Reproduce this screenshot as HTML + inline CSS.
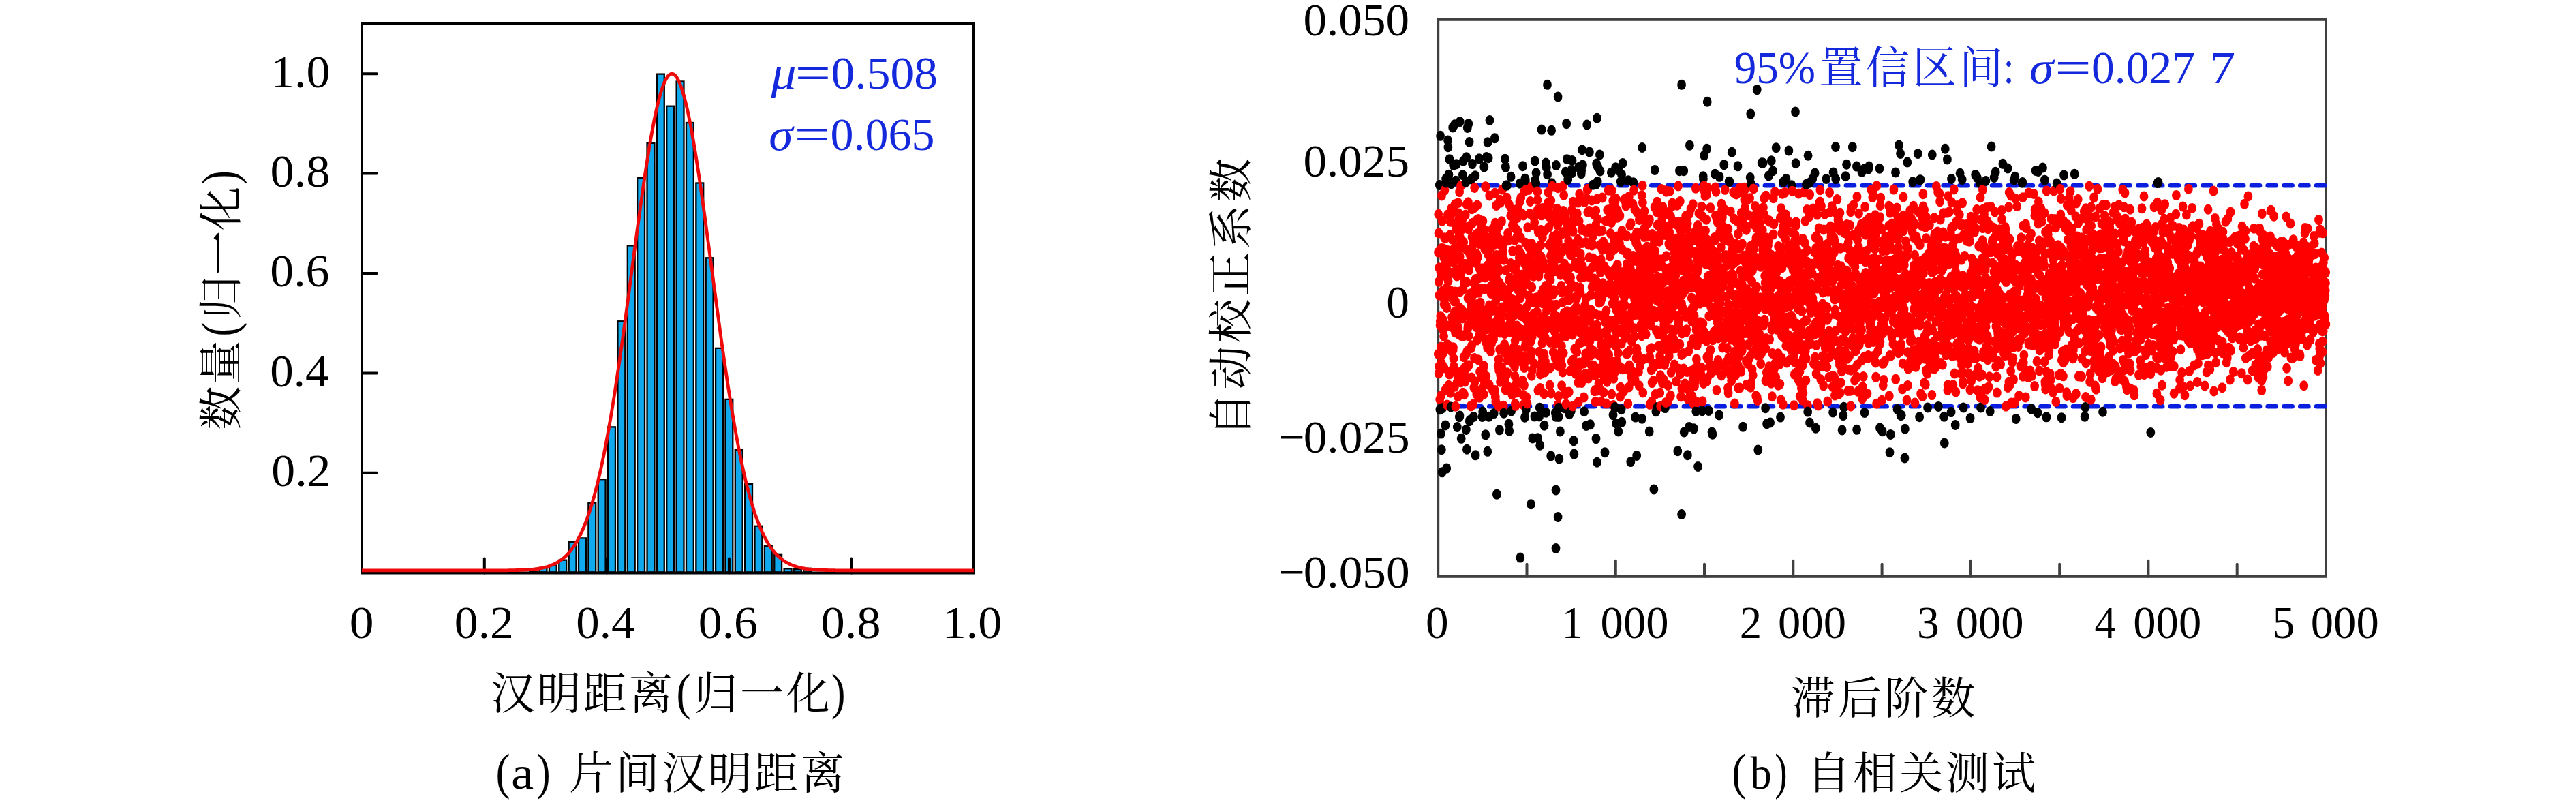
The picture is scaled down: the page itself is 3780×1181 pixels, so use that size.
<!DOCTYPE html>
<html lang="zh"><head><meta charset="utf-8"><title>figure</title>
<style>
html,body{margin:0;padding:0;background:#fff}
svg{display:block}
text{font-family:"Liberation Serif","Noto Serif CJK SC",serif;font-size:67px;fill:#000;white-space:pre}
.c{font-size:64.3px}
.b{fill:#1428dc}
.i{font-style:italic}
.p{font-size:73px}
</style></head><body>
<svg width="3780" height="1181" viewBox="0 0 3780 1181">
<rect width="3780" height="1181" fill="#fff"/>
<g fill="#10a9ee" stroke="#000" stroke-width="2.3">
<rect x="777.20" y="838.42" width="10.86" height="1.08"/>
<rect x="791.56" y="832.93" width="10.86" height="6.57"/>
<rect x="805.92" y="829.64" width="10.86" height="9.86"/>
<rect x="820.28" y="821.66" width="10.86" height="17.84"/>
<rect x="834.64" y="795.09" width="10.86" height="44.41"/>
<rect x="849.01" y="789.38" width="10.86" height="50.12"/>
<rect x="863.37" y="737.70" width="10.86" height="101.80"/>
<rect x="877.73" y="703.22" width="10.86" height="136.28"/>
<rect x="892.09" y="626.36" width="10.86" height="213.14"/>
<rect x="906.45" y="471.25" width="10.86" height="368.25"/>
<rect x="920.81" y="360.43" width="10.86" height="479.07"/>
<rect x="935.17" y="261.02" width="10.86" height="578.48"/>
<rect x="949.54" y="209.85" width="10.86" height="629.65"/>
<rect x="963.90" y="108.62" width="10.86" height="730.88"/>
<rect x="978.26" y="155.69" width="10.86" height="683.81"/>
<rect x="992.62" y="119.45" width="10.86" height="720.05"/>
<rect x="1006.98" y="179.99" width="10.86" height="659.51"/>
<rect x="1021.34" y="268.49" width="10.86" height="571.01"/>
<rect x="1035.71" y="378.29" width="10.86" height="461.21"/>
<rect x="1050.07" y="510.85" width="10.86" height="328.65"/>
<rect x="1064.43" y="585.88" width="10.86" height="253.62"/>
<rect x="1078.79" y="659.96" width="10.86" height="179.54"/>
<rect x="1093.15" y="709.88" width="10.86" height="129.62"/>
<rect x="1107.51" y="771.74" width="10.86" height="67.76"/>
<rect x="1121.88" y="800.87" width="10.86" height="38.63"/>
<rect x="1136.24" y="813.83" width="10.86" height="25.67"/>
<rect x="1150.60" y="834.32" width="10.86" height="5.18"/>
<rect x="1164.96" y="835.13" width="10.86" height="4.37"/>
<rect x="1179.32" y="833.88" width="10.86" height="5.62"/>
</g>
<g fill="none" stroke="#000" stroke-width="4" stroke-linecap="round">
<rect x="531.0" y="35.0" width="898.0" height="805.5" stroke-linejoin="miter"/>
<path d="M531.0 693.8H553.0"/>
<path d="M531.0 547.4H553.0"/>
<path d="M531.0 401.0H553.0"/>
<path d="M531.0 254.6H553.0"/>
<path d="M531.0 108.2H553.0"/>
<path d="M710.8 840.5V819.5"/>
<path d="M890.3 840.5V819.5"/>
<path d="M1069.9 840.5V819.5"/>
<path d="M1249.4 840.5V819.5"/>
</g>
<path d="M531.0 836.9 L533.5 836.9 L535.8 836.9 L538.0 836.9 L540.3 836.9 L542.5 836.9 L544.8 836.9 L547.0 836.9 L549.3 836.9 L551.5 836.9 L553.7 836.9 L556.0 836.9 L558.2 836.9 L560.5 836.9 L562.7 836.9 L565.0 836.9 L567.2 836.9 L569.4 836.9 L571.7 836.9 L573.9 836.9 L576.2 836.9 L578.4 836.9 L580.7 836.9 L582.9 836.9 L585.2 836.9 L587.4 836.9 L589.6 836.9 L591.9 836.9 L594.1 836.9 L596.4 836.9 L598.6 836.9 L600.9 836.9 L603.1 836.9 L605.4 836.9 L607.6 836.9 L609.8 836.9 L612.1 836.9 L614.3 836.9 L616.6 836.9 L618.8 836.9 L621.1 836.9 L623.3 836.9 L625.5 836.9 L627.8 836.9 L630.0 836.9 L632.3 836.9 L634.5 836.9 L636.8 836.9 L639.0 836.9 L641.3 836.9 L643.5 836.9 L645.7 836.9 L648.0 836.9 L650.2 836.9 L652.5 836.9 L654.7 836.9 L657.0 836.9 L659.2 836.9 L661.5 836.9 L663.7 836.9 L665.9 836.9 L668.2 836.9 L670.4 836.9 L672.7 836.9 L674.9 836.9 L677.2 836.9 L679.4 836.9 L681.6 836.9 L683.9 836.9 L686.1 836.9 L688.4 836.9 L690.6 836.9 L692.9 836.9 L695.1 836.9 L697.4 836.9 L699.6 836.9 L701.8 836.9 L704.1 836.9 L706.3 836.9 L708.6 836.9 L710.8 836.9 L713.1 836.9 L715.3 836.9 L717.6 836.9 L719.8 836.9 L722.0 836.9 L724.3 836.9 L726.5 836.9 L728.8 836.9 L731.0 836.9 L733.3 836.8 L735.5 836.8 L737.7 836.8 L740.0 836.8 L742.2 836.8 L744.5 836.8 L746.7 836.7 L749.0 836.7 L751.2 836.7 L753.5 836.6 L755.7 836.6 L757.9 836.5 L760.2 836.5 L762.4 836.4 L764.7 836.3 L766.9 836.2 L769.2 836.1 L771.4 836.0 L773.7 835.9 L775.9 835.7 L778.1 835.6 L780.4 835.4 L782.6 835.2 L784.9 834.9 L787.1 834.6 L789.4 834.3 L791.6 834.0 L793.8 833.6 L796.1 833.1 L798.3 832.6 L800.6 832.1 L802.8 831.5 L805.1 830.8 L807.3 830.0 L809.6 829.1 L811.8 828.2 L814.0 827.1 L816.3 826.0 L818.5 824.7 L820.8 823.3 L823.0 821.8 L825.3 820.1 L827.5 818.2 L829.8 816.2 L832.0 814.0 L834.2 811.6 L836.5 809.0 L838.7 806.1 L841.0 803.0 L843.2 799.7 L845.5 796.0 L847.7 792.1 L849.9 787.9 L852.2 783.4 L854.4 778.5 L856.7 773.3 L858.9 767.8 L861.2 761.8 L863.4 755.5 L865.7 748.7 L867.9 741.6 L870.1 734.0 L872.4 726.0 L874.6 717.5 L876.9 708.5 L879.1 699.1 L881.4 689.2 L883.6 678.9 L885.9 668.1 L888.1 656.7 L890.3 645.0 L892.6 632.7 L894.8 620.0 L897.1 606.8 L899.3 593.2 L901.6 579.2 L903.8 564.7 L906.0 549.9 L908.3 534.7 L910.5 519.1 L912.8 503.3 L915.0 487.2 L917.3 470.8 L919.5 454.2 L921.8 437.5 L924.0 420.7 L926.2 403.7 L928.5 386.8 L930.7 369.9 L933.0 353.0 L935.2 336.3 L937.5 319.8 L939.7 303.5 L942.0 287.5 L944.2 271.8 L946.4 256.6 L948.7 241.8 L950.9 227.6 L953.2 213.9 L955.4 200.8 L957.7 188.5 L959.9 176.8 L962.1 166.0 L964.4 155.9 L966.6 146.8 L968.9 138.5 L971.1 131.2 L973.4 124.8 L975.6 119.4 L977.9 115.1 L980.1 111.8 L982.3 109.6 L984.6 108.4 L986.8 108.3 L989.1 109.2 L991.3 111.3 L993.6 114.4 L995.8 118.5 L998.1 123.7 L1000.3 129.8 L1002.5 137.0 L1004.8 145.0 L1007.0 154.0 L1009.3 163.9 L1011.5 174.6 L1013.8 186.1 L1016.0 198.3 L1018.2 211.2 L1020.5 224.8 L1022.7 238.9 L1025.0 253.6 L1027.2 268.8 L1029.5 284.3 L1031.7 300.3 L1034.0 316.5 L1036.2 333.0 L1038.4 349.7 L1040.7 366.5 L1042.9 383.4 L1045.2 400.3 L1047.4 417.3 L1049.7 434.1 L1051.9 450.9 L1054.2 467.5 L1056.4 483.9 L1058.6 500.1 L1060.9 516.0 L1063.1 531.6 L1065.4 546.9 L1067.6 561.8 L1069.9 576.3 L1072.1 590.4 L1074.3 604.1 L1076.6 617.4 L1078.8 630.2 L1081.1 642.5 L1083.3 654.4 L1085.6 665.8 L1087.8 676.8 L1090.1 687.2 L1092.3 697.2 L1094.5 706.7 L1096.8 715.7 L1099.0 724.3 L1101.3 732.4 L1103.5 740.1 L1105.8 747.3 L1108.0 754.2 L1110.3 760.6 L1112.5 766.6 L1114.7 772.2 L1117.0 777.5 L1119.2 782.4 L1121.5 787.0 L1123.7 791.3 L1126.0 795.3 L1128.2 798.9 L1130.4 802.4 L1132.7 805.5 L1134.9 808.4 L1137.2 811.1 L1139.4 813.5 L1141.7 815.8 L1143.9 817.8 L1146.2 819.7 L1148.4 821.5 L1150.6 823.0 L1152.9 824.5 L1155.1 825.7 L1157.4 826.9 L1159.6 828.0 L1161.9 829.0 L1164.1 829.8 L1166.4 830.6 L1168.6 831.3 L1170.8 832.0 L1173.1 832.5 L1175.3 833.0 L1177.6 833.5 L1179.8 833.9 L1182.1 834.3 L1184.3 834.6 L1186.5 834.9 L1188.8 835.1 L1191.0 835.3 L1193.3 835.5 L1195.5 835.7 L1197.8 835.9 L1200.0 836.0 L1202.3 836.1 L1204.5 836.2 L1206.7 836.3 L1209.0 836.4 L1211.2 836.5 L1213.5 836.5 L1215.7 836.6 L1218.0 836.6 L1220.2 836.7 L1222.5 836.7 L1224.7 836.7 L1226.9 836.8 L1229.2 836.8 L1231.4 836.8 L1233.7 836.8 L1235.9 836.8 L1238.2 836.8 L1240.4 836.8 L1242.6 836.9 L1244.9 836.9 L1247.1 836.9 L1249.4 836.9 L1251.6 836.9 L1253.9 836.9 L1256.1 836.9 L1258.4 836.9 L1260.6 836.9 L1262.8 836.9 L1265.1 836.9 L1267.3 836.9 L1269.6 836.9 L1271.8 836.9 L1274.1 836.9 L1276.3 836.9 L1278.6 836.9 L1280.8 836.9 L1283.0 836.9 L1285.3 836.9 L1287.5 836.9 L1289.8 836.9 L1292.0 836.9 L1294.3 836.9 L1296.5 836.9 L1298.7 836.9 L1301.0 836.9 L1303.2 836.9 L1305.5 836.9 L1307.7 836.9 L1310.0 836.9 L1312.2 836.9 L1314.5 836.9 L1316.7 836.9 L1318.9 836.9 L1321.2 836.9 L1323.4 836.9 L1325.7 836.9 L1327.9 836.9 L1330.2 836.9 L1332.4 836.9 L1334.7 836.9 L1336.9 836.9 L1339.1 836.9 L1341.4 836.9 L1343.6 836.9 L1345.9 836.9 L1348.1 836.9 L1350.4 836.9 L1352.6 836.9 L1354.8 836.9 L1357.1 836.9 L1359.3 836.9 L1361.6 836.9 L1363.8 836.9 L1366.1 836.9 L1368.3 836.9 L1370.6 836.9 L1372.8 836.9 L1375.0 836.9 L1377.3 836.9 L1379.5 836.9 L1381.8 836.9 L1384.0 836.9 L1386.3 836.9 L1388.5 836.9 L1390.8 836.9 L1393.0 836.9 L1395.2 836.9 L1397.5 836.9 L1399.7 836.9 L1402.0 836.9 L1404.2 836.9 L1406.5 836.9 L1408.7 836.9 L1410.9 836.9 L1413.2 836.9 L1415.4 836.9 L1417.7 836.9 L1419.9 836.9 L1422.2 836.9 L1424.4 836.9 L1426.7 836.9 L1428.9 836.9" fill="none" stroke="#ee0a0a" stroke-width="4.8" stroke-linejoin="round" stroke-linecap="butt"/>
<g fill="none" stroke="#404040" stroke-width="4" stroke-linecap="round">
<rect x="2110.2" y="28.8" width="1302.8" height="817.0"/>
<path d="M2240.5 845.8V827.8"/>
<path d="M2370.8 845.8V822.8"/>
<path d="M2501.0 845.8V827.8"/>
<path d="M2631.3 845.8V822.8"/>
<path d="M2761.6 845.8V827.8"/>
<path d="M2891.9 845.8V822.8"/>
<path d="M3022.2 845.8V827.8"/>
<path d="M3152.4 845.8V822.8"/>
<path d="M3282.7 845.8V827.8"/>
</g>
<path d="M2113.8 272.3H3413.0" fill="none" stroke="#0a1ee0" stroke-width="6.5" stroke-dasharray="12.3 11.5" stroke-linecap="round"/>
<path d="M2113.8 596.3H3413.0" fill="none" stroke="#0a1ee0" stroke-width="6.5" stroke-dasharray="12.3 11.5" stroke-linecap="round"/>
<g fill="none" stroke-width="12.8" stroke-linecap="round" transform="scale(1 1.1719)">
<path stroke="#f00" d="M2110.3 443.2h0M2110.5 315.8h0M2110.7 268.1h0M2111.0 291.8h0M2111.2 467.5h0M2111.4 352.7h0M2111.6 458.7h0M2111.8 335.1h0M2112.0 369.6h0"/>
<path stroke="#000" d="M2112.3 231.7h0"/>
<path stroke="#f00" d="M2112.5 442.8h0M2112.7 500.1h0"/>
<path stroke="#000" d="M2112.9 512.7h0"/>
<path stroke="#f00" d="M2113.1 407.5h0M2113.3 402.1h0"/>
<path stroke="#000" d="M2113.6 170.1h0"/>
<path stroke="#f00" d="M2113.8 395.7h0M2114.0 341.0h0M2114.2 495.6h0"/>
<path stroke="#000" d="M2114.4 542.8h0"/>
<path stroke="#f00" d="M2114.7 434.4h0M2114.9 454.5h0M2115.1 311.0h0"/>
<path stroke="#000" d="M2115.3 563.0h0"/>
<path stroke="#f00" d="M2115.5 244.8h0M2115.7 339.7h0M2116.0 398.1h0"/>
<path stroke="#000" d="M2116.1 591.2h0"/>
<path stroke="#f00" d="M2116.2 276.6h0M2116.4 457.2h0"/>
<path stroke="#000" d="M2116.6 510.9h0"/>
<path stroke="#f00" d="M2116.8 441.2h0M2117.0 443.0h0M2117.3 364.1h0M2117.5 400.6h0M2117.7 413.2h0M2117.9 311.3h0M2118.1 334.3h0M2118.3 345.0h0M2118.6 420.9h0M2118.8 322.8h0M2119.0 460.7h0M2119.2 381.0h0M2119.4 375.3h0M2119.6 297.7h0M2119.9 238.1h0M2120.1 374.2h0M2120.3 489.0h0M2120.5 363.5h0M2120.7 298.5h0"/>
<path stroke="#000" d="M2120.9 532.4h0"/>
<path stroke="#f00" d="M2121.2 382.4h0M2121.4 361.8h0"/>
<path stroke="#000" d="M2121.6 224.0h0"/>
<path stroke="#f00" d="M2121.8 371.4h0"/>
<path stroke="#000" d="M2122.0 228.7h0"/>
<path stroke="#f00" d="M2122.3 361.7h0M2122.5 332.4h0"/>
<path stroke="#000" d="M2122.7 586.3h0"/>
<path stroke="#f00" d="M2122.9 385.2h0M2123.1 485.5h0M2123.3 506.8h0M2123.6 340.0h0M2123.8 431.6h0M2124.0 366.0h0M2124.2 313.5h0M2124.4 268.8h0"/>
<path stroke="#000" d="M2124.6 175.8h0M2124.9 184.1h0"/>
<path stroke="#f00" d="M2125.1 351.9h0M2125.3 407.9h0M2125.5 340.3h0M2125.7 482.3h0"/>
<path stroke="#000" d="M2125.9 218.6h0"/>
<path stroke="#f00" d="M2126.2 269.7h0M2126.4 327.3h0M2126.6 434.5h0M2126.8 468.5h0"/>
<path stroke="#000" d="M2127.0 199.4h0"/>
<path stroke="#f00" d="M2127.2 434.1h0M2127.5 294.4h0M2127.7 315.2h0M2127.9 437.1h0M2128.1 277.6h0M2128.3 491.7h0M2128.5 364.0h0M2128.8 269.7h0"/>
<path stroke="#000" d="M2129.0 509.4h0"/>
<path stroke="#f00" d="M2129.2 371.9h0"/>
<path stroke="#000" d="M2129.4 230.2h0"/>
<path stroke="#f00" d="M2129.6 261.2h0M2129.9 406.1h0M2130.1 439.9h0M2130.3 463.9h0M2130.5 397.0h0M2130.7 321.9h0M2130.9 299.7h0M2131.2 409.6h0M2131.4 341.5h0M2131.6 437.4h0"/>
<path stroke="#000" d="M2131.7 159.5h0"/>
<path stroke="#f00" d="M2131.8 313.1h0M2132.0 262.9h0M2132.2 438.2h0M2132.5 435.0h0"/>
<path stroke="#000" d="M2132.7 206.8h0"/>
<path stroke="#f00" d="M2132.9 448.7h0M2133.1 328.2h0M2133.3 458.7h0M2133.5 312.6h0M2133.8 377.1h0M2134.0 391.1h0M2134.2 369.2h0M2134.4 484.1h0"/>
<path stroke="#000" d="M2134.6 156.0h0"/>
<path stroke="#f00" d="M2134.8 365.2h0M2135.1 255.8h0M2135.3 280.7h0M2135.5 416.3h0M2135.7 377.3h0M2135.9 508.8h0"/>
<path stroke="#000" d="M2136.1 226.4h0"/>
<path stroke="#f00" d="M2136.4 308.4h0M2136.6 286.2h0M2136.8 365.4h0"/>
<path stroke="#000" d="M2137.0 205.5h0"/>
<path stroke="#f00" d="M2137.2 337.6h0M2137.5 395.0h0M2137.7 279.7h0M2137.9 345.5h0M2138.1 478.5h0"/>
<path stroke="#000" d="M2138.3 534.6h0"/>
<path stroke="#f00" d="M2138.5 286.1h0M2138.8 401.4h0M2139.0 471.5h0M2139.2 398.5h0M2139.4 496.5h0M2139.6 253.9h0M2139.8 410.3h0M2140.1 267.0h0M2140.3 475.1h0M2140.5 274.8h0M2140.7 418.5h0M2140.9 296.9h0M2141.1 293.1h0"/>
<path stroke="#000" d="M2141.4 522.0h0"/>
<path stroke="#f00" d="M2141.6 240.3h0M2141.8 385.3h0"/>
<path stroke="#000" d="M2142.0 520.5h0M2142.2 152.4h0"/>
<path stroke="#f00" d="M2142.2 321.2h0M2142.4 466.2h0M2142.7 365.0h0M2142.9 298.1h0M2143.1 344.1h0M2143.3 474.3h0M2143.5 232.7h0M2143.7 478.5h0M2144.0 306.7h0"/>
<path stroke="#000" d="M2144.2 549.0h0"/>
<path stroke="#f00" d="M2144.4 310.2h0M2144.6 336.6h0M2144.8 420.6h0M2145.0 330.7h0M2145.3 388.4h0M2145.5 338.9h0M2145.7 275.0h0M2145.9 306.8h0M2146.1 398.5h0"/>
<path stroke="#000" d="M2146.4 219.1h0"/>
<path stroke="#f00" d="M2146.6 491.7h0M2146.8 286.3h0M2147.0 362.3h0"/>
<path stroke="#000" d="M2147.2 201.6h0"/>
<path stroke="#f00" d="M2147.4 419.7h0M2147.7 303.1h0M2147.9 420.5h0M2148.1 447.0h0M2148.3 354.8h0M2148.5 493.8h0M2148.7 284.2h0M2149.0 352.7h0M2149.2 460.5h0M2149.4 330.4h0M2149.6 353.5h0M2149.8 477.8h0M2150.0 475.1h0M2150.3 269.0h0M2150.5 472.0h0M2150.7 419.6h0"/>
<path stroke="#000" d="M2150.9 228.1h0"/>
<path stroke="#f00" d="M2151.1 461.8h0"/>
<path stroke="#000" d="M2151.3 538.0h0"/>
<path stroke="#f00" d="M2151.6 443.3h0"/>
<path stroke="#000" d="M2151.8 196.9h0"/>
<path stroke="#f00" d="M2152.0 353.3h0M2152.2 255.9h0"/>
<path stroke="#000" d="M2152.4 562.6h0"/>
<path stroke="#f00" d="M2152.6 313.4h0M2152.9 439.7h0M2153.1 457.5h0"/>
<path stroke="#000" d="M2153.3 160.0h0"/>
<path stroke="#f00" d="M2153.5 459.1h0M2153.7 411.2h0M2154.0 373.1h0M2154.2 407.6h0M2154.4 253.2h0M2154.6 286.6h0"/>
<path stroke="#000" d="M2154.7 155.0h0"/>
<path stroke="#f00" d="M2154.8 420.0h0M2155.0 420.6h0M2155.3 457.2h0M2155.5 390.8h0M2155.7 338.2h0M2155.9 395.1h0"/>
<path stroke="#000" d="M2156.1 177.9h0M2156.3 527.1h0M2156.6 526.1h0"/>
<path stroke="#f00" d="M2156.8 282.8h0M2157.0 315.1h0M2157.2 319.3h0M2157.4 328.4h0M2157.6 367.5h0M2157.9 398.3h0M2158.1 508.1h0M2158.3 382.4h0M2158.5 508.6h0M2158.7 435.7h0"/>
<path stroke="#000" d="M2158.9 224.4h0"/>
<path stroke="#f00" d="M2159.2 400.4h0M2159.4 472.8h0M2159.6 432.5h0M2159.8 261.8h0M2160.0 296.7h0M2160.2 309.5h0"/>
<path stroke="#000" d="M2160.5 205.3h0"/>
<path stroke="#f00" d="M2160.7 367.1h0M2160.9 279.3h0M2161.1 324.2h0M2161.3 299.9h0M2161.6 379.9h0M2161.8 368.4h0M2162.0 506.0h0M2162.2 383.5h0"/>
<path stroke="#000" d="M2162.4 521.7h0"/>
<path stroke="#f00" d="M2162.6 367.7h0M2162.9 485.2h0M2163.1 355.1h0M2163.3 260.0h0M2163.5 448.5h0M2163.7 235.1h0M2163.9 383.9h0M2164.2 355.6h0M2164.4 477.8h0M2164.6 357.3h0"/>
<path stroke="#000" d="M2164.8 219.9h0"/>
<path stroke="#f00" d="M2165.0 294.5h0"/>
<path stroke="#000" d="M2165.1 569.9h0"/>
<path stroke="#f00" d="M2165.2 349.4h0M2165.5 298.7h0M2165.7 409.2h0M2165.9 383.4h0M2166.1 329.1h0M2166.3 390.6h0M2166.5 327.6h0M2166.8 493.7h0M2167.0 318.1h0M2167.2 275.4h0M2167.4 425.9h0M2167.6 298.9h0M2167.8 256.8h0M2168.1 292.3h0M2168.3 399.4h0M2168.5 322.0h0M2168.7 380.7h0M2168.9 497.1h0M2169.2 450.3h0M2169.4 274.4h0M2169.6 366.2h0M2169.8 348.1h0M2170.0 389.3h0M2170.2 305.0h0"/>
<path stroke="#000" d="M2170.5 198.7h0"/>
<path stroke="#f00" d="M2170.7 299.9h0M2170.9 497.6h0M2171.1 418.3h0M2171.3 336.7h0M2171.5 465.3h0M2171.8 384.1h0M2172.0 379.7h0M2172.2 393.4h0M2172.4 378.9h0M2172.6 391.4h0M2172.8 410.6h0M2173.1 471.9h0M2173.3 414.1h0M2173.5 391.8h0M2173.7 487.6h0M2173.9 361.1h0M2174.1 283.7h0M2174.4 305.5h0M2174.6 417.6h0M2174.8 336.0h0"/>
<path stroke="#000" d="M2175.0 521.7h0"/>
<path stroke="#f00" d="M2175.2 392.6h0M2175.4 285.2h0"/>
<path stroke="#000" d="M2175.7 515.5h0"/>
<path stroke="#f00" d="M2175.9 276.6h0M2176.1 343.2h0M2176.3 462.7h0M2176.5 305.2h0M2176.8 388.6h0M2177.0 402.2h0M2177.2 493.5h0M2177.4 458.0h0M2177.6 290.9h0"/>
<path stroke="#000" d="M2177.8 209.0h0"/>
<path stroke="#f00" d="M2178.1 481.3h0M2178.3 361.5h0M2178.5 288.3h0M2178.7 311.6h0M2178.9 347.3h0M2179.1 424.9h0M2179.4 311.9h0M2179.6 233.6h0"/>
<path stroke="#000" d="M2179.8 544.3h0"/>
<path stroke="#f00" d="M2180.0 303.9h0M2180.2 234.0h0M2180.4 301.0h0M2180.7 412.4h0M2180.9 471.1h0M2181.1 429.4h0"/>
<path stroke="#000" d="M2181.3 196.7h0"/>
<path stroke="#f00" d="M2181.5 399.3h0M2181.7 406.5h0M2182.0 303.5h0M2182.2 302.8h0M2182.4 332.6h0M2182.6 435.2h0"/>
<path stroke="#000" d="M2182.8 565.2h0M2183.0 178.1h0"/>
<path stroke="#f00" d="M2183.3 399.1h0M2183.5 299.6h0M2183.7 318.8h0M2183.9 338.7h0"/>
<path stroke="#000" d="M2184.1 197.7h0"/>
<path stroke="#f00" d="M2184.4 361.8h0M2184.6 342.2h0"/>
<path stroke="#000" d="M2184.8 521.5h0"/>
<path stroke="#f00" d="M2185.0 337.6h0M2185.2 481.8h0M2185.4 382.3h0M2185.7 244.8h0M2185.9 390.8h0"/>
<path stroke="#000" d="M2186.0 150.6h0"/>
<path stroke="#f00" d="M2186.1 340.0h0M2186.3 297.6h0M2186.5 324.9h0M2186.7 311.2h0M2187.0 436.9h0M2187.2 335.4h0M2187.4 439.9h0M2187.6 345.7h0M2187.8 358.2h0M2188.0 367.3h0M2188.3 385.7h0M2188.5 430.2h0M2188.7 426.3h0M2188.9 327.2h0M2189.1 425.5h0M2189.3 413.4h0M2189.6 326.0h0M2189.8 286.9h0M2190.0 327.5h0M2190.2 420.4h0M2190.4 488.6h0M2190.6 293.5h0M2190.9 382.1h0M2191.1 299.8h0M2191.3 407.7h0M2191.5 357.4h0M2191.7 424.3h0M2192.0 388.4h0"/>
<path stroke="#000" d="M2192.2 517.6h0"/>
<path stroke="#f00" d="M2192.4 414.1h0M2192.6 306.7h0M2192.8 288.0h0M2193.0 336.6h0"/>
<path stroke="#000" d="M2193.3 173.0h0"/>
<path stroke="#f00" d="M2193.5 488.6h0M2193.7 241.7h0M2193.9 404.3h0M2194.1 279.2h0M2194.3 497.0h0M2194.6 356.7h0M2194.8 502.6h0M2195.0 375.8h0M2195.2 321.7h0M2195.4 363.3h0M2195.6 257.3h0M2195.9 319.6h0M2196.1 349.2h0M2196.3 359.3h0"/>
<path stroke="#000" d="M2196.4 618.8h0"/>
<path stroke="#f00" d="M2196.5 287.7h0M2196.7 372.4h0M2196.9 340.8h0M2197.2 296.2h0M2197.4 327.1h0M2197.6 411.8h0M2197.8 323.6h0M2198.0 399.0h0M2198.2 458.1h0M2198.5 335.9h0M2198.7 404.7h0M2198.9 284.0h0M2199.1 450.1h0M2199.3 508.8h0M2199.6 463.6h0M2199.8 299.3h0M2200.0 338.5h0M2200.2 353.9h0"/>
<path stroke="#000" d="M2200.4 538.3h0"/>
<path stroke="#f00" d="M2200.6 437.5h0M2200.9 416.4h0M2201.1 250.2h0M2201.3 319.3h0M2201.5 478.0h0M2201.7 469.8h0M2201.9 253.6h0M2202.2 468.5h0M2202.4 392.3h0M2202.6 400.9h0M2202.8 413.3h0M2203.0 307.8h0M2203.2 384.8h0M2203.5 277.2h0M2203.7 459.9h0M2203.9 392.3h0M2204.1 475.8h0M2204.3 359.2h0M2204.5 237.3h0M2204.8 317.7h0M2205.0 370.4h0M2205.2 313.9h0M2205.4 410.2h0M2205.6 365.9h0M2205.8 306.8h0M2206.1 385.8h0M2206.3 507.9h0M2206.5 471.5h0"/>
<path stroke="#000" d="M2206.7 517.3h0"/>
<path stroke="#f00" d="M2206.9 325.3h0M2207.2 416.3h0M2207.4 441.4h0M2207.6 431.3h0M2207.8 417.8h0M2208.0 476.1h0M2208.2 474.4h0"/>
<path stroke="#000" d="M2208.5 199.0h0"/>
<path stroke="#f00" d="M2208.7 437.2h0M2208.9 436.9h0M2209.1 487.9h0"/>
<path stroke="#000" d="M2209.3 208.6h0M2209.5 209.4h0"/>
<path stroke="#f00" d="M2209.8 338.3h0"/>
<path stroke="#000" d="M2210.0 232.1h0"/>
<path stroke="#f00" d="M2210.2 413.8h0M2210.4 469.8h0M2210.6 299.5h0M2210.8 374.2h0M2211.1 247.7h0"/>
<path stroke="#000" d="M2211.3 232.2h0"/>
<path stroke="#f00" d="M2211.5 437.1h0M2211.7 379.7h0M2211.9 466.6h0M2212.1 450.9h0M2212.4 439.0h0M2212.6 292.2h0M2212.8 408.4h0M2213.0 363.6h0M2213.2 301.1h0M2213.4 414.3h0M2213.7 484.6h0"/>
<path stroke="#000" d="M2213.9 530.9h0"/>
<path stroke="#f00" d="M2214.1 396.1h0M2214.3 255.8h0M2214.5 350.6h0"/>
<path stroke="#000" d="M2214.7 539.5h0"/>
<path stroke="#f00" d="M2215.0 374.7h0M2215.2 415.4h0M2215.4 405.3h0M2215.6 348.2h0M2215.8 387.3h0M2216.1 360.0h0M2216.3 489.3h0M2216.5 394.3h0M2216.7 270.0h0M2216.9 329.9h0"/>
<path stroke="#000" d="M2217.1 221.3h0"/>
<path stroke="#f00" d="M2217.4 490.0h0"/>
<path stroke="#000" d="M2217.6 514.6h0"/>
<path stroke="#f00" d="M2217.8 439.4h0M2218.0 445.6h0M2218.2 261.3h0M2218.4 446.9h0M2218.7 375.3h0M2218.9 494.1h0M2219.1 406.2h0M2219.3 281.9h0M2219.5 375.1h0M2219.7 314.3h0M2220.0 441.7h0M2220.2 335.5h0M2220.4 270.5h0M2220.6 280.8h0M2220.8 350.3h0M2221.0 455.7h0M2221.3 417.5h0M2221.5 394.8h0M2221.7 434.2h0M2221.9 336.0h0M2222.1 332.0h0M2222.3 445.2h0M2222.6 459.2h0M2222.8 300.5h0M2223.0 471.1h0M2223.2 426.7h0M2223.4 505.7h0M2223.7 376.3h0M2223.9 508.0h0M2224.1 338.5h0M2224.3 377.8h0M2224.5 286.7h0M2224.7 480.6h0M2225.0 384.0h0M2225.2 331.0h0M2225.4 263.0h0M2225.6 354.7h0M2225.8 296.7h0M2226.0 407.8h0M2226.3 491.4h0M2226.5 272.6h0M2226.7 490.6h0M2226.9 360.8h0M2227.1 362.5h0M2227.3 289.5h0M2227.6 447.2h0M2227.8 260.9h0M2228.0 343.3h0M2228.2 392.8h0M2228.4 312.3h0M2228.6 438.1h0M2228.9 358.5h0M2229.1 417.9h0M2229.3 322.6h0M2229.5 420.2h0M2229.7 386.4h0M2229.9 253.0h0"/>
<path stroke="#000" d="M2230.2 229.7h0"/>
<path stroke="#f00" d="M2230.4 323.9h0M2230.6 412.6h0M2230.8 373.2h0"/>
<path stroke="#000" d="M2230.8 698.1h0"/>
<path stroke="#f00" d="M2231.0 369.7h0M2231.3 297.4h0M2231.5 478.7h0M2231.7 247.5h0M2231.9 318.0h0M2232.1 354.8h0M2232.3 452.6h0M2232.6 412.9h0M2232.8 344.0h0M2233.0 395.8h0M2233.2 321.3h0M2233.4 322.6h0M2233.6 267.8h0M2233.9 365.1h0M2234.1 476.4h0M2234.3 354.0h0"/>
<path stroke="#000" d="M2234.5 207.9h0"/>
<path stroke="#f00" d="M2234.7 344.2h0M2234.9 349.7h0M2235.2 494.7h0M2235.4 506.8h0M2235.6 269.6h0M2235.8 389.5h0M2236.0 422.1h0M2236.2 447.1h0M2236.5 482.2h0M2236.7 460.4h0M2236.9 239.7h0M2237.1 356.2h0M2237.3 330.0h0"/>
<path stroke="#000" d="M2237.5 522.5h0M2237.8 223.7h0"/>
<path stroke="#f00" d="M2238.0 434.0h0"/>
<path stroke="#000" d="M2238.2 224.8h0M2238.4 226.7h0"/>
<path stroke="#f00" d="M2238.6 303.9h0M2238.9 429.4h0M2239.1 237.6h0"/>
<path stroke="#000" d="M2239.3 512.9h0"/>
<path stroke="#f00" d="M2239.5 348.0h0M2239.7 497.2h0M2239.9 400.1h0M2240.2 430.3h0M2240.4 384.4h0M2240.6 336.1h0M2240.8 355.3h0M2241.0 505.2h0M2241.2 450.6h0M2241.5 306.8h0M2241.7 284.8h0M2241.9 396.6h0M2242.1 419.3h0M2242.3 409.8h0M2242.5 325.8h0M2242.8 449.8h0M2243.0 237.7h0M2243.2 370.4h0M2243.4 309.4h0M2243.6 337.5h0M2243.8 321.7h0M2244.1 445.5h0M2244.3 335.2h0M2244.5 378.5h0M2244.7 267.5h0M2244.9 424.9h0M2245.1 416.1h0M2245.4 252.2h0M2245.6 417.3h0M2245.8 344.2h0M2246.0 427.6h0M2246.2 407.1h0M2246.5 318.0h0"/>
<path stroke="#000" d="M2246.5 631.3h0"/>
<path stroke="#f00" d="M2246.7 446.0h0M2246.9 439.9h0M2247.1 234.0h0M2247.3 470.4h0M2247.5 305.2h0M2247.8 359.5h0M2248.0 316.8h0M2248.2 421.9h0M2248.4 463.7h0M2248.6 334.8h0"/>
<path stroke="#000" d="M2248.8 548.7h0"/>
<path stroke="#f00" d="M2249.1 409.9h0M2249.3 333.9h0M2249.5 410.4h0M2249.7 328.8h0M2249.9 378.6h0M2250.1 393.5h0M2250.4 345.7h0M2250.6 373.7h0M2250.8 272.3h0M2251.0 282.5h0M2251.2 409.1h0M2251.4 455.6h0M2251.7 278.6h0"/>
<path stroke="#000" d="M2251.9 521.3h0"/>
<path stroke="#f00" d="M2252.1 401.5h0"/>
<path stroke="#000" d="M2252.3 201.6h0"/>
<path stroke="#f00" d="M2252.5 332.5h0"/>
<path stroke="#000" d="M2252.7 225.6h0"/>
<path stroke="#f00" d="M2253.0 329.9h0M2253.2 410.6h0M2253.4 378.1h0M2253.6 332.2h0"/>
<path stroke="#000" d="M2253.8 229.5h0M2254.1 216.6h0"/>
<path stroke="#f00" d="M2254.3 340.5h0M2254.5 372.6h0M2254.7 315.2h0M2254.9 412.8h0M2255.1 340.0h0M2255.4 390.4h0M2255.6 331.4h0M2255.8 239.8h0M2256.0 250.5h0M2256.2 262.9h0M2256.4 311.5h0"/>
<path stroke="#000" d="M2256.7 548.5h0"/>
<path stroke="#f00" d="M2256.9 488.7h0M2257.1 290.4h0M2257.3 320.4h0M2257.5 309.9h0M2257.7 332.7h0M2258.0 345.5h0M2258.2 341.8h0M2258.4 440.5h0"/>
<path stroke="#000" d="M2258.6 521.4h0"/>
<path stroke="#f00" d="M2258.8 378.8h0M2259.0 377.7h0"/>
<path stroke="#000" d="M2259.3 510.4h0"/>
<path stroke="#f00" d="M2259.5 417.0h0"/>
<path stroke="#000" d="M2259.7 557.4h0"/>
<path stroke="#f00" d="M2259.9 409.3h0M2260.1 485.9h0M2260.3 468.4h0M2260.6 374.3h0M2260.8 306.9h0M2261.0 459.0h0M2261.2 288.1h0M2261.4 321.5h0M2261.7 263.9h0M2261.9 269.5h0M2262.1 399.4h0"/>
<path stroke="#000" d="M2262.1 162.2h0"/>
<path stroke="#f00" d="M2262.3 367.0h0M2262.5 408.6h0M2262.7 453.4h0M2263.0 429.5h0M2263.2 446.7h0M2263.4 297.1h0M2263.6 260.7h0M2263.8 420.9h0M2264.0 407.9h0M2264.3 379.8h0M2264.5 328.2h0M2264.7 362.0h0M2264.9 369.6h0M2265.1 396.4h0M2265.3 445.4h0M2265.6 443.1h0M2265.8 493.0h0"/>
<path stroke="#000" d="M2266.0 532.6h0"/>
<path stroke="#f00" d="M2266.2 446.9h0M2266.4 335.8h0M2266.6 423.0h0M2266.9 465.9h0M2267.1 288.6h0M2267.3 422.5h0M2267.5 452.7h0M2267.7 401.1h0M2267.9 360.8h0M2268.2 358.0h0"/>
<path stroke="#000" d="M2268.4 203.9h0M2268.6 516.4h0"/>
<path stroke="#f00" d="M2268.8 363.0h0M2269.0 410.9h0"/>
<path stroke="#000" d="M2269.3 209.6h0"/>
<path stroke="#f00" d="M2269.5 388.9h0M2269.7 369.1h0M2269.9 388.3h0M2270.1 410.4h0M2270.3 460.5h0"/>
<path stroke="#000" d="M2270.5 106.1h0M2270.6 218.2h0"/>
<path stroke="#f00" d="M2270.8 357.3h0M2271.0 336.5h0M2271.2 402.7h0M2271.4 254.0h0M2271.6 381.1h0M2271.9 240.9h0M2272.1 346.0h0M2272.3 263.8h0M2272.5 270.7h0M2272.7 284.7h0M2272.9 307.0h0M2273.2 379.3h0M2273.4 406.2h0M2273.6 257.0h0M2273.8 402.4h0M2274.0 482.2h0M2274.2 347.6h0M2274.5 460.7h0M2274.7 347.2h0M2274.9 428.8h0M2275.1 350.2h0M2275.3 320.2h0M2275.5 303.9h0"/>
<path stroke="#000" d="M2275.7 570.8h0"/>
<path stroke="#f00" d="M2275.8 251.3h0M2276.0 401.5h0M2276.2 492.4h0M2276.4 326.7h0"/>
<path stroke="#000" d="M2276.6 163.3h0"/>
<path stroke="#f00" d="M2276.8 275.7h0"/>
<path stroke="#000" d="M2277.1 229.3h0"/>
<path stroke="#f00" d="M2277.3 310.5h0M2277.5 384.0h0M2277.7 233.2h0M2277.9 317.1h0M2278.2 428.4h0M2278.4 368.7h0M2278.6 336.7h0M2278.8 296.3h0M2279.0 276.2h0M2279.2 441.3h0M2279.5 382.0h0M2279.7 385.2h0M2279.9 363.3h0M2280.1 329.8h0M2280.3 366.4h0M2280.5 304.0h0M2280.8 425.9h0M2281.0 394.2h0M2281.2 415.2h0M2281.4 339.4h0M2281.6 430.1h0M2281.8 308.7h0M2282.1 447.9h0"/>
<path stroke="#000" d="M2282.3 516.9h0"/>
<path stroke="#f00" d="M2282.5 397.8h0M2282.7 267.3h0M2282.9 316.2h0"/>
<path stroke="#000" d="M2283.0 686.5h0M2283.0 613.5h0M2283.1 521.5h0M2283.4 207.0h0"/>
<path stroke="#f00" d="M2283.6 294.4h0M2283.8 381.6h0M2284.0 456.7h0M2284.2 450.1h0M2284.4 407.5h0M2284.7 261.3h0M2284.9 447.1h0M2285.1 275.7h0M2285.3 397.1h0M2285.5 281.9h0M2285.8 507.1h0M2286.0 235.3h0"/>
<path stroke="#000" d="M2286.1 647.3h0M2286.1 121.2h0"/>
<path stroke="#f00" d="M2286.2 457.7h0M2286.4 302.8h0M2286.6 279.3h0M2286.8 496.2h0"/>
<path stroke="#000" d="M2287.1 521.8h0M2287.3 510.8h0"/>
<path stroke="#f00" d="M2287.5 337.9h0M2287.7 273.3h0"/>
<path stroke="#000" d="M2287.9 574.5h0"/>
<path stroke="#f00" d="M2288.1 323.2h0M2288.4 323.0h0M2288.6 423.7h0M2288.8 442.9h0M2289.0 457.5h0M2289.2 448.3h0"/>
<path stroke="#000" d="M2289.4 540.2h0"/>
<path stroke="#f00" d="M2289.7 344.0h0M2289.9 400.0h0M2290.1 314.7h0M2290.3 397.8h0M2290.5 450.8h0M2290.7 293.7h0M2291.0 357.9h0M2291.2 343.1h0M2291.4 433.4h0M2291.6 482.7h0M2291.8 365.9h0M2292.0 457.4h0M2292.3 315.1h0M2292.5 411.0h0M2292.7 378.7h0M2292.9 335.9h0M2293.1 465.9h0M2293.4 362.9h0M2293.6 290.6h0M2293.8 232.9h0M2294.0 264.0h0M2294.2 442.1h0M2294.4 272.8h0M2294.7 244.3h0M2294.9 417.0h0M2295.1 392.1h0M2295.3 410.1h0"/>
<path stroke="#000" d="M2295.5 510.9h0"/>
<path stroke="#f00" d="M2295.7 330.4h0M2296.0 310.2h0M2296.2 276.1h0M2296.4 290.8h0M2296.6 490.9h0M2296.8 273.9h0M2297.0 268.9h0"/>
<path stroke="#000" d="M2297.3 215.3h0"/>
<path stroke="#f00" d="M2297.5 493.4h0M2297.7 395.0h0M2297.9 421.0h0M2298.1 506.1h0M2298.3 345.6h0M2298.6 393.7h0"/>
<path stroke="#000" d="M2298.6 155.0h0"/>
<path stroke="#f00" d="M2298.8 292.6h0M2299.0 309.3h0M2299.2 413.9h0"/>
<path stroke="#000" d="M2299.4 199.4h0"/>
<path stroke="#f00" d="M2299.6 389.8h0M2299.9 312.6h0M2300.1 281.6h0M2300.3 375.1h0M2300.5 399.6h0"/>
<path stroke="#000" d="M2300.7 224.8h0"/>
<path stroke="#f00" d="M2301.0 409.9h0M2301.2 393.9h0M2301.4 367.4h0M2301.6 301.5h0M2301.8 349.9h0M2302.0 284.0h0M2302.3 490.7h0M2302.5 363.1h0M2302.7 336.0h0"/>
<path stroke="#000" d="M2302.9 518.5h0"/>
<path stroke="#f00" d="M2303.1 375.2h0M2303.3 407.1h0M2303.6 400.5h0M2303.8 406.1h0M2304.0 464.3h0M2304.2 359.9h0M2304.4 318.9h0M2304.6 347.5h0M2304.9 410.9h0M2305.1 354.5h0"/>
<path stroke="#000" d="M2305.3 514.6h0"/>
<path stroke="#f00" d="M2305.5 410.4h0M2305.7 319.0h0"/>
<path stroke="#000" d="M2305.9 213.0h0"/>
<path stroke="#f00" d="M2306.2 452.6h0M2306.4 263.0h0"/>
<path stroke="#000" d="M2306.6 216.4h0"/>
<path stroke="#f00" d="M2306.8 278.0h0"/>
<path stroke="#000" d="M2307.0 200.9h0"/>
<path stroke="#f00" d="M2307.2 315.3h0M2307.5 418.9h0M2307.7 508.6h0M2307.9 280.1h0M2308.1 252.8h0M2308.3 289.4h0M2308.6 388.8h0M2308.8 450.5h0M2309.0 393.3h0"/>
<path stroke="#000" d="M2309.2 551.9h0"/>
<path stroke="#f00" d="M2309.4 399.2h0M2309.6 271.8h0"/>
<path stroke="#000" d="M2309.9 568.4h0"/>
<path stroke="#f00" d="M2310.1 395.9h0M2310.3 333.4h0M2310.5 305.7h0M2310.7 437.0h0M2310.9 277.0h0M2311.2 412.3h0M2311.4 315.7h0M2311.6 329.4h0M2311.8 437.2h0M2312.0 358.8h0M2312.2 467.9h0M2312.5 332.3h0M2312.7 371.4h0M2312.9 384.7h0M2313.1 373.6h0M2313.3 460.6h0M2313.5 389.0h0M2313.8 440.6h0M2314.0 371.9h0M2314.2 411.6h0M2314.4 267.4h0M2314.6 335.3h0M2314.8 314.9h0M2315.1 275.4h0M2315.3 299.7h0M2315.5 253.5h0M2315.7 413.9h0M2315.9 479.0h0M2316.2 503.2h0M2316.4 459.3h0"/>
<path stroke="#000" d="M2316.6 209.4h0"/>
<path stroke="#f00" d="M2316.8 250.4h0M2317.0 277.0h0M2317.2 276.8h0M2317.5 430.0h0M2317.7 243.1h0M2317.9 405.5h0M2318.1 453.9h0M2318.3 403.5h0M2318.5 415.9h0M2318.8 360.4h0M2319.0 366.2h0M2319.2 318.0h0M2319.4 347.6h0M2319.6 470.6h0M2319.8 324.7h0M2320.1 416.1h0"/>
<path stroke="#000" d="M2320.3 217.4h0"/>
<path stroke="#f00" d="M2320.5 428.5h0"/>
<path stroke="#000" d="M2320.7 213.3h0"/>
<path stroke="#f00" d="M2320.9 479.1h0M2321.1 304.3h0M2321.4 287.9h0"/>
<path stroke="#000" d="M2321.6 187.5h0"/>
<path stroke="#f00" d="M2321.8 398.8h0M2322.0 286.5h0M2322.2 333.5h0"/>
<path stroke="#000" d="M2322.4 206.5h0"/>
<path stroke="#f00" d="M2322.7 455.1h0M2322.9 343.4h0M2323.1 387.3h0M2323.3 346.5h0M2323.5 424.6h0M2323.8 396.2h0M2324.0 423.0h0M2324.2 497.4h0M2324.4 409.9h0"/>
<path stroke="#000" d="M2324.6 515.2h0"/>
<path stroke="#f00" d="M2324.8 454.5h0M2325.1 253.1h0M2325.3 419.1h0M2325.5 395.3h0M2325.7 450.7h0M2325.9 382.0h0M2326.1 427.3h0M2326.4 345.9h0M2326.6 442.8h0M2326.8 467.8h0M2327.0 303.3h0M2327.2 289.8h0M2327.4 373.5h0"/>
<path stroke="#000" d="M2327.7 532.9h0"/>
<path stroke="#f00" d="M2327.9 397.9h0M2328.1 389.0h0M2328.3 446.9h0M2328.5 248.7h0"/>
<path stroke="#000" d="M2328.7 156.2h0"/>
<path stroke="#f00" d="M2329.0 416.7h0M2329.2 237.2h0M2329.4 426.4h0M2329.6 390.3h0M2329.8 265.6h0M2330.0 236.5h0M2330.3 401.3h0M2330.5 305.3h0M2330.7 473.6h0M2330.9 306.4h0M2331.1 339.1h0M2331.4 415.6h0M2331.6 400.6h0M2331.8 264.0h0M2332.0 322.3h0M2332.2 417.2h0"/>
<path stroke="#000" d="M2332.4 190.3h0"/>
<path stroke="#f00" d="M2332.7 400.5h0M2332.9 285.9h0M2333.1 426.6h0M2333.3 442.4h0"/>
<path stroke="#000" d="M2333.5 531.5h0"/>
<path stroke="#f00" d="M2333.7 347.5h0M2334.0 436.5h0M2334.2 418.3h0M2334.4 444.8h0M2334.6 369.0h0M2334.8 292.6h0M2335.0 388.2h0M2335.3 457.3h0M2335.5 417.0h0M2335.7 250.8h0M2335.9 307.2h0M2336.1 359.2h0M2336.3 334.9h0M2336.6 463.3h0M2336.8 291.4h0M2337.0 296.2h0M2337.2 306.5h0M2337.4 323.3h0"/>
<path stroke="#000" d="M2337.6 231.4h0"/>
<path stroke="#f00" d="M2337.9 412.4h0M2338.1 457.5h0M2338.3 439.4h0M2338.5 408.6h0M2338.7 268.3h0M2338.9 267.6h0M2339.2 349.1h0M2339.4 440.3h0M2339.6 325.4h0M2339.8 489.6h0M2340.0 265.7h0M2340.3 420.2h0M2340.5 392.9h0M2340.7 488.6h0M2340.9 469.8h0M2341.1 502.9h0M2341.3 354.9h0M2341.6 281.8h0M2341.8 263.8h0"/>
<path stroke="#000" d="M2342.0 549.2h0M2342.2 230.8h0"/>
<path stroke="#f00" d="M2342.4 333.9h0"/>
<path stroke="#000" d="M2342.6 204.9h0"/>
<path stroke="#f00" d="M2342.9 352.4h0M2343.1 406.7h0M2343.3 461.4h0"/>
<path stroke="#000" d="M2343.5 578.8h0M2343.5 147.9h0"/>
<path stroke="#f00" d="M2343.5 249.3h0M2343.7 420.9h0M2343.9 488.9h0"/>
<path stroke="#000" d="M2344.2 227.5h0"/>
<path stroke="#f00" d="M2344.4 274.3h0"/>
<path stroke="#000" d="M2344.6 209.0h0"/>
<path stroke="#f00" d="M2344.8 371.0h0M2345.0 414.3h0M2345.2 333.6h0M2345.5 415.7h0M2345.7 362.0h0M2345.9 480.5h0M2346.1 394.8h0M2346.3 378.8h0M2346.5 444.6h0M2346.8 289.3h0M2347.0 420.4h0M2347.2 307.0h0"/>
<path stroke="#000" d="M2347.4 193.7h0"/>
<path stroke="#f00" d="M2347.6 467.2h0M2347.9 326.6h0"/>
<path stroke="#000" d="M2348.1 214.2h0"/>
<path stroke="#f00" d="M2348.3 441.8h0M2348.5 341.0h0M2348.7 377.8h0M2348.9 489.0h0M2349.2 324.9h0M2349.4 431.6h0M2349.6 502.6h0M2349.8 288.6h0M2350.0 372.1h0M2350.2 364.3h0M2350.5 369.5h0M2350.7 373.3h0M2350.9 464.0h0M2351.1 288.7h0M2351.3 247.4h0M2351.5 312.6h0M2351.8 430.9h0M2352.0 354.7h0M2352.2 443.3h0M2352.4 368.3h0M2352.6 454.0h0M2352.8 303.0h0M2353.1 491.2h0M2353.3 310.3h0M2353.5 453.5h0M2353.7 311.7h0M2353.9 333.2h0M2354.1 473.0h0M2354.4 399.3h0M2354.6 366.0h0M2354.8 393.9h0"/>
<path stroke="#000" d="M2355.0 566.3h0"/>
<path stroke="#f00" d="M2355.2 397.6h0M2355.5 416.7h0M2355.7 415.6h0M2355.9 403.7h0M2356.1 276.6h0M2356.3 308.1h0M2356.5 358.4h0M2356.8 505.2h0M2357.0 389.1h0M2357.2 437.5h0M2357.4 462.3h0M2357.6 338.0h0M2357.8 400.0h0M2358.1 478.1h0M2358.3 448.8h0M2358.5 364.1h0M2358.7 262.8h0M2358.9 422.1h0M2359.1 456.2h0M2359.4 359.7h0M2359.6 411.6h0M2359.8 474.9h0M2360.0 310.7h0M2360.2 238.2h0M2360.4 313.4h0M2360.7 444.4h0M2360.9 401.2h0M2361.1 356.9h0M2361.3 343.3h0M2361.5 425.2h0M2361.7 273.6h0M2362.0 405.8h0M2362.2 320.6h0M2362.4 367.1h0M2362.6 268.7h0M2362.8 341.4h0M2363.1 466.4h0M2363.3 292.3h0M2363.5 346.2h0M2363.7 469.6h0M2363.9 428.8h0M2364.1 462.7h0"/>
<path stroke="#000" d="M2364.4 216.0h0"/>
<path stroke="#f00" d="M2364.6 278.6h0M2364.8 493.5h0M2365.0 260.5h0M2365.2 238.6h0M2365.4 314.4h0M2365.7 357.8h0M2365.9 360.7h0M2366.1 379.9h0M2366.3 401.9h0M2366.5 340.5h0M2366.7 251.5h0"/>
<path stroke="#000" d="M2367.0 519.4h0"/>
<path stroke="#f00" d="M2367.2 425.6h0M2367.4 507.3h0M2367.6 454.9h0M2367.8 473.8h0M2368.0 453.3h0M2368.3 301.8h0M2368.5 403.6h0M2368.7 337.8h0M2368.9 339.1h0M2369.1 373.1h0M2369.3 311.7h0M2369.6 407.0h0"/>
<path stroke="#000" d="M2369.8 509.8h0"/>
<path stroke="#f00" d="M2370.0 252.8h0M2370.2 426.0h0M2370.4 464.8h0"/>
<path stroke="#000" d="M2370.7 209.6h0"/>
<path stroke="#f00" d="M2370.9 414.3h0M2371.1 248.8h0M2371.3 433.4h0"/>
<path stroke="#000" d="M2371.5 530.1h0"/>
<path stroke="#f00" d="M2371.7 460.6h0M2372.0 388.3h0M2372.2 296.1h0M2372.4 272.5h0M2372.6 262.7h0M2372.8 452.4h0M2373.0 399.3h0M2373.3 331.8h0M2373.5 362.8h0M2373.7 263.9h0M2373.9 342.6h0M2374.1 456.8h0M2374.3 442.0h0M2374.6 350.4h0"/>
<path stroke="#000" d="M2374.8 540.1h0"/>
<path stroke="#f00" d="M2375.0 296.3h0M2375.2 355.0h0M2375.4 363.4h0"/>
<path stroke="#000" d="M2375.6 213.4h0"/>
<path stroke="#f00" d="M2375.9 415.8h0M2376.1 344.3h0M2376.3 382.3h0M2376.5 305.1h0M2376.7 352.1h0M2376.9 270.2h0M2377.2 296.5h0M2377.4 399.5h0M2377.6 496.6h0M2377.8 388.2h0M2378.0 484.9h0"/>
<path stroke="#000" d="M2378.3 227.5h0"/>
<path stroke="#f00" d="M2378.5 412.5h0M2378.7 460.4h0M2378.9 353.6h0"/>
<path stroke="#000" d="M2379.1 512.6h0"/>
<path stroke="#f00" d="M2379.3 430.1h0"/>
<path stroke="#000" d="M2379.6 218.7h0M2379.8 528.4h0"/>
<path stroke="#f00" d="M2380.0 289.0h0M2380.2 462.2h0M2380.4 398.7h0M2380.6 312.5h0M2380.9 340.8h0"/>
<path stroke="#000" d="M2381.1 204.3h0"/>
<path stroke="#f00" d="M2381.3 417.5h0M2381.5 368.6h0M2381.7 348.7h0M2381.9 350.9h0M2382.2 360.0h0M2382.4 379.3h0M2382.6 490.0h0M2382.8 349.7h0M2383.0 403.2h0M2383.2 249.8h0M2383.5 372.1h0M2383.7 347.8h0M2383.9 409.8h0M2384.1 422.9h0M2384.3 397.6h0M2384.5 382.6h0M2384.8 410.3h0M2385.0 346.8h0M2385.2 395.0h0M2385.4 462.0h0M2385.6 248.8h0M2385.9 257.6h0M2386.1 413.7h0M2386.3 442.7h0M2386.5 295.8h0M2386.7 344.6h0M2386.9 295.0h0M2387.2 330.8h0M2387.4 318.2h0M2387.6 421.7h0M2387.8 442.0h0M2388.0 359.3h0M2388.2 442.7h0M2388.5 354.7h0M2388.7 316.8h0M2388.9 505.4h0M2389.1 459.5h0"/>
<path stroke="#000" d="M2389.3 226.0h0"/>
<path stroke="#f00" d="M2389.5 400.2h0M2389.8 344.2h0M2390.0 336.3h0M2390.2 484.6h0M2390.4 246.1h0M2390.6 366.6h0M2390.8 457.4h0M2391.1 439.3h0M2391.3 460.7h0M2391.5 405.9h0M2391.7 282.4h0M2391.9 408.5h0M2392.1 364.1h0M2392.4 341.6h0M2392.6 337.1h0"/>
<path stroke="#000" d="M2392.8 578.2h0"/>
<path stroke="#f00" d="M2393.0 465.8h0M2393.2 279.7h0M2393.5 326.7h0M2393.7 395.8h0M2393.9 411.2h0M2394.1 472.2h0M2394.3 390.8h0M2394.5 427.9h0M2394.8 357.8h0M2395.0 477.5h0M2395.2 327.3h0M2395.4 385.0h0M2395.6 323.7h0M2395.8 394.4h0M2396.1 255.3h0M2396.3 465.9h0M2396.5 320.5h0"/>
<path stroke="#000" d="M2396.7 228.4h0"/>
<path stroke="#f00" d="M2396.9 352.9h0M2397.1 370.6h0M2397.4 297.6h0M2397.6 238.3h0M2397.8 411.1h0M2398.0 364.7h0M2398.2 421.2h0M2398.4 321.2h0M2398.7 375.3h0M2398.9 262.1h0M2399.1 475.2h0M2399.3 393.9h0M2399.5 352.7h0"/>
<path stroke="#000" d="M2399.7 522.3h0"/>
<path stroke="#f00" d="M2400.0 345.8h0M2400.2 343.0h0M2400.4 385.9h0M2400.6 304.3h0M2400.8 354.0h0M2401.1 448.3h0M2401.3 302.4h0M2401.5 291.3h0"/>
<path stroke="#000" d="M2401.7 570.5h0"/>
<path stroke="#f00" d="M2401.9 436.9h0M2402.1 265.8h0M2402.4 306.6h0M2402.6 442.6h0M2402.8 327.1h0M2403.0 291.2h0M2403.2 382.8h0M2403.4 373.2h0M2403.7 292.4h0M2403.9 362.6h0M2404.1 363.2h0M2404.3 322.1h0M2404.5 465.3h0M2404.7 358.2h0M2405.0 310.8h0M2405.2 482.7h0M2405.4 275.2h0M2405.6 270.8h0M2405.8 340.4h0M2406.0 410.2h0M2406.3 341.8h0M2406.5 336.8h0M2406.7 458.2h0M2406.9 395.2h0M2407.1 317.6h0M2407.3 381.9h0M2407.6 342.6h0M2407.8 406.8h0M2408.0 337.2h0M2408.2 353.0h0M2408.4 394.2h0M2408.6 317.6h0M2408.9 420.5h0M2409.1 244.6h0M2409.3 386.6h0"/>
<path stroke="#000" d="M2409.5 524.1h0M2409.7 184.7h0"/>
<path stroke="#f00" d="M2410.0 313.1h0M2410.2 232.4h0M2410.4 253.9h0M2410.6 412.4h0M2410.8 491.5h0M2411.0 408.1h0M2411.3 449.7h0M2411.5 287.9h0M2411.7 365.9h0M2411.9 271.9h0M2412.1 361.9h0M2412.3 348.5h0M2412.6 323.5h0M2412.8 296.5h0M2413.0 264.3h0M2413.2 285.4h0M2413.4 368.9h0M2413.6 327.2h0M2413.9 385.1h0M2414.1 332.2h0M2414.3 277.9h0M2414.5 402.1h0M2414.7 338.6h0M2414.9 368.0h0M2415.2 418.4h0M2415.4 310.7h0M2415.6 358.4h0M2415.8 406.8h0M2416.0 364.2h0M2416.2 374.4h0M2416.5 391.2h0M2416.7 337.5h0M2416.9 316.1h0M2417.1 308.8h0M2417.3 380.5h0M2417.6 337.9h0M2417.8 278.6h0M2418.0 355.9h0M2418.2 373.6h0M2418.4 279.0h0M2418.6 391.7h0M2418.9 397.5h0M2419.1 295.1h0M2419.3 381.5h0M2419.5 374.5h0M2419.7 448.1h0M2419.9 399.0h0"/>
<path stroke="#000" d="M2420.2 540.2h0"/>
<path stroke="#f00" d="M2420.4 274.8h0M2420.6 338.1h0M2420.8 447.0h0M2421.0 506.3h0M2421.2 437.1h0M2421.5 319.9h0M2421.7 352.3h0M2421.9 336.2h0M2422.1 354.0h0M2422.3 357.7h0M2422.5 407.0h0M2422.8 334.3h0M2423.0 347.6h0M2423.2 463.1h0M2423.4 435.8h0M2423.6 309.7h0M2423.8 502.6h0M2424.1 479.2h0M2424.3 398.0h0M2424.5 293.2h0M2424.7 371.8h0M2424.9 313.0h0M2425.2 455.2h0M2425.4 328.6h0M2425.6 455.8h0M2425.8 317.3h0M2426.0 334.5h0M2426.2 476.6h0M2426.5 370.3h0M2426.7 389.4h0M2426.9 397.1h0"/>
<path stroke="#000" d="M2426.9 612.6h0"/>
<path stroke="#f00" d="M2427.1 459.5h0M2427.3 372.7h0M2427.5 303.0h0M2427.8 367.1h0M2428.0 259.3h0"/>
<path stroke="#000" d="M2428.2 212.8h0"/>
<path stroke="#f00" d="M2428.4 335.4h0M2428.6 397.2h0M2428.8 314.8h0M2429.1 493.6h0M2429.3 323.5h0M2429.5 397.0h0M2429.7 295.8h0"/>
<path stroke="#000" d="M2429.9 515.2h0"/>
<path stroke="#f00" d="M2430.1 455.0h0M2430.4 413.6h0M2430.6 296.8h0M2430.8 356.7h0M2431.0 265.3h0M2431.2 376.1h0M2431.4 374.3h0M2431.7 252.7h0"/>
<path stroke="#000" d="M2431.9 509.8h0"/>
<path stroke="#f00" d="M2432.1 281.6h0M2432.3 346.7h0M2432.5 346.8h0M2432.8 361.6h0M2433.0 373.3h0M2433.2 418.6h0M2433.4 433.7h0M2433.6 377.1h0M2433.8 333.7h0M2434.1 366.0h0M2434.3 266.4h0M2434.5 281.2h0M2434.7 390.2h0M2434.9 302.3h0M2435.1 455.4h0M2435.4 293.5h0M2435.6 445.7h0M2435.8 491.7h0M2436.0 473.7h0M2436.2 280.2h0M2436.4 469.9h0M2436.7 508.5h0M2436.9 362.3h0M2437.1 433.1h0M2437.3 325.0h0M2437.5 417.9h0M2437.7 325.7h0M2438.0 236.8h0M2438.2 348.6h0M2438.4 283.9h0M2438.6 383.0h0M2438.8 349.1h0M2439.0 273.4h0M2439.3 333.5h0M2439.5 479.6h0M2439.7 259.0h0M2439.9 399.4h0M2440.1 416.4h0M2440.4 353.5h0M2440.6 294.0h0M2440.8 370.6h0M2441.0 269.9h0M2441.2 475.1h0M2441.4 411.0h0M2441.7 406.5h0M2441.9 413.8h0M2442.1 477.6h0M2442.3 287.6h0M2442.5 402.1h0M2442.7 456.7h0M2443.0 425.7h0M2443.2 436.5h0"/>
<path stroke="#000" d="M2443.4 510.8h0"/>
<path stroke="#f00" d="M2443.6 283.4h0M2443.8 403.3h0M2444.0 238.7h0M2444.3 451.5h0M2444.5 503.9h0M2444.7 284.9h0M2444.9 240.0h0M2445.1 320.6h0M2445.3 340.2h0M2445.6 403.6h0M2445.8 389.5h0M2446.0 435.7h0M2446.2 294.5h0M2446.4 365.1h0M2446.6 383.3h0M2446.9 287.5h0M2447.1 383.5h0M2447.3 338.9h0M2447.5 502.8h0M2447.7 482.6h0M2448.0 376.1h0M2448.2 344.2h0M2448.4 336.3h0M2448.6 265.7h0M2448.8 305.2h0M2449.0 350.7h0M2449.3 445.7h0M2449.5 399.1h0M2449.7 290.9h0M2449.9 307.3h0M2450.1 239.6h0M2450.3 397.5h0M2450.6 496.6h0M2450.8 424.0h0M2451.0 396.4h0M2451.2 349.9h0M2451.4 495.1h0M2451.6 270.8h0M2451.9 335.0h0M2452.1 466.2h0M2452.3 433.7h0M2452.5 348.3h0M2452.7 412.9h0M2452.9 280.1h0M2453.2 305.0h0M2453.4 388.6h0M2453.6 299.4h0M2453.8 258.1h0M2454.0 424.3h0M2454.2 254.2h0M2454.5 360.7h0M2454.7 303.3h0M2454.9 358.3h0M2455.1 348.9h0M2455.3 325.3h0M2455.6 363.1h0M2455.8 424.6h0M2456.0 373.0h0M2456.2 436.1h0M2456.4 345.7h0M2456.6 373.8h0M2456.9 316.1h0M2457.1 456.5h0M2457.3 413.6h0M2457.5 316.3h0M2457.7 301.0h0M2457.9 373.1h0M2458.2 366.5h0M2458.4 381.9h0M2458.6 332.6h0M2458.8 344.7h0M2459.0 435.7h0M2459.2 378.4h0M2459.5 477.7h0M2459.7 298.7h0M2459.9 429.6h0M2460.1 372.3h0M2460.3 354.1h0M2460.5 278.2h0M2460.8 281.3h0M2461.0 257.1h0M2461.2 395.5h0M2461.4 323.2h0M2461.6 365.4h0"/>
<path stroke="#000" d="M2461.8 564.7h0"/>
<path stroke="#f00" d="M2462.1 410.1h0M2462.3 405.0h0M2462.5 233.0h0M2462.7 461.6h0M2462.9 312.2h0M2463.2 409.0h0M2463.4 334.5h0M2463.6 319.4h0M2463.8 305.2h0M2464.0 401.0h0M2464.2 328.0h0"/>
<path stroke="#000" d="M2464.5 213.9h0"/>
<path stroke="#f00" d="M2464.7 313.7h0M2464.9 431.1h0M2465.1 462.8h0M2465.3 252.1h0M2465.5 468.2h0M2465.8 278.0h0M2466.0 363.0h0M2466.2 288.8h0M2466.4 287.9h0M2466.6 496.6h0M2466.8 324.5h0M2467.1 289.6h0M2467.3 297.3h0M2467.5 380.3h0"/>
<path stroke="#000" d="M2467.6 643.8h0M2467.6 106.1h0"/>
<path stroke="#f00" d="M2467.7 444.2h0M2467.9 486.2h0M2468.1 417.2h0M2468.4 388.2h0M2468.6 338.2h0M2468.8 368.2h0M2469.0 385.5h0M2469.2 386.5h0M2469.4 357.0h0M2469.7 354.3h0M2469.9 351.8h0M2470.1 442.4h0M2470.3 281.2h0M2470.5 461.7h0"/>
<path stroke="#000" d="M2470.7 213.9h0"/>
<path stroke="#f00" d="M2471.0 363.6h0"/>
<path stroke="#000" d="M2471.2 541.0h0"/>
<path stroke="#f00" d="M2471.4 324.3h0M2471.6 364.7h0M2471.8 282.5h0M2472.1 329.9h0M2472.3 480.5h0M2472.5 363.9h0M2472.7 320.3h0M2472.9 308.6h0M2473.1 390.5h0M2473.4 317.6h0M2473.6 270.5h0M2473.8 396.4h0M2474.0 307.3h0M2474.2 415.8h0M2474.4 302.2h0M2474.7 412.7h0M2474.9 346.5h0M2475.1 273.8h0M2475.3 357.4h0M2475.5 286.1h0M2475.7 465.5h0M2476.0 298.0h0M2476.2 279.7h0"/>
<path stroke="#000" d="M2476.4 569.8h0"/>
<path stroke="#f00" d="M2476.6 300.8h0M2476.8 499.6h0M2477.0 302.8h0M2477.3 393.9h0M2477.5 335.9h0M2477.7 439.8h0M2477.9 328.6h0M2478.1 309.2h0M2478.3 319.0h0"/>
<path stroke="#000" d="M2478.6 534.5h0"/>
<path stroke="#f00" d="M2478.8 300.4h0M2479.0 267.7h0M2479.2 490.3h0"/>
<path stroke="#000" d="M2479.4 181.9h0"/>
<path stroke="#f00" d="M2479.7 356.3h0M2479.9 359.9h0M2480.1 313.3h0M2480.3 482.8h0M2480.5 352.0h0M2480.7 347.4h0M2481.0 261.5h0M2481.2 358.3h0M2481.4 485.0h0M2481.6 295.8h0M2481.8 431.2h0M2482.0 464.5h0M2482.3 373.0h0M2482.5 352.7h0M2482.7 402.6h0M2482.9 386.4h0M2483.1 496.0h0M2483.3 391.1h0M2483.6 394.1h0M2483.8 393.5h0M2484.0 475.6h0M2484.2 504.5h0M2484.4 255.8h0M2484.6 424.5h0M2484.9 301.1h0M2485.1 357.9h0M2485.3 385.1h0"/>
<path stroke="#000" d="M2485.5 536.6h0"/>
<path stroke="#f00" d="M2485.7 358.9h0M2485.9 335.7h0M2486.2 395.4h0M2486.4 379.1h0M2486.6 483.1h0M2486.8 506.8h0M2487.0 315.8h0M2487.3 477.7h0M2487.5 290.0h0M2487.7 468.8h0M2487.9 460.9h0M2488.1 343.6h0M2488.3 235.7h0M2488.6 335.0h0"/>
<path stroke="#000" d="M2488.8 514.9h0"/>
<path stroke="#f00" d="M2489.0 412.8h0M2489.2 408.7h0M2489.4 449.8h0M2489.6 503.1h0M2489.9 429.3h0M2490.1 324.8h0M2490.3 432.3h0M2490.5 341.0h0M2490.7 361.1h0M2490.9 351.5h0M2491.2 285.2h0M2491.4 282.1h0M2491.6 327.3h0"/>
<path stroke="#000" d="M2491.6 584.1h0"/>
<path stroke="#f00" d="M2491.8 335.1h0M2492.0 298.3h0M2492.2 316.0h0M2492.5 378.0h0M2492.7 417.3h0M2492.9 267.0h0M2493.1 471.1h0M2493.3 304.0h0M2493.5 353.6h0M2493.8 286.7h0M2494.0 363.2h0M2494.2 369.5h0M2494.4 459.9h0M2494.6 379.9h0M2494.9 403.3h0M2495.1 461.9h0M2495.3 368.4h0M2495.5 460.6h0M2495.7 467.6h0M2495.9 359.1h0M2496.2 372.5h0M2496.4 424.9h0M2496.6 368.8h0M2496.8 369.1h0M2497.0 258.7h0M2497.2 460.6h0M2497.5 312.7h0M2497.7 318.6h0"/>
<path stroke="#000" d="M2497.9 514.3h0"/>
<path stroke="#f00" d="M2498.1 502.4h0M2498.3 270.9h0M2498.5 356.0h0M2498.8 325.8h0M2499.0 405.2h0"/>
<path stroke="#000" d="M2499.2 220.7h0M2499.4 223.8h0"/>
<path stroke="#f00" d="M2499.6 479.8h0M2499.8 480.0h0M2500.1 414.8h0M2500.3 238.1h0M2500.5 232.8h0"/>
<path stroke="#000" d="M2500.7 194.5h0"/>
<path stroke="#f00" d="M2500.9 292.9h0M2501.1 354.9h0M2501.4 378.1h0M2501.6 298.4h0M2501.8 245.2h0M2502.0 360.7h0M2502.2 357.1h0M2502.5 288.9h0M2502.7 362.2h0M2502.9 302.0h0M2503.1 325.8h0M2503.3 330.7h0M2503.5 304.9h0M2503.8 275.0h0M2504.0 477.6h0M2504.2 426.8h0M2504.4 243.7h0"/>
<path stroke="#000" d="M2504.6 186.3h0"/>
<path stroke="#f00" d="M2504.8 447.1h0M2505.1 300.1h0"/>
<path stroke="#000" d="M2505.2 127.4h0"/>
<path stroke="#f00" d="M2505.3 422.5h0M2505.5 473.0h0M2505.7 376.4h0M2505.9 301.7h0M2506.1 346.3h0M2506.4 235.4h0M2506.6 449.8h0M2506.8 305.0h0M2507.0 308.9h0M2507.2 445.7h0"/>
<path stroke="#000" d="M2507.4 514.1h0"/>
<path stroke="#f00" d="M2507.7 395.7h0M2507.9 373.7h0M2508.1 345.5h0M2508.3 373.3h0M2508.5 458.8h0M2508.7 351.4h0M2509.0 357.5h0M2509.2 420.5h0M2509.4 318.8h0M2509.6 371.5h0M2509.8 260.1h0M2510.1 438.2h0M2510.3 328.5h0M2510.5 384.5h0M2510.7 329.1h0M2510.9 467.1h0M2511.1 311.9h0M2511.4 332.8h0M2511.6 344.2h0M2511.8 358.4h0"/>
<path stroke="#000" d="M2512.0 541.0h0"/>
<path stroke="#f00" d="M2512.2 347.3h0M2512.4 367.8h0M2512.7 390.0h0"/>
<path stroke="#000" d="M2512.9 543.7h0"/>
<path stroke="#f00" d="M2513.1 425.5h0M2513.3 350.7h0M2513.5 347.7h0M2513.7 361.7h0M2514.0 348.0h0M2514.2 416.8h0M2514.4 458.3h0M2514.6 417.5h0M2514.8 315.3h0M2515.0 393.8h0M2515.3 391.2h0M2515.5 415.1h0M2515.7 297.4h0M2515.9 395.5h0M2516.1 333.1h0M2516.3 300.8h0"/>
<path stroke="#000" d="M2516.6 217.9h0"/>
<path stroke="#f00" d="M2516.8 392.3h0M2517.0 234.6h0M2517.2 372.5h0M2517.4 270.0h0M2517.7 413.5h0M2517.9 319.6h0M2518.1 240.0h0M2518.3 351.2h0M2518.5 339.4h0M2518.7 272.8h0M2519.0 488.5h0M2519.2 347.0h0M2519.4 369.7h0M2519.6 397.5h0M2519.8 463.6h0M2520.0 403.6h0M2520.3 278.1h0M2520.5 329.7h0M2520.7 323.8h0M2520.9 381.3h0M2521.1 451.0h0M2521.3 423.2h0M2521.6 368.2h0M2521.8 321.9h0M2522.0 337.6h0M2522.2 272.7h0M2522.4 398.2h0"/>
<path stroke="#000" d="M2522.6 519.6h0"/>
<path stroke="#f00" d="M2522.9 362.4h0"/>
<path stroke="#000" d="M2523.1 221.3h0"/>
<path stroke="#f00" d="M2523.3 322.3h0M2523.5 290.9h0M2523.7 374.9h0M2523.9 391.0h0M2524.2 416.7h0M2524.4 380.1h0M2524.6 285.8h0M2524.8 336.7h0M2525.0 286.7h0M2525.3 309.8h0M2525.5 418.8h0M2525.7 457.3h0M2525.9 470.2h0M2526.1 255.4h0M2526.3 360.1h0M2526.6 263.0h0M2526.8 408.4h0M2527.0 289.7h0M2527.2 297.4h0M2527.4 272.1h0M2527.6 435.1h0M2527.9 356.9h0M2528.1 337.1h0M2528.3 415.0h0M2528.5 296.1h0M2528.7 295.2h0M2528.9 284.2h0M2529.2 297.8h0M2529.4 390.9h0M2529.6 352.9h0"/>
<path stroke="#000" d="M2529.8 206.2h0"/>
<path stroke="#f00" d="M2530.0 423.6h0M2530.2 344.3h0M2530.5 457.3h0M2530.7 262.4h0M2530.9 458.0h0M2531.1 415.6h0M2531.3 237.5h0M2531.5 320.3h0M2531.8 300.1h0M2532.0 263.7h0M2532.2 325.2h0M2532.4 319.5h0M2532.6 419.4h0M2532.9 371.3h0M2533.1 464.3h0M2533.3 453.0h0M2533.5 414.0h0M2533.7 332.1h0M2533.9 330.3h0M2534.2 401.5h0M2534.4 435.9h0M2534.6 328.0h0M2534.8 296.1h0M2535.0 349.6h0M2535.2 349.1h0M2535.5 485.7h0M2535.7 407.2h0M2535.9 286.8h0M2536.1 492.0h0M2536.3 381.3h0M2536.5 448.1h0M2536.8 401.8h0M2537.0 297.2h0"/>
<path stroke="#000" d="M2537.2 227.1h0"/>
<path stroke="#f00" d="M2537.4 415.4h0M2537.6 402.8h0"/>
<path stroke="#000" d="M2537.8 227.4h0"/>
<path stroke="#f00" d="M2538.1 302.5h0M2538.3 301.0h0M2538.5 390.1h0M2538.7 361.7h0M2538.9 318.9h0M2539.1 420.2h0M2539.4 264.7h0M2539.6 470.2h0M2539.8 366.6h0M2540.0 425.0h0M2540.2 330.7h0M2540.4 392.2h0M2540.7 476.7h0M2540.9 331.8h0M2541.1 463.0h0"/>
<path stroke="#000" d="M2541.3 190.5h0"/>
<path stroke="#f00" d="M2541.5 342.8h0M2541.8 452.8h0M2542.0 351.8h0M2542.2 312.2h0M2542.4 318.4h0M2542.6 469.5h0M2542.8 445.1h0M2543.1 353.1h0M2543.3 345.8h0M2543.5 370.1h0M2543.7 241.0h0M2543.9 415.4h0M2544.1 440.8h0M2544.4 273.9h0M2544.6 328.9h0M2544.8 425.7h0M2545.0 396.9h0M2545.2 412.2h0M2545.4 505.2h0M2545.7 448.5h0M2545.9 371.4h0M2546.1 326.1h0M2546.3 380.3h0M2546.5 353.6h0M2546.7 469.8h0M2547.0 391.2h0M2547.2 404.2h0M2547.4 305.5h0M2547.6 369.7h0M2547.8 323.0h0M2548.0 243.1h0M2548.3 276.3h0M2548.5 439.2h0M2548.7 375.6h0M2548.9 430.0h0M2549.1 430.6h0M2549.4 326.2h0M2549.6 306.5h0M2549.8 380.7h0"/>
<path stroke="#000" d="M2550.0 208.1h0"/>
<path stroke="#f00" d="M2550.2 456.9h0M2550.4 292.9h0M2550.7 485.8h0M2550.9 310.7h0M2551.1 416.6h0M2551.3 418.1h0M2551.5 240.5h0M2551.7 401.8h0M2552.0 445.8h0M2552.2 407.4h0M2552.4 357.6h0M2552.6 235.6h0M2552.8 485.5h0M2553.0 424.3h0M2553.3 310.2h0M2553.5 405.1h0M2553.7 462.2h0M2553.9 339.0h0M2554.1 415.6h0M2554.3 323.1h0M2554.6 401.1h0M2554.8 465.2h0M2555.0 284.6h0M2555.2 266.6h0M2555.4 392.4h0M2555.6 340.1h0M2555.9 366.3h0M2556.1 355.5h0M2556.3 439.1h0M2556.5 305.4h0M2556.7 431.0h0M2557.0 361.8h0M2557.2 347.0h0M2557.4 277.6h0"/>
<path stroke="#000" d="M2557.6 534.3h0"/>
<path stroke="#f00" d="M2557.8 398.0h0M2558.0 376.9h0M2558.3 400.1h0M2558.5 379.6h0M2558.7 239.9h0M2558.9 383.1h0M2559.1 377.0h0M2559.3 234.9h0M2559.6 416.9h0M2559.8 250.0h0M2560.0 344.4h0M2560.2 320.1h0M2560.4 414.4h0M2560.6 259.9h0M2560.9 236.8h0M2561.1 328.6h0M2561.3 283.0h0M2561.5 365.3h0M2561.7 338.5h0M2561.9 388.7h0M2562.2 416.7h0M2562.4 452.0h0M2562.6 287.7h0M2562.8 481.6h0M2563.0 362.2h0M2563.2 345.5h0M2563.5 393.0h0M2563.7 390.6h0M2563.9 346.0h0M2564.1 250.0h0M2564.3 392.2h0M2564.6 455.2h0M2564.8 340.7h0M2565.0 413.8h0M2565.2 431.3h0M2565.4 330.2h0M2565.6 397.1h0M2565.9 269.5h0M2566.1 372.4h0M2566.3 317.2h0M2566.5 449.3h0M2566.7 366.7h0M2566.9 406.3h0M2567.2 347.8h0M2567.4 311.8h0M2567.6 248.2h0M2567.8 446.8h0M2568.0 334.5h0"/>
<path stroke="#000" d="M2568.2 222.3h0"/>
<path stroke="#f00" d="M2568.5 381.4h0M2568.7 484.8h0"/>
<path stroke="#000" d="M2568.8 142.6h0"/>
<path stroke="#f00" d="M2568.9 308.0h0M2569.1 419.4h0"/>
<path stroke="#000" d="M2569.3 230.0h0"/>
<path stroke="#f00" d="M2569.5 479.6h0M2569.8 325.5h0M2570.0 369.9h0M2570.2 314.9h0M2570.4 382.5h0M2570.6 310.3h0M2570.8 352.9h0M2571.1 462.4h0M2571.3 339.2h0M2571.5 408.6h0M2571.7 441.1h0M2571.9 280.3h0M2572.2 469.7h0M2572.4 425.7h0M2572.6 376.8h0M2572.8 367.0h0M2573.0 312.2h0M2573.2 236.3h0M2573.5 406.6h0M2573.7 391.3h0M2573.9 413.4h0M2574.1 398.0h0M2574.3 369.9h0M2574.5 270.5h0M2574.8 332.9h0M2575.0 364.1h0M2575.2 322.1h0M2575.4 384.8h0M2575.6 258.1h0M2575.8 303.3h0M2576.1 413.6h0M2576.3 418.4h0M2576.5 380.9h0M2576.7 495.6h0M2576.9 297.8h0M2577.1 434.7h0M2577.4 410.2h0M2577.6 285.6h0M2577.8 359.5h0M2578.0 298.8h0"/>
<path stroke="#000" d="M2578.2 112.3h0"/>
<path stroke="#f00" d="M2578.2 497.2h0M2578.4 406.8h0M2578.7 386.8h0M2578.9 415.9h0M2579.1 501.2h0M2579.3 278.2h0M2579.5 444.7h0"/>
<path stroke="#000" d="M2579.8 563.2h0"/>
<path stroke="#f00" d="M2580.0 411.9h0M2580.2 403.4h0M2580.4 440.1h0M2580.6 402.2h0M2580.8 326.4h0M2581.1 409.9h0M2581.3 266.6h0M2581.5 433.5h0M2581.7 417.9h0M2581.9 296.9h0M2582.1 427.5h0M2582.4 378.5h0M2582.6 279.0h0M2582.8 331.4h0M2583.0 372.6h0M2583.2 287.0h0M2583.4 333.9h0M2583.7 455.5h0M2583.9 438.7h0M2584.1 303.6h0M2584.3 431.1h0M2584.5 442.6h0M2584.7 442.1h0M2585.0 267.9h0"/>
<path stroke="#000" d="M2585.2 203.8h0"/>
<path stroke="#f00" d="M2585.4 262.0h0M2585.6 434.2h0M2585.8 328.5h0M2586.0 320.2h0M2586.3 288.2h0M2586.5 312.5h0M2586.7 297.5h0M2586.9 314.2h0"/>
<path stroke="#000" d="M2587.1 204.0h0"/>
<path stroke="#f00" d="M2587.4 259.9h0M2587.6 330.5h0M2587.8 407.0h0M2588.0 331.0h0M2588.2 427.5h0M2588.4 403.3h0M2588.7 248.2h0M2588.9 268.8h0M2589.1 378.7h0M2589.3 400.5h0M2589.5 380.9h0M2589.7 345.4h0M2590.0 361.1h0M2590.2 354.0h0M2590.4 387.0h0"/>
<path stroke="#000" d="M2590.6 510.9h0"/>
<path stroke="#f00" d="M2590.8 436.0h0M2591.0 476.7h0M2591.3 245.1h0M2591.5 369.9h0M2591.7 423.7h0M2591.9 352.5h0M2592.1 385.0h0M2592.3 466.1h0"/>
<path stroke="#000" d="M2592.6 530.5h0"/>
<path stroke="#f00" d="M2592.8 297.8h0M2593.0 320.1h0M2593.2 471.8h0M2593.4 318.5h0M2593.6 314.4h0M2593.9 380.0h0M2594.1 359.3h0M2594.3 276.0h0M2594.5 307.1h0M2594.7 372.2h0M2595.0 302.2h0M2595.2 338.8h0"/>
<path stroke="#000" d="M2595.4 220.1h0"/>
<path stroke="#f00" d="M2595.6 347.3h0M2595.8 355.4h0M2596.0 458.8h0M2596.3 276.3h0M2596.5 331.5h0M2596.7 424.9h0M2596.9 339.6h0M2597.1 349.3h0M2597.3 277.5h0"/>
<path stroke="#000" d="M2597.6 529.1h0"/>
<path stroke="#f00" d="M2597.8 347.1h0M2598.0 327.1h0M2598.2 340.2h0M2598.4 361.2h0M2598.6 371.2h0M2598.9 339.9h0M2599.1 479.7h0"/>
<path stroke="#000" d="M2599.3 201.2h0"/>
<path stroke="#f00" d="M2599.5 319.3h0M2599.7 342.2h0M2599.9 412.5h0M2600.2 407.4h0M2600.4 496.4h0M2600.6 390.9h0M2600.8 442.4h0M2601.0 474.8h0M2601.2 355.6h0"/>
<path stroke="#000" d="M2601.5 214.0h0"/>
<path stroke="#f00" d="M2601.7 346.0h0M2601.9 382.8h0M2602.1 293.6h0M2602.3 248.1h0M2602.5 465.5h0M2602.8 387.1h0M2603.0 280.4h0M2603.2 394.8h0M2603.4 398.9h0M2603.6 407.6h0M2603.9 322.5h0M2604.1 344.9h0M2604.3 459.8h0M2604.5 240.2h0M2604.7 329.4h0M2604.9 327.1h0M2605.2 454.5h0M2605.4 402.2h0M2605.6 339.3h0M2605.8 472.1h0M2606.0 381.0h0"/>
<path stroke="#000" d="M2606.2 184.9h0"/>
<path stroke="#f00" d="M2606.5 355.6h0M2606.7 341.7h0M2606.9 403.6h0M2607.1 320.4h0M2607.3 375.8h0M2607.5 378.1h0M2607.8 412.6h0M2608.0 394.0h0M2608.2 388.3h0M2608.4 447.9h0M2608.6 381.1h0M2608.8 331.4h0M2609.1 442.6h0M2609.3 482.3h0M2609.5 308.4h0M2609.7 380.0h0M2609.9 403.5h0M2610.1 397.1h0M2610.4 369.7h0M2610.6 383.2h0M2610.8 393.5h0M2611.0 319.3h0M2611.2 456.2h0M2611.5 378.7h0M2611.7 352.2h0M2611.9 480.9h0M2612.1 373.3h0M2612.3 272.8h0"/>
<path stroke="#000" d="M2612.5 522.3h0"/>
<path stroke="#f00" d="M2612.8 314.0h0M2613.0 377.5h0M2613.2 500.7h0M2613.4 367.5h0M2613.6 261.0h0M2613.8 361.2h0M2614.1 310.0h0M2614.3 448.1h0M2614.5 420.3h0M2614.7 292.2h0M2614.9 335.1h0M2615.1 333.9h0M2615.4 242.6h0M2615.6 386.6h0M2615.8 321.7h0M2616.0 273.0h0M2616.2 284.0h0M2616.4 506.2h0"/>
<path stroke="#000" d="M2616.7 227.8h0"/>
<path stroke="#f00" d="M2616.9 359.8h0M2617.1 404.2h0M2617.3 288.5h0M2617.5 367.3h0M2617.7 422.6h0M2618.0 274.7h0M2618.2 364.9h0M2618.4 401.3h0M2618.6 376.8h0M2618.8 364.5h0M2619.1 241.0h0M2619.3 410.1h0M2619.5 359.8h0M2619.7 299.1h0M2619.9 355.6h0M2620.1 384.5h0M2620.4 268.7h0M2620.6 382.7h0M2620.8 432.9h0"/>
<path stroke="#000" d="M2621.0 223.9h0"/>
<path stroke="#f00" d="M2621.2 397.6h0M2621.4 365.4h0M2621.7 398.7h0M2621.9 453.9h0M2622.1 370.5h0M2622.3 288.5h0M2622.5 360.6h0M2622.7 327.5h0M2623.0 361.3h0M2623.2 359.2h0M2623.4 374.4h0M2623.6 370.3h0M2623.8 311.2h0M2624.0 419.5h0M2624.3 376.1h0M2624.5 377.1h0M2624.7 307.4h0"/>
<path stroke="#000" d="M2624.9 188.5h0"/>
<path stroke="#f00" d="M2625.1 397.4h0M2625.3 432.2h0M2625.6 319.0h0M2625.8 359.1h0M2626.0 352.0h0M2626.2 278.5h0M2626.4 383.2h0M2626.7 330.4h0M2626.9 450.1h0M2627.1 317.5h0M2627.3 311.9h0M2627.5 399.7h0M2627.7 404.4h0M2628.0 437.4h0M2628.2 324.8h0M2628.4 430.1h0M2628.6 395.3h0M2628.8 432.5h0"/>
<path stroke="#000" d="M2629.0 231.9h0"/>
<path stroke="#f00" d="M2629.3 318.8h0M2629.5 291.0h0M2629.7 435.2h0M2629.9 239.2h0M2630.1 426.9h0M2630.3 398.0h0M2630.6 374.2h0M2630.8 422.5h0M2631.0 337.6h0M2631.2 422.3h0M2631.4 353.3h0M2631.6 315.3h0M2631.9 429.6h0M2632.1 439.7h0M2632.3 307.7h0M2632.5 507.6h0M2632.7 445.0h0M2632.9 452.8h0M2633.2 468.7h0M2633.4 301.2h0M2633.6 346.1h0M2633.8 376.3h0M2634.0 370.8h0M2634.3 294.5h0M2634.5 408.9h0"/>
<path stroke="#000" d="M2634.5 139.9h0"/>
<path stroke="#f00" d="M2634.7 341.8h0M2634.9 370.8h0"/>
<path stroke="#000" d="M2635.1 204.5h0"/>
<path stroke="#f00" d="M2635.3 282.4h0M2635.6 278.0h0M2635.8 334.9h0M2636.0 319.7h0M2636.2 365.0h0M2636.4 405.4h0M2636.6 466.1h0M2636.9 313.4h0M2637.1 418.6h0M2637.3 372.4h0M2637.5 329.5h0M2637.7 374.9h0M2637.9 301.8h0M2638.2 324.5h0M2638.4 382.7h0M2638.6 386.4h0M2638.8 340.5h0M2639.0 475.4h0M2639.2 242.3h0M2639.5 423.7h0M2639.7 358.8h0M2639.9 432.7h0M2640.1 413.9h0M2640.3 336.6h0M2640.5 382.0h0M2640.8 454.9h0M2641.0 465.0h0M2641.2 496.3h0M2641.4 327.2h0M2641.6 366.5h0M2641.9 372.6h0M2642.1 479.9h0M2642.3 329.5h0M2642.5 353.4h0M2642.7 373.7h0M2642.9 437.6h0M2643.2 408.1h0M2643.4 485.8h0M2643.6 328.9h0M2643.8 435.2h0M2644.0 365.8h0M2644.2 389.6h0M2644.5 369.8h0M2644.7 483.9h0M2644.9 346.4h0M2645.1 457.5h0M2645.3 501.1h0M2645.5 299.0h0M2645.8 418.4h0M2646.0 491.7h0M2646.2 375.0h0M2646.4 448.0h0M2646.6 374.9h0M2646.8 329.2h0M2647.1 317.8h0M2647.3 417.9h0M2647.5 240.5h0M2647.7 402.6h0M2647.9 356.2h0M2648.1 375.6h0M2648.4 432.2h0M2648.6 304.4h0M2648.8 371.5h0M2649.0 276.8h0M2649.2 439.8h0M2649.5 401.3h0M2649.7 347.7h0M2649.9 476.3h0M2650.1 448.3h0M2650.3 448.9h0"/>
<path stroke="#000" d="M2650.5 230.7h0"/>
<path stroke="#f00" d="M2650.8 401.0h0M2651.0 327.5h0M2651.2 361.9h0M2651.4 432.8h0M2651.6 262.5h0M2651.8 376.7h0M2652.1 313.3h0M2652.3 339.2h0M2652.5 507.5h0"/>
<path stroke="#000" d="M2652.7 515.5h0"/>
<path stroke="#f00" d="M2652.9 371.1h0"/>
<path stroke="#000" d="M2653.1 194.8h0"/>
<path stroke="#f00" d="M2653.4 429.9h0M2653.6 422.0h0M2653.8 344.2h0M2654.0 371.8h0M2654.2 333.8h0M2654.4 360.3h0M2654.7 414.4h0M2654.9 336.9h0M2655.1 271.1h0"/>
<path stroke="#000" d="M2655.3 228.8h0M2655.5 529.1h0"/>
<path stroke="#f00" d="M2655.7 243.7h0M2656.0 332.5h0M2656.2 388.7h0M2656.4 359.7h0M2656.6 383.9h0M2656.8 358.6h0M2657.1 430.5h0M2657.3 330.2h0M2657.5 391.3h0M2657.7 266.7h0M2657.9 386.4h0M2658.1 262.8h0M2658.4 356.2h0M2658.6 389.1h0M2658.8 341.3h0M2659.0 341.9h0M2659.2 363.4h0M2659.4 379.7h0"/>
<path stroke="#000" d="M2659.7 223.9h0"/>
<path stroke="#f00" d="M2659.9 373.4h0M2660.1 410.6h0M2660.3 331.2h0M2660.5 378.1h0M2660.7 261.1h0M2661.0 360.1h0M2661.2 409.1h0M2661.4 455.3h0M2661.6 261.6h0M2661.8 419.0h0M2662.0 381.4h0M2662.3 385.8h0M2662.5 386.3h0M2662.7 388.4h0M2662.9 316.0h0"/>
<path stroke="#000" d="M2663.1 216.8h0"/>
<path stroke="#f00" d="M2663.3 383.5h0M2663.6 447.4h0M2663.8 265.8h0M2664.0 297.1h0M2664.2 404.2h0"/>
<path stroke="#000" d="M2664.4 536.1h0"/>
<path stroke="#f00" d="M2664.6 311.1h0M2664.9 457.1h0M2665.1 468.0h0M2665.3 432.2h0M2665.5 295.6h0M2665.7 417.2h0M2666.0 391.6h0M2666.2 361.0h0M2666.4 357.9h0M2666.6 268.9h0M2666.8 504.9h0M2667.0 313.3h0M2667.3 325.0h0M2667.5 347.5h0M2667.7 459.1h0M2667.9 409.0h0M2668.1 507.7h0M2668.3 386.3h0M2668.6 315.2h0M2668.8 300.2h0M2669.0 285.9h0M2669.2 330.6h0M2669.4 329.8h0M2669.6 254.0h0M2669.9 404.1h0M2670.1 384.1h0M2670.3 318.9h0M2670.5 319.0h0M2670.7 252.6h0M2670.9 237.9h0M2671.2 305.8h0M2671.4 417.1h0M2671.6 409.9h0M2671.8 475.1h0M2672.0 457.3h0M2672.2 406.0h0M2672.5 257.8h0M2672.7 349.1h0M2672.9 334.3h0M2673.1 388.3h0M2673.3 317.9h0M2673.6 427.7h0M2673.8 400.0h0M2674.0 446.0h0M2674.2 310.8h0M2674.4 458.7h0M2674.6 380.6h0M2674.9 366.1h0M2675.1 400.1h0M2675.3 340.8h0M2675.5 427.4h0M2675.7 482.9h0M2675.9 354.1h0M2676.2 287.5h0M2676.4 324.4h0M2676.6 454.0h0M2676.8 429.4h0M2677.0 397.7h0M2677.2 337.4h0M2677.5 418.0h0M2677.7 268.2h0M2677.9 307.5h0M2678.1 309.2h0M2678.3 435.9h0M2678.5 428.6h0M2678.8 313.3h0M2679.0 433.1h0M2679.2 359.1h0M2679.4 398.0h0M2679.6 341.9h0"/>
<path stroke="#000" d="M2679.8 224.0h0"/>
<path stroke="#f00" d="M2680.1 448.9h0M2680.3 321.7h0M2680.5 352.5h0M2680.7 384.4h0M2680.9 459.5h0M2681.2 385.5h0M2681.4 400.4h0M2681.6 305.4h0M2681.8 502.7h0M2682.0 323.4h0M2682.2 363.1h0M2682.5 364.5h0M2682.7 397.2h0M2682.9 333.4h0M2683.1 352.9h0M2683.3 324.0h0M2683.5 424.9h0M2683.8 472.3h0M2684.0 414.8h0M2684.2 327.5h0M2684.4 447.1h0M2684.6 241.1h0M2684.8 315.5h0M2685.1 265.6h0M2685.3 346.7h0M2685.5 286.8h0M2685.7 433.1h0M2685.9 301.3h0M2686.1 283.3h0M2686.4 325.1h0M2686.6 327.8h0M2686.8 296.7h0M2687.0 291.4h0M2687.2 294.5h0M2687.4 439.2h0M2687.7 323.8h0M2687.9 420.9h0M2688.1 258.4h0M2688.3 347.3h0M2688.5 341.0h0M2688.8 260.9h0M2689.0 352.0h0M2689.2 484.3h0M2689.4 470.3h0"/>
<path stroke="#000" d="M2689.6 516.2h0"/>
<path stroke="#f00" d="M2689.8 285.4h0"/>
<path stroke="#000" d="M2690.1 215.8h0"/>
<path stroke="#f00" d="M2690.3 341.2h0M2690.5 285.8h0M2690.7 368.2h0M2690.9 365.6h0M2691.1 297.9h0M2691.4 315.8h0M2691.6 340.7h0M2691.8 363.1h0M2692.0 374.7h0M2692.2 473.2h0M2692.4 495.0h0M2692.7 302.4h0M2692.9 388.4h0M2693.1 414.6h0M2693.3 393.3h0"/>
<path stroke="#000" d="M2693.5 183.9h0M2693.7 224.1h0"/>
<path stroke="#f00" d="M2694.0 444.5h0M2694.2 308.0h0M2694.4 345.3h0M2694.6 267.3h0M2694.8 483.7h0M2695.0 427.1h0M2695.3 366.9h0M2695.5 284.4h0M2695.7 442.4h0M2695.9 249.7h0M2696.1 337.7h0M2696.4 479.9h0M2696.6 373.4h0M2696.8 332.2h0M2697.0 275.7h0M2697.2 273.1h0M2697.4 279.7h0M2697.7 281.0h0M2697.9 345.5h0M2698.1 493.5h0M2698.3 363.1h0M2698.5 451.2h0M2698.7 277.4h0M2699.0 396.2h0M2699.2 438.5h0M2699.4 457.0h0M2699.6 428.8h0M2699.8 288.4h0M2700.0 266.5h0M2700.3 491.9h0M2700.5 310.8h0M2700.7 287.8h0M2700.9 406.7h0M2701.1 410.2h0M2701.3 479.1h0M2701.6 333.4h0M2701.8 357.0h0M2702.0 368.9h0M2702.2 458.5h0M2702.4 464.9h0M2702.6 346.0h0M2702.9 342.9h0"/>
<path stroke="#000" d="M2703.1 538.5h0"/>
<path stroke="#f00" d="M2703.3 347.6h0M2703.5 425.2h0M2703.7 377.1h0M2704.0 458.0h0M2704.2 378.5h0M2704.4 378.2h0M2704.6 383.4h0"/>
<path stroke="#000" d="M2704.8 520.2h0"/>
<path stroke="#f00" d="M2705.0 395.7h0M2705.3 373.4h0M2705.5 447.1h0"/>
<path stroke="#000" d="M2705.7 509.6h0"/>
<path stroke="#f00" d="M2705.9 349.3h0M2706.1 406.9h0M2706.3 441.6h0M2706.6 426.2h0M2706.8 291.6h0M2707.0 338.5h0M2707.2 388.8h0M2707.4 439.8h0M2707.6 402.8h0M2707.9 415.2h0"/>
<path stroke="#000" d="M2708.1 220.8h0"/>
<path stroke="#f00" d="M2708.3 427.6h0M2708.5 309.6h0M2708.7 384.0h0M2708.9 371.2h0M2709.2 391.7h0M2709.4 400.3h0"/>
<path stroke="#000" d="M2709.6 205.9h0"/>
<path stroke="#f00" d="M2709.8 282.8h0M2710.0 281.1h0M2710.2 367.7h0M2710.5 339.0h0M2710.7 449.1h0M2710.9 429.9h0M2711.1 293.8h0M2711.3 358.3h0M2711.6 393.6h0M2711.8 489.4h0M2712.0 352.3h0M2712.2 303.6h0M2712.4 373.3h0M2712.6 323.3h0M2712.9 349.6h0M2713.1 462.8h0M2713.3 355.9h0M2713.5 372.6h0M2713.7 445.9h0M2713.9 396.5h0M2714.2 385.2h0M2714.4 410.8h0M2714.6 313.5h0M2714.8 282.1h0M2715.0 362.1h0M2715.2 409.9h0M2715.5 489.2h0M2715.7 265.2h0M2715.9 508.5h0M2716.1 463.6h0M2716.3 408.6h0M2716.5 260.0h0M2716.8 315.6h0M2717.0 315.8h0M2717.2 346.8h0M2717.4 402.1h0M2717.6 387.5h0M2717.8 328.0h0M2718.1 432.9h0"/>
<path stroke="#000" d="M2718.3 184.0h0"/>
<path stroke="#f00" d="M2718.5 358.6h0M2718.7 411.9h0M2718.9 423.4h0M2719.2 361.7h0M2719.4 294.3h0M2719.6 427.9h0M2719.8 256.6h0M2720.0 384.6h0M2720.2 462.1h0M2720.5 318.9h0M2720.7 318.4h0M2720.9 330.9h0M2721.1 377.2h0M2721.3 395.8h0M2721.5 476.1h0M2721.8 395.8h0M2722.0 333.9h0M2722.2 388.0h0M2722.4 439.7h0M2722.6 375.0h0M2722.8 342.4h0M2723.1 388.6h0M2723.3 325.8h0M2723.5 320.3h0M2723.7 438.9h0M2723.9 371.2h0M2724.1 376.2h0"/>
<path stroke="#000" d="M2724.4 208.3h0M2724.6 537.9h0"/>
<path stroke="#f00" d="M2724.8 472.2h0M2725.0 246.3h0M2725.2 456.8h0M2725.4 412.0h0M2725.7 300.3h0M2725.9 347.5h0M2726.1 380.5h0M2726.3 490.1h0M2726.5 310.4h0M2726.8 362.8h0M2727.0 396.2h0M2727.2 309.6h0M2727.4 287.8h0M2727.6 267.2h0M2727.8 422.4h0M2728.1 398.2h0M2728.3 431.5h0M2728.5 368.2h0M2728.7 383.9h0M2728.9 412.9h0M2729.1 350.9h0M2729.4 405.2h0M2729.6 391.9h0M2729.8 362.9h0M2730.0 324.8h0M2730.2 400.8h0M2730.4 358.1h0M2730.7 354.3h0M2730.9 357.4h0M2731.1 370.4h0M2731.3 281.0h0M2731.5 451.4h0M2731.7 413.2h0"/>
<path stroke="#000" d="M2732.0 215.5h0"/>
<path stroke="#f00" d="M2732.2 290.1h0M2732.4 424.3h0M2732.6 365.1h0M2732.8 499.2h0M2733.0 348.6h0M2733.3 484.4h0M2733.5 387.1h0M2733.7 356.5h0M2733.9 385.8h0M2734.1 359.9h0M2734.3 471.4h0M2734.6 316.2h0M2734.8 381.5h0M2735.0 350.8h0M2735.2 323.6h0M2735.4 345.9h0"/>
<path stroke="#000" d="M2735.7 211.4h0"/>
<path stroke="#f00" d="M2735.9 446.5h0"/>
<path stroke="#000" d="M2736.1 516.7h0"/>
<path stroke="#f00" d="M2736.3 362.4h0M2736.5 346.8h0M2736.7 259.0h0M2737.0 278.6h0M2737.2 327.4h0M2737.4 397.4h0M2737.6 293.7h0M2737.8 341.7h0M2738.0 350.1h0M2738.3 277.1h0M2738.5 492.7h0M2738.7 314.5h0M2738.9 343.1h0M2739.1 371.9h0M2739.3 281.8h0M2739.6 378.2h0M2739.8 395.8h0M2740.0 492.8h0M2740.2 424.2h0M2740.4 448.5h0M2740.6 346.4h0M2740.9 399.6h0M2741.1 385.2h0M2741.3 445.0h0M2741.5 289.6h0"/>
<path stroke="#000" d="M2741.7 211.5h0"/>
<path stroke="#f00" d="M2741.9 429.5h0M2742.2 344.4h0M2742.4 358.1h0"/>
<path stroke="#000" d="M2742.6 208.2h0"/>
<path stroke="#f00" d="M2742.8 273.1h0M2743.0 393.2h0M2743.3 292.6h0M2743.5 397.3h0M2743.7 409.0h0M2743.9 395.1h0M2744.1 281.4h0M2744.3 325.1h0M2744.6 415.7h0M2744.8 410.2h0M2745.0 308.5h0M2745.2 352.2h0M2745.4 406.7h0M2745.6 303.5h0M2745.9 237.7h0M2746.1 289.8h0M2746.3 278.5h0M2746.5 397.0h0M2746.7 332.3h0M2746.9 367.3h0M2747.2 415.6h0M2747.4 338.7h0M2747.6 397.6h0M2747.8 247.1h0M2748.0 380.4h0M2748.2 446.1h0M2748.5 245.6h0M2748.7 427.9h0M2748.9 243.1h0M2749.1 417.1h0M2749.3 279.0h0M2749.5 300.2h0M2749.8 342.0h0M2750.0 367.0h0M2750.2 323.3h0M2750.4 330.8h0M2750.6 344.2h0M2750.9 445.1h0M2751.1 311.6h0M2751.3 335.3h0M2751.5 333.1h0M2751.7 269.5h0M2751.9 361.5h0M2752.2 453.9h0M2752.4 344.7h0M2752.6 472.2h0M2752.8 390.5h0M2753.0 292.3h0M2753.2 335.9h0M2753.5 505.4h0M2753.7 232.8h0M2753.9 424.6h0M2754.1 351.5h0M2754.3 359.7h0M2754.5 303.3h0M2754.8 355.5h0M2755.0 325.5h0M2755.2 288.0h0M2755.4 349.4h0M2755.6 439.5h0M2755.8 428.1h0M2756.1 279.6h0M2756.3 344.5h0M2756.5 387.2h0M2756.7 361.2h0M2756.9 412.9h0M2757.1 356.7h0M2757.4 378.1h0M2757.6 325.1h0M2757.8 349.6h0"/>
<path stroke="#000" d="M2758.0 211.0h0"/>
<path stroke="#f00" d="M2758.2 430.9h0"/>
<path stroke="#000" d="M2758.5 535.8h0"/>
<path stroke="#f00" d="M2758.7 272.1h0M2758.9 428.2h0M2759.1 257.2h0M2759.3 396.9h0M2759.5 303.2h0M2759.8 247.6h0M2760.0 383.7h0M2760.2 339.2h0M2760.4 418.8h0M2760.6 339.9h0M2760.8 406.5h0M2761.1 286.7h0M2761.3 353.9h0M2761.5 501.1h0M2761.7 357.2h0M2761.9 399.2h0"/>
<path stroke="#000" d="M2762.1 540.0h0"/>
<path stroke="#f00" d="M2762.4 417.5h0M2762.6 455.1h0M2762.8 313.7h0M2763.0 414.4h0M2763.2 482.6h0M2763.4 357.5h0M2763.7 454.9h0M2763.9 349.9h0M2764.1 475.7h0M2764.3 407.0h0M2764.5 375.6h0M2764.7 368.7h0M2765.0 379.9h0M2765.2 375.6h0M2765.4 452.4h0M2765.6 376.7h0M2765.8 335.9h0M2766.1 298.6h0M2766.3 327.1h0M2766.5 397.8h0M2766.7 296.1h0M2766.9 385.3h0M2767.1 309.9h0M2767.4 364.7h0M2767.6 359.9h0M2767.8 413.9h0M2768.0 376.6h0M2768.2 381.4h0M2768.4 313.6h0M2768.7 304.6h0M2768.9 335.8h0M2769.1 382.2h0M2769.3 355.9h0M2769.5 340.6h0M2769.7 372.8h0M2770.0 379.5h0M2770.2 413.8h0M2770.4 327.0h0M2770.6 361.0h0M2770.8 390.1h0M2771.0 388.0h0M2771.3 340.0h0M2771.5 282.7h0M2771.7 257.9h0M2771.9 326.8h0M2772.1 387.2h0M2772.3 495.7h0M2772.6 390.3h0M2772.8 360.3h0"/>
<path stroke="#000" d="M2773.0 566.3h0"/>
<path stroke="#f00" d="M2773.0 445.0h0M2773.2 414.7h0M2773.4 266.5h0M2773.7 348.1h0M2773.9 360.2h0M2774.1 301.5h0"/>
<path stroke="#000" d="M2774.3 543.9h0"/>
<path stroke="#f00" d="M2774.5 260.1h0M2774.7 445.4h0M2775.0 336.1h0M2775.2 344.6h0M2775.4 350.3h0M2775.6 292.4h0M2775.8 311.0h0M2776.0 421.6h0M2776.3 279.9h0M2776.5 329.1h0M2776.7 331.8h0M2776.9 387.4h0M2777.1 342.6h0M2777.3 383.5h0M2777.6 345.1h0M2777.8 430.4h0M2778.0 286.1h0M2778.2 402.5h0M2778.4 283.7h0M2778.6 325.6h0M2778.9 237.3h0M2779.1 398.0h0M2779.3 282.6h0M2779.5 325.1h0M2779.7 347.1h0M2779.9 372.1h0M2780.2 265.1h0M2780.4 329.5h0M2780.6 351.6h0M2780.8 357.8h0M2781.0 402.9h0M2781.3 404.0h0"/>
<path stroke="#000" d="M2781.5 215.9h0"/>
<path stroke="#f00" d="M2781.7 474.6h0M2781.9 380.8h0M2782.1 333.3h0M2782.3 436.3h0M2782.6 313.5h0M2782.8 323.5h0M2783.0 359.4h0M2783.2 379.9h0M2783.4 260.3h0M2783.6 313.6h0M2783.9 416.3h0"/>
<path stroke="#000" d="M2784.1 512.4h0"/>
<path stroke="#f00" d="M2784.3 299.3h0M2784.5 356.9h0M2784.7 285.2h0M2784.9 272.3h0M2785.2 408.1h0M2785.4 349.9h0M2785.6 441.8h0M2785.8 309.9h0M2786.0 295.7h0M2786.2 335.6h0M2786.5 369.1h0"/>
<path stroke="#000" d="M2786.5 181.8h0"/>
<path stroke="#f00" d="M2786.7 379.9h0M2786.9 276.0h0M2787.1 404.0h0M2787.3 376.6h0M2787.5 369.8h0M2787.8 327.5h0M2788.0 324.7h0M2788.2 350.1h0M2788.4 435.1h0"/>
<path stroke="#000" d="M2788.6 192.4h0"/>
<path stroke="#f00" d="M2788.6 350.9h0M2788.9 439.7h0"/>
<path stroke="#000" d="M2789.1 520.1h0"/>
<path stroke="#f00" d="M2789.3 394.7h0M2789.5 430.9h0M2789.7 385.7h0M2789.9 367.2h0"/>
<path stroke="#000" d="M2790.2 519.8h0"/>
<path stroke="#f00" d="M2790.4 349.2h0M2790.6 405.4h0M2790.8 319.7h0M2791.0 419.3h0M2791.2 413.9h0M2791.5 487.1h0M2791.7 381.7h0M2791.9 286.1h0M2792.1 455.0h0M2792.3 391.2h0M2792.5 388.7h0M2792.8 269.8h0M2793.0 246.6h0M2793.2 418.3h0M2793.4 288.9h0M2793.6 355.9h0M2793.8 408.1h0M2794.1 387.1h0M2794.3 331.8h0M2794.5 413.7h0M2794.7 347.0h0"/>
<path stroke="#000" d="M2794.9 573.4h0"/>
<path stroke="#f00" d="M2794.9 410.3h0M2795.1 324.5h0"/>
<path stroke="#000" d="M2795.4 536.9h0"/>
<path stroke="#f00" d="M2795.6 395.6h0M2795.8 402.2h0M2796.0 412.8h0M2796.2 343.0h0M2796.4 302.1h0M2796.7 356.4h0M2796.9 278.6h0M2797.1 276.9h0M2797.3 348.6h0M2797.5 372.9h0M2797.8 349.4h0M2798.0 501.0h0M2798.2 364.4h0M2798.4 309.8h0M2798.6 320.6h0"/>
<path stroke="#000" d="M2798.8 203.1h0"/>
<path stroke="#f00" d="M2799.1 276.0h0M2799.3 440.9h0M2799.5 482.5h0M2799.7 405.7h0M2799.9 311.4h0M2800.1 461.8h0M2800.4 415.7h0M2800.6 354.1h0M2800.8 346.6h0M2801.0 366.1h0M2801.2 397.4h0M2801.4 274.9h0M2801.7 442.3h0M2801.9 369.9h0M2802.1 366.6h0M2802.3 416.9h0M2802.5 410.0h0M2802.7 263.6h0M2803.0 419.4h0M2803.2 426.6h0M2803.4 451.9h0M2803.6 421.3h0M2803.8 445.3h0M2804.0 399.1h0M2804.3 367.7h0M2804.5 284.1h0M2804.7 344.6h0M2804.9 274.1h0M2805.1 365.7h0M2805.4 458.6h0M2805.6 406.9h0M2805.8 401.8h0M2806.0 356.2h0M2806.2 290.8h0M2806.4 426.1h0"/>
<path stroke="#000" d="M2806.7 227.6h0"/>
<path stroke="#f00" d="M2806.9 346.5h0M2807.1 406.5h0M2807.3 438.4h0M2807.5 340.2h0M2807.7 258.0h0M2808.0 297.4h0M2808.2 349.6h0M2808.4 332.4h0M2808.6 386.9h0M2808.8 351.8h0M2809.0 350.9h0M2809.3 377.1h0M2809.5 366.2h0M2809.7 319.4h0M2809.9 504.3h0M2810.1 441.8h0M2810.3 280.8h0M2810.6 379.0h0M2810.8 390.7h0M2811.0 406.3h0M2811.2 371.1h0M2811.4 459.2h0M2811.6 356.8h0M2811.9 297.9h0M2812.1 296.6h0M2812.3 351.5h0M2812.5 373.5h0M2812.7 369.0h0M2813.0 300.3h0M2813.2 437.1h0M2813.4 453.3h0M2813.6 379.0h0M2813.8 330.0h0M2814.0 342.1h0"/>
<path stroke="#000" d="M2814.3 192.4h0"/>
<path stroke="#f00" d="M2814.5 356.5h0M2814.7 450.3h0M2814.9 265.2h0M2815.1 331.9h0M2815.3 331.2h0M2815.6 304.1h0M2815.8 327.9h0M2816.0 388.8h0M2816.2 428.2h0M2816.4 440.4h0"/>
<path stroke="#000" d="M2816.6 522.0h0"/>
<path stroke="#f00" d="M2816.9 402.9h0"/>
<path stroke="#000" d="M2817.1 225.3h0"/>
<path stroke="#f00" d="M2817.3 306.8h0M2817.5 395.9h0M2817.7 407.0h0"/>
<path stroke="#000" d="M2817.9 225.0h0"/>
<path stroke="#f00" d="M2818.2 328.5h0M2818.4 391.7h0M2818.6 492.9h0M2818.8 449.0h0M2819.0 354.5h0M2819.2 350.3h0M2819.5 381.9h0M2819.7 343.4h0M2819.9 326.4h0M2820.1 338.6h0M2820.3 282.9h0M2820.6 431.4h0M2820.8 395.5h0M2821.0 496.3h0M2821.2 273.6h0M2821.4 431.6h0M2821.6 372.8h0M2821.9 242.9h0M2822.1 258.6h0M2822.3 369.9h0M2822.5 342.1h0M2822.7 368.0h0M2822.9 387.6h0M2823.2 354.9h0M2823.4 479.6h0M2823.6 262.7h0M2823.8 358.4h0M2824.0 368.0h0M2824.2 420.8h0M2824.5 443.2h0M2824.7 327.0h0M2824.9 449.1h0M2825.1 322.7h0M2825.3 481.4h0M2825.5 284.4h0M2825.8 330.8h0M2826.0 426.9h0M2826.2 463.9h0M2826.4 298.4h0M2826.6 271.9h0M2826.8 376.5h0M2827.1 331.3h0M2827.3 383.9h0M2827.5 416.0h0M2827.7 407.4h0M2827.9 467.7h0M2828.2 374.4h0M2828.4 434.8h0"/>
<path stroke="#000" d="M2828.6 510.2h0"/>
<path stroke="#f00" d="M2828.8 372.0h0M2829.0 365.4h0M2829.2 411.3h0M2829.5 442.0h0M2829.7 281.4h0M2829.9 318.0h0M2830.1 332.9h0M2830.3 461.2h0M2830.5 375.5h0M2830.8 354.6h0M2831.0 368.6h0M2831.2 377.5h0M2831.4 281.7h0M2831.6 363.2h0M2831.8 453.9h0M2832.1 396.2h0M2832.3 329.2h0M2832.5 436.1h0M2832.7 363.1h0M2832.9 385.7h0M2833.1 370.5h0M2833.4 411.2h0M2833.6 381.2h0M2833.8 308.2h0M2834.0 369.3h0M2834.2 384.9h0M2834.4 358.2h0M2834.7 340.6h0M2834.9 494.6h0M2835.1 378.4h0"/>
<path stroke="#000" d="M2835.3 193.7h0"/>
<path stroke="#f00" d="M2835.5 388.1h0M2835.8 413.4h0M2836.0 327.7h0M2836.2 340.7h0M2836.4 356.8h0M2836.6 301.2h0M2836.8 364.3h0M2837.1 322.8h0M2837.3 428.2h0M2837.5 447.5h0M2837.7 354.3h0M2837.9 319.5h0M2838.1 462.1h0M2838.4 272.9h0M2838.6 295.1h0M2838.8 369.1h0M2839.0 292.8h0M2839.2 305.5h0M2839.4 353.4h0M2839.7 326.3h0M2839.9 338.0h0M2840.1 447.6h0M2840.3 440.8h0M2840.5 459.8h0M2840.7 362.5h0M2841.0 402.8h0M2841.2 387.6h0M2841.4 233.3h0M2841.6 381.7h0M2841.8 382.8h0M2842.0 292.4h0M2842.3 384.6h0M2842.5 434.3h0M2842.7 390.4h0M2842.9 420.4h0M2843.1 309.1h0M2843.4 290.1h0M2843.6 240.5h0M2843.8 353.6h0M2844.0 297.4h0M2844.2 300.5h0"/>
<path stroke="#000" d="M2844.4 508.9h0"/>
<path stroke="#f00" d="M2844.7 361.7h0M2844.9 293.1h0M2845.1 399.6h0M2845.3 361.6h0M2845.5 399.0h0M2845.7 326.3h0M2846.0 385.1h0M2846.2 242.7h0M2846.4 377.8h0M2846.6 252.3h0M2846.8 323.8h0M2847.0 349.8h0M2847.3 274.8h0M2847.5 378.6h0M2847.7 317.9h0M2847.9 420.5h0M2848.1 454.4h0M2848.3 320.1h0M2848.6 387.0h0M2848.8 436.4h0M2849.0 437.9h0M2849.2 338.9h0M2849.4 335.5h0M2849.6 434.1h0M2849.9 410.9h0M2850.1 389.0h0M2850.3 409.8h0M2850.5 456.6h0M2850.7 335.5h0M2851.0 423.2h0M2851.2 378.0h0M2851.4 290.9h0M2851.6 335.0h0M2851.8 266.8h0M2852.0 310.4h0M2852.3 353.2h0M2852.5 427.7h0"/>
<path stroke="#000" d="M2852.7 521.6h0"/>
<path stroke="#f00" d="M2852.9 423.9h0M2853.1 372.3h0"/>
<path stroke="#000" d="M2853.3 554.7h0"/>
<path stroke="#f00" d="M2853.3 332.0h0M2853.6 429.8h0M2853.8 409.9h0M2854.0 321.2h0M2854.2 310.9h0"/>
<path stroke="#000" d="M2854.3 186.2h0"/>
<path stroke="#f00" d="M2854.4 296.3h0M2854.6 428.6h0M2854.9 421.5h0M2855.1 375.4h0M2855.3 436.7h0M2855.5 368.8h0M2855.7 444.3h0M2855.9 398.2h0M2856.2 358.0h0M2856.4 315.3h0M2856.6 324.1h0M2856.8 418.7h0M2857.0 435.3h0M2857.2 317.1h0"/>
<path stroke="#000" d="M2857.4 199.6h0"/>
<path stroke="#f00" d="M2857.5 266.3h0M2857.7 352.6h0M2857.9 488.4h0M2858.1 482.1h0M2858.3 379.4h0M2858.6 374.5h0M2858.8 245.6h0M2859.0 433.4h0M2859.2 420.4h0M2859.4 330.8h0M2859.6 380.6h0M2859.9 322.7h0M2860.1 419.2h0M2860.3 265.2h0M2860.5 392.2h0M2860.7 352.9h0M2860.9 295.5h0M2861.2 358.0h0M2861.4 359.9h0M2861.6 353.2h0M2861.8 311.9h0M2862.0 408.8h0M2862.2 295.2h0M2862.5 293.3h0M2862.7 354.2h0M2862.9 346.6h0"/>
<path stroke="#000" d="M2863.1 515.9h0"/>
<path stroke="#f00" d="M2863.3 286.2h0"/>
<path stroke="#000" d="M2863.5 224.0h0"/>
<path stroke="#f00" d="M2863.8 253.3h0M2864.0 410.2h0M2864.2 401.0h0M2864.4 445.5h0M2864.6 416.6h0M2864.8 402.6h0M2865.1 283.7h0M2865.3 404.3h0M2865.5 306.5h0M2865.7 408.7h0M2865.9 481.9h0M2866.1 361.6h0M2866.4 417.6h0M2866.6 386.5h0M2866.8 372.8h0M2867.0 283.2h0M2867.2 237.2h0M2867.5 441.0h0M2867.7 360.2h0M2867.9 395.7h0M2868.1 467.7h0M2868.3 324.3h0M2868.5 444.8h0M2868.8 315.9h0M2869.0 330.8h0"/>
<path stroke="#000" d="M2869.2 532.1h0"/>
<path stroke="#f00" d="M2869.4 412.1h0M2869.6 340.4h0M2869.8 490.7h0M2870.1 319.8h0M2870.3 299.0h0M2870.5 347.0h0M2870.7 370.6h0M2870.9 277.4h0M2871.1 431.8h0M2871.4 353.8h0M2871.6 264.1h0M2871.8 412.6h0M2872.0 373.5h0M2872.2 257.2h0M2872.4 429.9h0M2872.7 353.2h0M2872.9 347.7h0M2873.1 379.3h0M2873.3 378.4h0M2873.5 357.4h0M2873.7 411.3h0M2874.0 408.8h0M2874.2 395.4h0M2874.4 399.9h0M2874.6 394.3h0M2874.8 298.5h0M2875.1 389.1h0M2875.3 268.6h0M2875.5 386.1h0M2875.7 279.5h0M2875.9 428.9h0"/>
<path stroke="#000" d="M2876.1 216.9h0"/>
<path stroke="#f00" d="M2876.4 394.4h0M2876.6 448.8h0M2876.8 415.0h0M2877.0 440.6h0M2877.2 421.6h0M2877.4 282.0h0M2877.7 396.6h0M2877.9 467.7h0M2878.1 325.2h0M2878.3 358.5h0M2878.5 456.9h0M2878.7 434.8h0M2879.0 397.2h0"/>
<path stroke="#000" d="M2879.2 224.9h0"/>
<path stroke="#f00" d="M2879.4 280.9h0M2879.6 254.1h0M2879.8 465.8h0M2880.0 345.1h0M2880.3 480.4h0M2880.5 477.8h0M2880.7 416.8h0M2880.9 421.6h0"/>
<path stroke="#000" d="M2881.1 510.3h0"/>
<path stroke="#f00" d="M2881.3 294.8h0M2881.6 293.3h0M2881.8 371.6h0M2882.0 414.8h0M2882.2 356.1h0M2882.4 411.0h0M2882.7 360.2h0M2882.9 320.5h0M2883.1 445.8h0M2883.3 414.4h0M2883.5 380.6h0M2883.7 384.5h0M2884.0 416.7h0M2884.2 410.6h0M2884.4 423.1h0M2884.6 438.0h0M2884.8 453.9h0M2885.0 281.2h0M2885.3 406.4h0M2885.5 419.1h0M2885.7 295.7h0M2885.9 301.4h0M2886.1 420.7h0M2886.3 370.3h0M2886.6 388.1h0M2886.8 403.6h0M2887.0 350.7h0M2887.2 446.8h0M2887.4 419.7h0M2887.6 455.2h0M2887.9 356.1h0M2888.1 293.5h0M2888.3 416.6h0M2888.5 436.2h0M2888.7 425.6h0M2888.9 409.4h0M2889.2 468.1h0M2889.4 301.0h0M2889.6 295.5h0M2889.8 302.3h0M2890.0 392.2h0M2890.3 290.1h0M2890.5 403.3h0M2890.7 301.9h0M2890.9 487.9h0"/>
<path stroke="#000" d="M2891.1 523.6h0"/>
<path stroke="#f00" d="M2891.3 440.6h0M2891.6 420.4h0M2891.8 342.0h0M2892.0 271.5h0M2892.2 372.2h0M2892.4 411.7h0M2892.6 477.0h0M2892.9 344.0h0M2893.1 414.6h0M2893.3 286.0h0M2893.5 383.9h0M2893.7 401.7h0M2893.9 324.1h0M2894.2 282.7h0M2894.4 407.1h0M2894.6 447.7h0M2894.8 335.5h0M2895.0 354.6h0M2895.2 371.0h0M2895.5 397.3h0M2895.7 365.3h0M2895.9 272.7h0M2896.1 331.0h0M2896.3 345.7h0M2896.5 419.4h0M2896.8 274.4h0M2897.0 346.2h0M2897.2 439.4h0M2897.4 290.6h0M2897.6 330.7h0M2897.9 274.0h0M2898.1 273.4h0M2898.3 469.4h0M2898.5 329.4h0"/>
<path stroke="#000" d="M2898.7 218.8h0"/>
<path stroke="#f00" d="M2898.9 351.5h0M2899.2 286.3h0M2899.4 396.6h0M2899.6 448.2h0M2899.8 338.2h0M2900.0 395.3h0M2900.2 341.5h0M2900.5 447.3h0M2900.7 262.5h0M2900.9 423.0h0M2901.1 333.7h0M2901.3 412.1h0"/>
<path stroke="#000" d="M2901.5 222.7h0"/>
<path stroke="#f00" d="M2901.8 410.2h0M2902.0 488.8h0M2902.2 349.9h0M2902.4 465.9h0M2902.6 332.5h0M2902.8 460.9h0M2903.1 359.2h0M2903.3 339.5h0M2903.5 385.9h0M2903.7 308.1h0M2903.9 393.6h0M2904.1 419.8h0M2904.4 359.3h0M2904.6 471.2h0M2904.8 368.1h0M2905.0 330.5h0M2905.2 425.2h0M2905.5 361.2h0"/>
<path stroke="#000" d="M2905.7 229.8h0"/>
<path stroke="#f00" d="M2905.9 497.6h0M2906.1 247.2h0M2906.3 384.2h0"/>
<path stroke="#000" d="M2906.5 510.3h0"/>
<path stroke="#f00" d="M2906.8 417.5h0M2907.0 411.3h0M2907.2 275.2h0M2907.4 401.8h0M2907.6 369.7h0M2907.8 383.3h0M2908.1 423.0h0M2908.3 323.8h0M2908.5 469.4h0M2908.7 379.2h0M2908.9 489.2h0M2909.1 301.1h0M2909.4 237.5h0M2909.6 285.5h0M2909.8 336.4h0M2910.0 446.8h0M2910.2 262.0h0M2910.4 440.5h0M2910.7 400.0h0M2910.9 411.2h0M2911.1 400.0h0M2911.3 311.4h0M2911.5 268.6h0M2911.7 373.2h0M2912.0 323.9h0M2912.2 500.5h0M2912.4 309.5h0M2912.6 486.7h0M2912.8 394.0h0M2913.1 353.7h0M2913.3 336.6h0M2913.5 347.8h0M2913.7 318.5h0"/>
<path stroke="#000" d="M2913.9 226.6h0"/>
<path stroke="#f00" d="M2914.1 408.9h0M2914.4 355.8h0M2914.6 389.6h0M2914.8 434.2h0M2915.0 380.5h0M2915.2 259.8h0M2915.4 487.5h0M2915.7 313.8h0M2915.9 276.8h0M2916.1 431.9h0M2916.3 420.7h0M2916.5 329.1h0M2916.7 450.3h0M2917.0 390.2h0M2917.2 286.5h0M2917.4 376.9h0M2917.6 399.0h0M2917.8 426.7h0M2918.0 484.4h0M2918.3 391.7h0M2918.5 366.6h0M2918.7 369.6h0M2918.9 371.4h0M2919.1 281.2h0M2919.3 471.7h0M2919.6 385.7h0M2919.8 359.6h0M2920.0 439.2h0"/>
<path stroke="#000" d="M2920.2 515.0h0"/>
<path stroke="#f00" d="M2920.4 315.5h0M2920.7 362.9h0M2920.9 356.6h0M2921.1 390.9h0M2921.3 258.7h0M2921.5 374.7h0M2921.7 351.9h0M2922.0 371.2h0"/>
<path stroke="#000" d="M2922.1 183.5h0"/>
<path stroke="#f00" d="M2922.2 382.1h0M2922.4 315.2h0M2922.6 362.5h0M2922.8 311.7h0M2923.0 310.8h0M2923.3 303.4h0M2923.5 300.7h0M2923.7 329.4h0M2923.9 384.3h0M2924.1 304.1h0M2924.3 359.8h0M2924.6 440.8h0M2924.8 395.1h0M2925.0 285.0h0M2925.2 447.2h0M2925.4 349.8h0M2925.6 387.7h0M2925.9 340.2h0"/>
<path stroke="#000" d="M2926.1 222.3h0"/>
<path stroke="#f00" d="M2926.3 332.0h0M2926.5 383.3h0M2926.7 399.0h0M2926.9 427.3h0M2927.2 265.3h0M2927.4 297.1h0M2927.6 351.4h0M2927.8 340.7h0M2928.0 349.2h0"/>
<path stroke="#000" d="M2928.2 215.3h0"/>
<path stroke="#f00" d="M2928.5 382.4h0M2928.7 458.8h0M2928.9 408.6h0M2929.1 351.8h0M2929.3 391.7h0M2929.6 291.2h0M2929.8 435.9h0M2930.0 471.8h0M2930.2 376.8h0M2930.4 491.6h0M2930.6 362.4h0M2930.9 412.7h0M2931.1 317.6h0M2931.3 381.0h0M2931.5 316.5h0M2931.7 418.1h0M2931.9 452.3h0M2932.2 367.5h0M2932.4 425.6h0M2932.6 384.4h0M2932.8 380.1h0M2933.0 311.0h0M2933.2 419.6h0M2933.5 342.3h0M2933.7 427.5h0M2933.9 318.8h0M2934.1 287.3h0M2934.3 368.3h0M2934.5 336.8h0M2934.8 393.8h0M2935.0 310.7h0M2935.2 318.1h0M2935.4 320.8h0M2935.6 456.2h0M2935.8 295.7h0M2936.1 416.0h0M2936.3 345.5h0M2936.5 322.4h0M2936.7 342.6h0M2936.9 399.9h0M2937.2 263.3h0M2937.4 331.0h0M2937.6 274.7h0M2937.8 394.3h0M2938.0 395.0h0M2938.2 379.9h0M2938.5 297.8h0M2938.7 381.2h0"/>
<path stroke="#000" d="M2938.9 205.1h0"/>
<path stroke="#f00" d="M2939.1 402.6h0M2939.3 312.7h0M2939.5 300.4h0M2939.8 288.7h0M2940.0 436.1h0M2940.2 373.0h0M2940.4 442.0h0M2940.6 287.4h0M2940.8 349.4h0M2941.1 298.8h0M2941.3 417.5h0M2941.5 425.5h0M2941.7 445.1h0M2941.9 404.9h0M2942.1 325.0h0M2942.4 284.5h0M2942.6 287.9h0M2942.8 386.4h0M2943.0 287.2h0M2943.2 326.0h0M2943.4 508.7h0M2943.7 352.9h0M2943.9 331.7h0M2944.1 295.0h0M2944.3 348.4h0M2944.5 330.5h0M2944.8 337.1h0M2945.0 434.7h0M2945.2 343.5h0M2945.4 422.5h0M2945.6 440.1h0M2945.8 444.5h0"/>
<path stroke="#000" d="M2946.1 210.8h0"/>
<path stroke="#f00" d="M2946.3 485.1h0M2946.5 399.5h0M2946.7 384.9h0M2946.9 394.2h0M2947.1 309.3h0M2947.4 330.8h0M2947.6 259.3h0M2947.8 478.1h0M2948.0 312.0h0M2948.2 241.1h0M2948.4 313.1h0M2948.7 337.4h0M2948.9 413.0h0M2949.1 299.5h0M2949.3 416.5h0M2949.5 368.7h0M2949.7 481.2h0M2950.0 373.5h0M2950.2 348.2h0M2950.4 426.8h0M2950.6 464.6h0M2950.8 336.2h0M2951.0 245.0h0M2951.3 504.4h0M2951.5 323.1h0M2951.7 380.3h0M2951.9 391.6h0M2952.1 378.3h0M2952.4 403.2h0M2952.6 335.4h0M2952.8 453.4h0M2953.0 415.5h0M2953.2 392.0h0M2953.4 427.9h0M2953.7 317.2h0M2953.9 448.6h0M2954.1 343.6h0M2954.3 434.8h0M2954.5 475.0h0M2954.7 412.2h0M2955.0 366.5h0"/>
<path stroke="#000" d="M2955.2 225.4h0"/>
<path stroke="#f00" d="M2955.4 338.4h0M2955.6 386.4h0M2955.8 369.3h0M2956.0 364.7h0M2956.3 504.0h0M2956.5 386.6h0M2956.7 352.0h0"/>
<path stroke="#000" d="M2956.9 221.2h0"/>
<path stroke="#f00" d="M2957.1 411.8h0M2957.3 331.5h0M2957.6 248.8h0M2957.8 336.8h0M2958.0 387.4h0"/>
<path stroke="#000" d="M2958.2 524.3h0"/>
<path stroke="#f00" d="M2958.4 333.0h0M2958.6 397.6h0M2958.9 427.7h0M2959.1 428.8h0M2959.3 366.4h0M2959.5 410.0h0M2959.7 258.3h0M2960.0 365.5h0M2960.2 334.1h0M2960.4 308.4h0M2960.6 387.4h0M2960.8 401.6h0M2961.0 411.0h0M2961.3 433.9h0M2961.5 335.3h0M2961.7 337.0h0M2961.9 314.4h0M2962.1 425.1h0M2962.3 376.4h0M2962.6 495.5h0M2962.8 387.9h0M2963.0 402.8h0M2963.2 392.4h0M2963.4 357.9h0M2963.6 394.0h0M2963.9 385.3h0M2964.1 426.7h0M2964.3 353.4h0M2964.5 334.5h0M2964.7 379.9h0M2964.9 458.3h0M2965.2 307.7h0M2965.4 382.9h0M2965.6 348.4h0M2965.8 297.6h0M2966.0 408.4h0M2966.2 422.7h0M2966.5 308.9h0M2966.7 336.5h0M2966.9 348.9h0"/>
<path stroke="#000" d="M2967.1 228.8h0"/>
<path stroke="#f00" d="M2967.3 408.8h0M2967.6 376.3h0"/>
<path stroke="#000" d="M2967.8 228.3h0"/>
<path stroke="#f00" d="M2968.0 350.2h0M2968.2 247.3h0M2968.4 471.3h0M2968.6 282.6h0M2968.9 453.0h0M2969.1 377.6h0M2969.3 453.9h0M2969.5 407.9h0M2969.7 403.3h0M2969.9 444.7h0M2970.2 311.7h0M2970.4 317.2h0M2970.6 329.6h0M2970.8 417.0h0M2971.0 314.5h0M2971.2 316.0h0M2971.5 378.8h0M2971.7 351.7h0M2971.9 383.3h0M2972.1 378.0h0M2972.3 497.4h0M2972.5 280.7h0M2972.8 342.3h0M2973.0 326.5h0M2973.2 398.7h0M2973.4 285.5h0M2973.6 464.3h0M2973.8 394.9h0M2974.1 322.9h0M2974.3 370.6h0M2974.5 324.3h0M2974.7 311.1h0M2974.9 413.0h0M2975.2 307.7h0M2975.4 410.7h0M2975.6 361.8h0M2975.8 322.9h0M2976.0 340.1h0M2976.2 372.3h0M2976.5 472.4h0M2976.7 429.0h0M2976.9 241.4h0M2977.1 388.1h0M2977.3 431.0h0M2977.5 318.4h0M2977.8 323.2h0M2978.0 313.2h0M2978.2 297.5h0M2978.4 365.1h0M2978.6 381.3h0M2978.8 389.3h0M2979.1 464.1h0M2979.3 365.0h0M2979.5 390.3h0M2979.7 411.4h0M2979.9 330.6h0M2980.1 381.3h0M2980.4 349.7h0M2980.6 292.9h0"/>
<path stroke="#000" d="M2980.8 512.1h0"/>
<path stroke="#f00" d="M2981.0 318.3h0M2981.2 383.3h0M2981.4 397.2h0M2981.7 470.3h0M2981.9 431.7h0M2982.1 357.9h0M2982.3 365.6h0M2982.5 354.4h0M2982.8 310.8h0M2983.0 414.9h0M2983.2 400.7h0M2983.4 422.9h0M2983.6 386.5h0M2983.8 431.8h0M2984.1 326.5h0M2984.3 416.6h0M2984.5 242.8h0M2984.7 356.7h0M2984.9 335.3h0M2985.1 390.3h0M2985.4 319.2h0M2985.6 483.5h0M2985.8 269.9h0M2986.0 262.2h0M2986.2 312.3h0M2986.4 400.0h0M2986.7 400.7h0M2986.9 427.6h0"/>
<path stroke="#000" d="M2987.1 213.7h0"/>
<path stroke="#f00" d="M2987.3 388.7h0M2987.5 382.7h0M2987.7 323.2h0M2988.0 374.8h0M2988.2 403.5h0M2988.4 398.8h0M2988.6 422.2h0M2988.8 418.7h0M2989.0 452.5h0M2989.3 313.7h0M2989.5 331.9h0M2989.7 406.5h0"/>
<path stroke="#000" d="M2989.9 516.8h0"/>
<path stroke="#f00" d="M2990.1 341.5h0M2990.3 357.0h0M2990.6 360.0h0M2990.8 279.8h0"/>
<path stroke="#000" d="M2991.0 214.6h0"/>
<path stroke="#f00" d="M2991.2 422.2h0M2991.4 252.6h0M2991.7 395.1h0M2991.9 420.2h0M2992.1 269.7h0M2992.3 301.3h0M2992.5 464.1h0M2992.7 312.3h0M2993.0 438.3h0M2993.2 267.5h0M2993.4 344.8h0M2993.6 302.2h0M2993.8 309.4h0M2994.0 359.9h0M2994.3 357.1h0M2994.5 362.0h0M2994.7 406.8h0M2994.9 260.9h0M2995.1 363.7h0M2995.3 383.2h0M2995.6 434.5h0M2995.8 425.8h0M2996.0 424.8h0M2996.2 327.2h0M2996.4 277.3h0M2996.6 420.8h0M2996.9 329.9h0M2997.1 355.7h0M2997.3 306.7h0"/>
<path stroke="#000" d="M2997.5 209.9h0"/>
<path stroke="#f00" d="M2997.7 420.0h0M2997.9 332.3h0M2998.2 386.2h0M2998.4 326.5h0M2998.6 435.4h0M2998.8 405.4h0M2999.0 361.9h0M2999.3 304.1h0M2999.5 393.9h0M2999.7 332.5h0M2999.9 452.9h0M3000.1 266.8h0"/>
<path stroke="#000" d="M3000.3 225.4h0"/>
<path stroke="#f00" d="M3000.6 350.5h0M3000.8 477.8h0M3001.0 318.0h0M3001.2 481.6h0M3001.4 290.3h0M3001.6 487.3h0M3001.9 372.0h0M3002.1 422.6h0M3002.3 417.0h0M3002.5 400.4h0M3002.7 465.3h0"/>
<path stroke="#000" d="M3002.9 522.1h0"/>
<path stroke="#f00" d="M3003.2 238.9h0M3003.4 400.1h0M3003.6 382.0h0M3003.8 385.3h0M3004.0 300.4h0M3004.2 420.6h0M3004.5 360.1h0M3004.7 303.7h0M3004.9 352.7h0M3005.1 470.5h0M3005.3 293.5h0M3005.5 430.5h0M3005.8 401.6h0M3006.0 361.3h0M3006.2 317.3h0M3006.4 286.5h0M3006.6 444.4h0M3006.9 438.7h0M3007.1 421.0h0M3007.3 342.5h0M3007.5 416.5h0M3007.7 355.5h0M3007.9 368.5h0M3008.2 468.0h0M3008.4 375.1h0M3008.6 407.0h0M3008.8 302.1h0M3009.0 352.6h0M3009.2 364.7h0M3009.5 475.3h0M3009.7 394.6h0M3009.9 486.2h0M3010.1 274.1h0M3010.3 371.0h0M3010.5 317.7h0M3010.8 347.6h0M3011.0 305.8h0M3011.2 338.8h0M3011.4 410.6h0M3011.6 384.7h0M3011.8 354.1h0M3012.1 334.3h0M3012.3 357.6h0M3012.5 491.2h0M3012.7 405.9h0M3012.9 335.2h0M3013.1 325.8h0M3013.4 346.1h0M3013.6 408.5h0M3013.8 238.9h0M3014.0 422.5h0M3014.2 276.2h0M3014.5 409.5h0M3014.7 343.6h0M3014.9 274.3h0M3015.1 405.4h0M3015.3 418.0h0M3015.5 430.7h0M3015.8 398.4h0M3016.0 392.6h0M3016.2 339.3h0M3016.4 392.6h0M3016.6 284.8h0M3016.8 502.9h0M3017.1 417.9h0M3017.3 423.8h0M3017.5 413.7h0M3017.7 382.5h0M3017.9 309.2h0"/>
<path stroke="#000" d="M3018.1 229.6h0"/>
<path stroke="#f00" d="M3018.4 376.1h0M3018.6 358.2h0M3018.8 342.5h0M3019.0 319.5h0M3019.2 389.1h0M3019.4 364.7h0M3019.7 275.4h0M3019.9 318.3h0M3020.1 306.9h0M3020.3 373.5h0M3020.5 350.5h0M3020.7 335.6h0M3021.0 341.9h0M3021.2 469.6h0M3021.4 313.2h0M3021.6 379.4h0M3021.8 367.6h0M3022.1 486.0h0M3022.3 367.4h0M3022.5 364.5h0M3022.7 367.4h0M3022.9 236.6h0M3023.1 415.6h0M3023.4 370.9h0M3023.6 279.2h0M3023.8 268.8h0M3024.0 467.9h0M3024.2 248.8h0M3024.4 310.6h0M3024.7 337.9h0M3024.9 355.5h0"/>
<path stroke="#000" d="M3025.1 522.8h0"/>
<path stroke="#f00" d="M3025.3 450.8h0M3025.5 364.1h0M3025.7 331.9h0M3026.0 383.1h0M3026.2 440.4h0M3026.4 320.1h0M3026.6 396.3h0M3026.8 389.4h0M3027.0 317.9h0M3027.3 397.0h0M3027.5 470.9h0M3027.7 453.8h0M3027.9 314.7h0M3028.1 353.1h0M3028.3 277.2h0"/>
<path stroke="#000" d="M3028.6 219.2h0"/>
<path stroke="#f00" d="M3028.8 402.9h0M3029.0 407.9h0M3029.2 320.3h0M3029.4 408.3h0M3029.7 443.6h0M3029.9 358.3h0M3030.1 388.3h0M3030.3 345.0h0M3030.5 449.8h0M3030.7 285.8h0M3031.0 406.7h0M3031.2 403.9h0M3031.4 437.8h0M3031.6 375.1h0M3031.8 346.0h0M3032.0 441.8h0M3032.3 349.5h0M3032.5 389.7h0M3032.7 491.4h0M3032.9 495.3h0M3033.1 364.3h0M3033.3 257.0h0M3033.6 403.7h0M3033.8 357.4h0M3034.0 281.4h0M3034.2 299.7h0M3034.4 398.5h0M3034.6 404.9h0M3034.9 289.7h0M3035.1 399.8h0M3035.3 401.9h0M3035.5 285.5h0M3035.7 378.0h0M3035.9 415.1h0M3036.2 248.0h0M3036.4 352.4h0M3036.6 342.7h0M3036.8 357.0h0M3037.0 364.6h0M3037.3 327.9h0M3037.5 383.8h0M3037.7 445.0h0M3037.9 332.2h0M3038.1 239.6h0M3038.3 439.8h0M3038.6 349.0h0M3038.8 308.3h0M3039.0 291.0h0M3039.2 263.5h0M3039.4 345.9h0M3039.6 377.9h0M3039.9 256.9h0M3040.1 432.3h0M3040.3 317.8h0M3040.5 383.6h0M3040.7 286.1h0M3040.9 350.7h0M3041.2 399.7h0M3041.4 350.6h0M3041.6 363.0h0M3041.8 448.7h0M3042.0 498.0h0M3042.2 302.8h0M3042.5 438.0h0M3042.7 340.0h0M3042.9 446.1h0M3043.1 344.4h0M3043.3 349.0h0M3043.5 303.5h0M3043.8 423.7h0M3044.0 354.9h0"/>
<path stroke="#000" d="M3044.2 217.9h0"/>
<path stroke="#f00" d="M3044.4 343.3h0M3044.6 375.0h0M3044.9 296.8h0M3045.1 388.3h0M3045.3 385.2h0M3045.5 320.8h0M3045.7 329.6h0M3045.9 271.1h0M3046.2 359.9h0M3046.4 493.0h0M3046.6 254.3h0M3046.8 332.0h0M3047.0 296.7h0M3047.2 391.4h0M3047.5 414.5h0M3047.7 296.0h0M3047.9 375.8h0M3048.1 383.8h0M3048.3 380.8h0M3048.5 430.1h0M3048.8 337.1h0M3049.0 309.2h0M3049.2 249.7h0M3049.4 398.2h0M3049.6 279.1h0M3049.8 312.8h0M3050.1 351.6h0M3050.3 471.1h0M3050.5 411.3h0M3050.7 429.5h0M3050.9 308.7h0M3051.1 388.0h0M3051.4 376.0h0M3051.6 370.9h0M3051.8 338.8h0M3052.0 315.5h0M3052.2 411.8h0M3052.5 397.3h0M3052.7 386.6h0M3052.9 367.3h0M3053.1 375.1h0M3053.3 310.6h0M3053.5 318.8h0M3053.8 330.8h0M3054.0 389.8h0M3054.2 402.2h0M3054.4 297.6h0M3054.6 471.5h0M3054.8 448.8h0M3055.1 378.9h0M3055.3 391.3h0M3055.5 348.6h0M3055.7 273.1h0M3055.9 376.8h0M3056.1 391.3h0M3056.4 305.9h0M3056.6 392.0h0M3056.8 350.8h0M3057.0 408.4h0M3057.2 335.8h0M3057.4 326.5h0M3057.7 340.3h0M3057.9 374.4h0M3058.1 382.9h0M3058.3 265.0h0M3058.5 310.1h0M3058.7 373.9h0M3059.0 269.2h0"/>
<path stroke="#000" d="M3059.2 521.5h0"/>
<path stroke="#f00" d="M3059.4 413.5h0M3059.6 382.8h0M3059.8 439.6h0"/>
<path stroke="#000" d="M3060.0 509.8h0"/>
<path stroke="#f00" d="M3060.3 426.7h0M3060.5 497.1h0M3060.7 261.0h0M3060.9 454.6h0M3061.1 268.0h0M3061.4 300.6h0M3061.6 287.6h0M3061.8 337.9h0M3062.0 356.5h0M3062.2 417.1h0M3062.4 353.2h0M3062.7 426.7h0M3062.9 334.1h0M3063.1 411.2h0M3063.3 331.9h0M3063.5 378.1h0M3063.7 381.1h0M3064.0 383.1h0M3064.2 266.7h0M3064.4 348.0h0M3064.6 277.3h0M3064.8 317.7h0M3065.0 400.7h0M3065.3 301.7h0M3065.5 374.9h0M3065.7 233.1h0M3065.9 428.2h0M3066.1 335.3h0M3066.3 369.3h0M3066.6 478.0h0M3066.8 325.2h0M3067.0 439.0h0M3067.2 467.8h0M3067.4 351.2h0M3067.6 363.6h0M3067.9 371.2h0M3068.1 402.0h0M3068.3 500.2h0M3068.5 259.3h0M3068.7 282.7h0M3069.0 425.6h0M3069.2 295.5h0M3069.4 413.2h0M3069.6 323.1h0M3069.8 348.7h0M3070.0 353.6h0M3070.3 405.6h0M3070.5 338.4h0M3070.7 349.6h0M3070.9 360.1h0M3071.1 325.4h0M3071.3 440.6h0M3071.6 311.8h0M3071.8 331.3h0M3072.0 401.4h0M3072.2 452.2h0M3072.4 308.4h0M3072.6 247.4h0M3072.9 330.8h0M3073.1 294.6h0M3073.3 331.8h0M3073.5 460.0h0M3073.7 303.1h0M3073.9 418.1h0M3074.2 409.5h0M3074.4 483.0h0M3074.6 432.1h0M3074.8 271.4h0M3075.0 384.3h0M3075.2 349.1h0M3075.5 406.8h0M3075.7 487.4h0M3075.9 449.8h0M3076.1 423.5h0M3076.3 439.3h0M3076.6 368.5h0M3076.8 402.5h0M3077.0 460.5h0M3077.2 302.4h0M3077.4 386.5h0M3077.6 303.4h0M3077.9 236.7h0M3078.1 372.9h0M3078.3 457.0h0M3078.5 331.7h0M3078.7 300.1h0M3078.9 388.0h0M3079.2 339.5h0M3079.4 378.4h0M3079.6 459.5h0M3079.8 463.0h0M3080.0 399.9h0M3080.2 464.8h0M3080.5 419.3h0M3080.7 261.2h0M3080.9 310.7h0M3081.1 458.3h0M3081.3 441.8h0M3081.5 324.1h0M3081.8 443.5h0M3082.0 385.0h0M3082.2 293.5h0M3082.4 375.7h0M3082.6 349.3h0M3082.8 395.1h0M3083.1 434.4h0M3083.3 328.0h0M3083.5 450.3h0M3083.7 397.9h0M3083.9 279.9h0M3084.2 368.7h0M3084.4 362.5h0M3084.6 398.4h0M3084.8 361.6h0M3085.0 473.4h0M3085.2 310.1h0"/>
<path stroke="#000" d="M3085.5 515.6h0"/>
<path stroke="#f00" d="M3085.7 401.4h0M3085.9 373.8h0M3086.1 256.4h0M3086.3 388.4h0M3086.5 325.4h0M3086.8 362.5h0M3087.0 296.2h0M3087.2 323.9h0M3087.4 356.1h0M3087.6 362.5h0M3087.8 372.7h0M3088.1 409.6h0M3088.3 270.3h0M3088.5 283.3h0M3088.7 369.8h0M3088.9 466.8h0M3089.1 300.9h0M3089.4 331.1h0M3089.6 367.6h0M3089.8 343.3h0M3090.0 457.9h0M3090.2 323.8h0M3090.4 256.7h0M3090.7 363.9h0M3090.9 453.5h0M3091.1 293.1h0M3091.3 351.7h0M3091.5 344.2h0M3091.8 418.2h0M3092.0 280.7h0M3092.2 328.2h0M3092.4 276.2h0M3092.6 412.2h0M3092.8 347.5h0M3093.1 404.4h0M3093.3 387.9h0M3093.5 465.4h0M3093.7 370.1h0M3093.9 308.9h0M3094.1 418.3h0M3094.4 447.1h0M3094.6 383.2h0M3094.8 395.7h0M3095.0 300.5h0M3095.2 345.0h0M3095.4 297.6h0M3095.7 424.7h0M3095.9 285.1h0M3096.1 279.1h0M3096.3 431.9h0M3096.5 315.7h0M3096.7 338.9h0M3097.0 383.0h0M3097.2 345.4h0M3097.4 345.1h0M3097.6 306.9h0M3097.8 463.3h0M3098.0 317.0h0M3098.3 363.1h0M3098.5 413.5h0M3098.7 392.1h0M3098.9 372.2h0M3099.1 423.0h0M3099.4 358.6h0M3099.6 352.5h0M3099.8 326.9h0M3100.0 455.1h0M3100.2 357.4h0M3100.4 438.9h0M3100.7 266.5h0M3100.9 403.9h0M3101.1 382.5h0M3101.3 400.6h0M3101.5 303.6h0M3101.7 405.5h0M3102.0 427.9h0M3102.2 367.2h0M3102.4 403.4h0M3102.6 377.0h0M3102.8 405.1h0M3103.0 259.0h0M3103.3 320.1h0M3103.5 477.7h0M3103.7 337.3h0M3103.9 292.7h0M3104.1 325.7h0M3104.3 458.4h0M3104.6 268.0h0M3104.8 474.3h0M3105.0 325.0h0M3105.2 340.3h0M3105.4 388.9h0M3105.6 305.6h0M3105.9 274.3h0M3106.1 274.8h0M3106.3 346.0h0M3106.5 305.7h0M3106.7 380.2h0M3107.0 383.8h0M3107.2 374.4h0M3107.4 384.4h0M3107.6 272.3h0M3107.8 392.0h0M3108.0 363.9h0M3108.3 390.3h0M3108.5 315.1h0M3108.7 405.1h0M3108.9 340.0h0M3109.1 256.7h0M3109.3 466.3h0M3109.6 391.4h0M3109.8 381.5h0M3110.0 382.9h0M3110.2 333.1h0M3110.4 279.6h0M3110.6 378.5h0M3110.9 436.1h0M3111.1 405.8h0M3111.3 369.7h0M3111.5 412.3h0M3111.7 398.5h0M3111.9 343.6h0M3112.2 405.8h0M3112.4 385.1h0M3112.6 357.4h0M3112.8 371.1h0M3113.0 474.2h0M3113.2 412.7h0M3113.5 402.8h0M3113.7 290.2h0M3113.9 328.4h0M3114.1 426.8h0M3114.3 352.0h0M3114.6 393.6h0M3114.8 237.7h0M3115.0 381.0h0M3115.2 296.9h0M3115.4 450.9h0M3115.6 463.9h0M3115.9 372.8h0M3116.1 283.8h0M3116.3 299.1h0M3116.5 301.9h0M3116.7 358.5h0M3116.9 259.3h0M3117.2 396.9h0M3117.4 455.1h0M3117.6 477.3h0M3117.8 359.3h0M3118.0 241.4h0M3118.2 342.8h0M3118.5 378.8h0M3118.7 274.1h0M3118.9 344.3h0M3119.1 430.5h0M3119.3 340.2h0M3119.5 399.4h0M3119.8 381.4h0M3120.0 321.1h0M3120.2 402.8h0M3120.4 484.0h0M3120.6 455.5h0M3120.8 349.0h0M3121.1 487.8h0M3121.3 429.1h0M3121.5 340.7h0M3121.7 357.2h0M3121.9 437.3h0M3122.1 370.9h0M3122.4 290.6h0M3122.6 314.5h0M3122.8 359.6h0M3123.0 423.2h0M3123.2 418.2h0M3123.5 442.3h0M3123.7 380.2h0M3123.9 307.4h0M3124.1 402.0h0M3124.3 349.6h0M3124.5 441.5h0M3124.8 409.8h0M3125.0 371.4h0M3125.2 455.5h0M3125.4 339.4h0M3125.6 327.3h0M3125.8 262.2h0M3126.1 463.8h0M3126.3 486.7h0M3126.5 440.5h0M3126.7 351.3h0M3126.9 317.9h0M3127.1 339.0h0M3127.4 282.8h0M3127.6 345.6h0M3127.8 321.0h0M3128.0 278.5h0M3128.2 327.9h0M3128.4 373.2h0M3128.7 388.6h0M3128.9 361.7h0M3129.1 327.8h0M3129.3 369.4h0M3129.5 367.4h0M3129.7 311.2h0M3130.0 347.2h0M3130.2 339.1h0M3130.4 378.7h0M3130.6 333.4h0M3130.8 371.8h0M3131.1 488.5h0M3131.3 311.2h0M3131.5 382.8h0M3131.7 434.1h0M3131.9 494.7h0M3132.1 353.5h0M3132.4 289.6h0M3132.6 338.2h0M3132.8 364.4h0M3133.0 325.5h0M3133.2 439.6h0M3133.4 301.0h0M3133.7 430.4h0M3133.9 303.1h0M3134.1 400.0h0M3134.3 322.8h0M3134.5 435.8h0M3134.7 336.1h0M3135.0 317.3h0M3135.2 425.6h0M3135.4 416.4h0M3135.6 377.1h0M3135.8 321.5h0M3136.0 307.5h0M3136.3 429.6h0M3136.5 370.4h0M3136.7 372.4h0M3136.9 405.5h0M3137.1 436.3h0M3137.3 353.6h0M3137.6 391.8h0M3137.8 401.5h0M3138.0 302.9h0M3138.2 361.3h0M3138.4 469.4h0M3138.7 354.7h0M3138.9 286.6h0M3139.1 402.4h0M3139.3 414.0h0M3139.5 391.8h0M3139.7 370.6h0M3140.0 335.8h0M3140.2 286.6h0M3140.4 417.6h0M3140.6 375.6h0M3140.8 451.5h0M3141.0 402.3h0M3141.3 295.5h0M3141.5 424.7h0M3141.7 459.0h0M3141.9 299.2h0M3142.1 341.6h0M3142.3 321.3h0M3142.6 286.8h0M3142.8 395.6h0M3143.0 261.0h0M3143.2 401.5h0M3143.4 400.7h0M3143.6 301.2h0M3143.9 373.5h0M3144.1 318.5h0M3144.3 353.0h0M3144.5 343.0h0M3144.7 285.0h0M3144.9 304.0h0M3145.2 400.0h0M3145.4 352.4h0M3145.6 360.5h0M3145.8 293.9h0M3146.0 245.8h0M3146.3 468.8h0M3146.5 301.4h0M3146.7 327.9h0M3146.9 438.6h0M3147.1 379.4h0M3147.3 400.8h0M3147.6 294.7h0M3147.8 313.9h0M3148.0 318.6h0M3148.2 359.1h0M3148.4 410.3h0M3148.6 324.8h0M3148.9 444.2h0M3149.1 388.0h0M3149.3 332.0h0M3149.5 378.8h0M3149.7 460.7h0M3149.9 280.8h0M3150.2 418.1h0M3150.4 392.8h0M3150.6 292.9h0M3150.8 377.9h0M3151.0 363.4h0M3151.2 374.3h0M3151.5 404.9h0M3151.7 328.5h0M3151.9 386.1h0M3152.1 329.4h0M3152.3 408.7h0M3152.5 286.6h0M3152.8 431.1h0M3153.0 436.0h0M3153.2 329.3h0M3153.4 386.6h0M3153.6 339.6h0M3153.9 328.5h0M3154.1 328.6h0M3154.3 333.7h0M3154.5 415.1h0M3154.7 340.2h0M3154.9 331.0h0M3155.2 401.6h0M3155.4 336.2h0M3155.6 416.5h0"/>
<path stroke="#000" d="M3155.8 541.4h0"/>
<path stroke="#f00" d="M3155.8 468.1h0M3156.0 401.3h0M3156.2 341.0h0M3156.5 457.9h0M3156.7 351.9h0M3156.9 339.2h0M3157.1 344.5h0M3157.3 379.2h0M3157.5 438.6h0M3157.8 302.8h0M3158.0 299.1h0M3158.2 417.8h0M3158.4 391.8h0M3158.6 300.5h0M3158.8 398.0h0M3159.1 399.8h0M3159.3 432.2h0M3159.5 332.6h0M3159.7 347.2h0M3159.9 362.4h0M3160.1 301.1h0M3160.4 386.8h0M3160.6 349.2h0M3160.8 289.9h0M3161.0 259.1h0M3161.2 367.8h0M3161.5 300.7h0M3161.7 309.4h0M3161.9 363.7h0M3162.1 348.6h0M3162.3 352.2h0M3162.5 377.2h0M3162.8 383.9h0M3163.0 284.5h0M3163.2 348.5h0M3163.4 342.3h0M3163.6 419.1h0M3163.8 388.7h0M3164.1 324.0h0M3164.3 374.5h0M3164.5 447.5h0M3164.7 460.5h0M3164.9 492.6h0M3165.1 373.6h0M3165.4 374.9h0M3165.6 388.2h0M3165.8 253.6h0M3166.0 412.8h0"/>
<path stroke="#000" d="M3166.2 229.2h0"/>
<path stroke="#f00" d="M3166.4 340.5h0M3166.7 373.8h0M3166.9 315.2h0"/>
<path stroke="#000" d="M3167.1 228.2h0"/>
<path stroke="#f00" d="M3167.3 448.3h0M3167.5 433.2h0M3167.7 340.2h0M3168.0 392.9h0M3168.2 361.4h0M3168.4 332.6h0M3168.6 347.1h0M3168.8 400.3h0M3169.1 446.6h0M3169.3 322.2h0M3169.5 423.9h0M3169.7 345.6h0M3169.9 307.6h0M3170.1 500.8h0M3170.4 379.5h0M3170.6 436.1h0M3170.8 463.5h0M3171.0 328.8h0M3171.2 301.5h0M3171.4 322.3h0M3171.7 263.2h0M3171.9 408.1h0M3172.1 280.7h0M3172.3 342.6h0M3172.5 482.3h0M3172.7 335.4h0M3173.0 391.7h0M3173.2 418.4h0M3173.4 441.0h0M3173.6 305.4h0M3173.8 291.1h0M3174.0 338.4h0M3174.3 354.4h0M3174.5 337.5h0M3174.7 410.6h0M3174.9 357.3h0M3175.1 401.4h0M3175.3 406.7h0M3175.6 340.8h0M3175.8 369.7h0M3176.0 274.1h0M3176.2 435.5h0M3176.4 391.9h0M3176.7 255.8h0M3176.9 394.9h0M3177.1 359.0h0M3177.3 366.6h0M3177.5 336.5h0M3177.7 371.8h0M3178.0 344.5h0M3178.2 449.6h0M3178.4 432.1h0M3178.6 324.7h0M3178.8 415.1h0M3179.0 347.5h0M3179.3 459.3h0M3179.5 428.1h0M3179.7 432.2h0M3179.9 309.0h0M3180.1 339.0h0M3180.3 441.5h0M3180.6 339.2h0M3180.8 329.1h0M3181.0 365.3h0M3181.2 385.3h0M3181.4 359.0h0M3181.6 316.0h0M3181.9 431.0h0M3182.1 342.8h0M3182.3 427.1h0M3182.5 286.5h0M3182.7 393.1h0M3182.9 341.8h0M3183.2 292.4h0M3183.4 352.3h0M3183.6 369.8h0M3183.8 335.7h0M3184.0 390.0h0M3184.3 351.4h0M3184.5 399.9h0M3184.7 403.5h0M3184.9 448.1h0M3185.1 272.5h0M3185.3 408.1h0M3185.6 458.4h0M3185.8 417.5h0M3186.0 298.2h0M3186.2 299.4h0M3186.4 397.7h0M3186.6 283.1h0M3186.9 371.1h0M3187.1 406.8h0M3187.3 410.8h0M3187.5 317.6h0M3187.7 374.2h0M3187.9 392.9h0M3188.2 440.1h0M3188.4 387.5h0M3188.6 282.9h0M3188.8 355.2h0M3189.0 360.1h0M3189.2 348.0h0M3189.5 400.3h0M3189.7 424.8h0M3189.9 298.6h0M3190.1 492.6h0M3190.3 458.7h0M3190.5 373.5h0M3190.8 377.7h0M3191.0 310.7h0M3191.2 355.4h0M3191.4 354.3h0M3191.6 370.7h0M3191.8 420.5h0M3192.1 347.3h0M3192.3 369.0h0M3192.5 399.8h0M3192.7 397.6h0M3192.9 268.2h0M3193.2 374.7h0M3193.4 244.4h0M3193.6 308.9h0M3193.8 368.3h0M3194.0 364.7h0M3194.2 310.6h0M3194.5 394.3h0M3194.7 320.4h0M3194.9 318.4h0M3195.1 355.6h0M3195.3 321.2h0M3195.5 353.3h0M3195.8 387.6h0M3196.0 306.3h0M3196.2 381.3h0M3196.4 324.4h0M3196.6 342.7h0M3196.8 393.0h0M3197.1 295.4h0M3197.3 357.3h0M3197.5 285.5h0M3197.7 344.8h0M3197.9 306.6h0M3198.1 341.9h0M3198.4 486.3h0M3198.6 475.6h0M3198.8 419.6h0M3199.0 349.8h0M3199.2 406.3h0M3199.4 393.8h0M3199.7 299.6h0M3199.9 437.5h0M3200.1 392.9h0M3200.3 415.9h0M3200.5 373.5h0M3200.8 332.5h0M3201.0 355.5h0M3201.2 375.7h0M3201.4 344.3h0M3201.6 466.4h0M3201.8 337.1h0M3202.1 391.2h0M3202.3 402.7h0M3202.5 343.8h0M3202.7 363.2h0M3202.9 420.0h0M3203.1 258.5h0M3203.4 363.0h0M3203.6 484.4h0M3203.8 345.2h0M3204.0 348.3h0M3204.2 287.6h0M3204.4 402.5h0M3204.7 315.6h0M3204.9 408.0h0M3205.1 331.3h0M3205.3 320.3h0M3205.5 404.4h0M3205.7 334.2h0M3206.0 494.7h0M3206.2 327.8h0M3206.4 378.8h0M3206.6 310.7h0M3206.8 361.3h0M3207.0 298.1h0M3207.3 336.6h0M3207.5 321.4h0M3207.7 409.4h0M3207.9 347.9h0M3208.1 320.2h0M3208.4 268.8h0M3208.6 386.8h0M3208.8 413.9h0M3209.0 376.2h0M3209.2 358.5h0M3209.4 400.2h0M3209.7 394.6h0M3209.9 339.1h0M3210.1 405.6h0M3210.3 307.0h0M3210.5 425.3h0M3210.7 357.1h0M3211.0 350.2h0M3211.2 383.9h0M3211.4 236.6h0M3211.6 291.8h0M3211.8 374.5h0M3212.0 299.7h0M3212.3 320.4h0M3212.5 300.9h0M3212.7 464.7h0M3212.9 399.3h0M3213.1 417.8h0M3213.3 399.3h0M3213.6 370.9h0M3213.8 483.0h0M3214.0 429.6h0M3214.2 400.8h0M3214.4 386.4h0M3214.6 422.8h0M3214.9 423.5h0M3215.1 295.3h0M3215.3 323.7h0M3215.5 349.8h0M3215.7 362.3h0M3216.0 376.6h0M3216.2 359.8h0M3216.4 284.7h0M3216.6 260.7h0M3216.8 362.1h0M3217.0 386.9h0M3217.3 391.3h0M3217.5 360.0h0M3217.7 355.7h0M3217.9 283.0h0M3218.1 428.9h0M3218.3 373.2h0M3218.6 396.1h0M3218.8 344.5h0M3219.0 410.2h0M3219.2 336.9h0M3219.4 380.3h0M3219.6 457.4h0M3219.9 333.7h0M3220.1 327.0h0M3220.3 375.5h0M3220.5 389.1h0M3220.7 321.3h0M3220.9 389.9h0M3221.2 422.5h0M3221.4 374.0h0M3221.6 347.1h0M3221.8 395.3h0M3222.0 367.8h0M3222.2 394.6h0M3222.5 354.4h0M3222.7 354.1h0M3222.9 378.5h0M3223.1 406.6h0M3223.3 317.5h0M3223.6 356.3h0M3223.8 285.8h0M3224.0 362.4h0M3224.2 478.2h0M3224.4 437.1h0M3224.6 395.5h0M3224.9 344.6h0M3225.1 408.9h0M3225.3 313.9h0M3225.5 454.8h0M3225.7 281.3h0M3225.9 411.6h0M3226.2 359.7h0M3226.4 341.4h0M3226.6 296.4h0M3226.8 409.4h0M3227.0 280.1h0M3227.2 402.3h0M3227.5 429.3h0M3227.7 443.9h0M3227.9 333.7h0M3228.1 411.7h0M3228.3 304.4h0M3228.5 424.8h0M3228.8 356.9h0M3229.0 434.9h0M3229.2 413.7h0M3229.4 333.7h0M3229.6 342.3h0M3229.8 359.2h0M3230.1 307.8h0M3230.3 427.8h0M3230.5 439.8h0M3230.7 375.3h0M3230.9 349.0h0M3231.2 416.3h0M3231.4 434.1h0M3231.6 312.5h0M3231.8 444.4h0M3232.0 302.8h0M3232.2 293.9h0M3232.5 377.9h0M3232.7 410.0h0M3232.9 367.4h0M3233.1 349.2h0M3233.3 306.8h0M3233.5 435.6h0M3233.8 357.8h0M3234.0 377.4h0M3234.2 349.0h0M3234.4 368.5h0M3234.6 314.2h0M3234.8 366.5h0M3235.1 483.0h0M3235.3 437.2h0M3235.5 406.2h0M3235.7 316.1h0M3235.9 390.8h0M3236.1 348.8h0M3236.4 398.2h0M3236.6 307.0h0M3236.8 356.5h0M3237.0 409.6h0M3237.2 371.1h0M3237.4 339.8h0M3237.7 377.5h0M3237.9 364.9h0M3238.1 465.8h0M3238.3 420.0h0M3238.5 443.5h0M3238.8 431.6h0M3239.0 322.6h0M3239.2 417.9h0M3239.4 367.5h0M3239.6 299.8h0M3239.8 406.6h0M3240.1 262.2h0M3240.3 457.5h0M3240.5 369.2h0M3240.7 368.9h0M3240.9 440.9h0M3241.1 353.9h0M3241.4 338.2h0M3241.6 330.8h0M3241.8 358.6h0M3242.0 404.9h0M3242.2 372.3h0M3242.4 401.7h0M3242.7 417.2h0M3242.9 462.5h0M3243.1 363.3h0M3243.3 289.5h0M3243.5 405.0h0M3243.7 434.9h0M3244.0 329.3h0M3244.2 421.1h0M3244.4 387.6h0M3244.6 337.8h0M3244.8 431.5h0M3245.0 352.8h0M3245.3 375.3h0M3245.5 343.6h0M3245.7 381.3h0M3245.9 365.8h0M3246.1 312.6h0M3246.4 306.7h0M3246.6 350.6h0M3246.8 337.9h0M3247.0 416.2h0M3247.2 349.0h0M3247.4 377.2h0M3247.7 298.0h0M3247.9 340.2h0M3248.1 239.0h0M3248.3 319.2h0M3248.5 375.4h0M3248.7 489.8h0M3249.0 337.1h0M3249.2 398.7h0M3249.4 395.5h0M3249.6 346.4h0M3249.8 422.4h0M3250.0 375.3h0M3250.3 273.4h0M3250.5 301.5h0M3250.7 315.8h0M3250.9 441.8h0M3251.1 356.6h0M3251.3 396.4h0M3251.6 453.8h0M3251.8 312.5h0M3252.0 365.4h0M3252.2 295.1h0M3252.4 280.8h0M3252.6 337.2h0M3252.9 390.5h0M3253.1 370.4h0M3253.3 379.4h0M3253.5 409.3h0M3253.7 343.5h0M3253.9 327.5h0M3254.2 287.0h0M3254.4 358.8h0M3254.6 370.5h0M3254.8 356.9h0M3255.0 332.5h0M3255.3 426.1h0M3255.5 286.6h0M3255.7 305.1h0M3255.9 378.0h0M3256.1 381.3h0M3256.3 378.5h0M3256.6 362.1h0M3256.8 396.2h0M3257.0 401.0h0M3257.2 308.4h0M3257.4 353.4h0M3257.6 347.7h0M3257.9 375.8h0M3258.1 297.9h0M3258.3 300.2h0M3258.5 357.5h0M3258.7 333.1h0M3258.9 367.7h0M3259.2 378.8h0M3259.4 363.1h0M3259.6 434.2h0M3259.8 325.4h0M3260.0 393.9h0M3260.2 339.9h0M3260.5 393.0h0M3260.7 357.7h0M3260.9 485.3h0M3261.1 428.3h0M3261.3 391.6h0M3261.5 441.9h0M3261.8 297.8h0M3262.0 290.4h0M3262.2 434.5h0M3262.4 351.1h0M3262.6 339.0h0M3262.9 331.6h0M3263.1 313.2h0M3263.3 344.0h0M3263.5 336.2h0M3263.7 376.2h0M3263.9 380.0h0M3264.2 385.1h0M3264.4 337.4h0M3264.6 369.2h0M3264.8 303.5h0M3265.0 410.3h0M3265.2 329.6h0M3265.5 398.8h0M3265.7 363.0h0M3265.9 277.5h0M3266.1 329.8h0M3266.3 398.9h0M3266.5 344.7h0M3266.8 333.4h0M3267.0 346.6h0M3267.2 453.8h0M3267.4 330.5h0M3267.6 339.2h0M3267.8 341.8h0M3268.1 365.9h0M3268.3 448.0h0M3268.5 389.1h0M3268.7 388.6h0M3268.9 273.9h0M3269.1 331.0h0M3269.4 321.3h0M3269.6 328.0h0M3269.8 415.3h0M3270.0 385.8h0M3270.2 336.1h0M3270.5 435.3h0M3270.7 351.5h0M3270.9 358.6h0M3271.1 409.5h0M3271.3 347.7h0M3271.5 358.0h0M3271.8 404.2h0M3272.0 367.5h0M3272.2 302.7h0M3272.4 475.3h0M3272.6 359.5h0M3272.8 382.1h0M3273.1 265.5h0M3273.3 344.8h0M3273.5 416.4h0M3273.7 438.7h0M3273.9 359.4h0M3274.1 356.7h0M3274.4 316.1h0M3274.6 356.1h0M3274.8 343.3h0M3275.0 340.8h0M3275.2 300.8h0M3275.4 369.2h0M3275.7 423.1h0M3275.9 366.2h0M3276.1 421.5h0M3276.3 392.5h0M3276.5 417.4h0M3276.7 381.7h0M3277.0 355.4h0M3277.2 320.3h0M3277.4 465.5h0M3277.6 335.2h0M3277.8 402.9h0M3278.1 366.8h0M3278.3 380.9h0M3278.5 402.8h0M3278.7 406.6h0M3278.9 333.7h0M3279.1 339.2h0M3279.4 374.8h0M3279.6 301.0h0M3279.8 396.7h0M3280.0 296.6h0M3280.2 385.7h0M3280.4 409.7h0M3280.7 395.2h0M3280.9 354.6h0M3281.1 340.9h0M3281.3 322.5h0M3281.5 370.5h0M3281.7 367.2h0M3282.0 378.1h0M3282.2 400.3h0M3282.4 344.7h0M3282.6 361.0h0M3282.8 374.9h0M3283.0 304.5h0M3283.3 321.9h0M3283.5 379.2h0M3283.7 329.4h0M3283.9 346.9h0M3284.1 326.2h0M3284.3 295.7h0M3284.6 357.3h0M3284.8 381.4h0M3285.0 386.9h0M3285.2 345.9h0M3285.4 354.3h0M3285.7 424.1h0M3285.9 422.3h0M3286.1 371.6h0M3286.3 362.8h0M3286.5 339.2h0M3286.7 406.6h0M3287.0 295.8h0M3287.2 365.3h0M3287.4 365.5h0M3287.6 401.3h0M3287.8 348.4h0M3288.0 310.6h0M3288.3 345.9h0M3288.5 353.8h0M3288.7 305.6h0M3288.9 366.7h0M3289.1 397.7h0M3289.3 467.5h0M3289.6 391.3h0M3289.8 423.9h0M3290.0 283.5h0M3290.2 373.0h0M3290.4 403.8h0M3290.6 426.3h0M3290.9 351.2h0M3291.1 288.3h0M3291.3 396.1h0M3291.5 333.7h0M3291.7 403.2h0M3291.9 435.2h0M3292.2 312.7h0M3292.4 397.5h0M3292.6 394.8h0M3292.8 384.0h0M3293.0 398.7h0M3293.3 327.9h0M3293.5 255.3h0M3293.7 337.9h0M3293.9 368.2h0M3294.1 424.2h0M3294.3 373.8h0M3294.6 298.9h0M3294.8 370.9h0M3295.0 289.1h0M3295.2 345.2h0M3295.4 448.4h0M3295.6 376.1h0M3295.9 394.5h0M3296.1 399.1h0M3296.3 391.4h0M3296.5 368.2h0M3296.7 333.0h0M3296.9 419.4h0M3297.2 388.8h0M3297.4 379.9h0M3297.6 413.5h0M3297.8 350.7h0M3298.0 322.0h0M3298.2 475.3h0M3298.5 353.3h0M3298.7 387.8h0M3298.9 245.7h0M3299.1 337.7h0M3299.3 372.7h0M3299.5 378.3h0M3299.8 377.1h0M3300.0 403.2h0M3300.2 395.9h0M3300.4 361.2h0M3300.6 445.2h0M3300.9 372.8h0M3301.1 361.1h0M3301.3 319.0h0M3301.5 398.5h0M3301.7 384.9h0M3301.9 399.0h0M3302.2 400.2h0M3302.4 379.6h0M3302.6 426.6h0M3302.8 336.5h0M3303.0 392.9h0M3303.2 321.8h0M3303.5 400.6h0M3303.7 345.8h0M3303.9 396.5h0M3304.1 344.6h0M3304.3 334.6h0M3304.5 370.3h0M3304.8 421.7h0M3305.0 369.4h0M3305.2 464.1h0M3305.4 344.5h0M3305.6 441.9h0M3305.8 383.7h0M3306.1 418.3h0M3306.3 443.0h0M3306.5 347.5h0M3306.7 394.2h0M3306.9 308.3h0M3307.1 390.1h0M3307.4 286.0h0M3307.6 387.4h0M3307.8 393.1h0M3308.0 424.5h0M3308.2 322.2h0M3308.5 348.4h0M3308.7 336.6h0M3308.9 413.9h0M3309.1 391.6h0M3309.3 321.3h0M3309.5 309.9h0M3309.8 456.8h0M3310.0 320.7h0M3310.2 374.7h0M3310.4 317.4h0M3310.6 423.7h0M3310.8 418.3h0M3311.1 330.8h0M3311.3 371.7h0M3311.5 373.6h0M3311.7 421.7h0M3311.9 419.9h0M3312.1 466.1h0M3312.4 317.0h0M3312.6 378.3h0M3312.8 437.3h0M3313.0 360.9h0M3313.2 381.3h0M3313.4 445.8h0M3313.7 415.1h0M3313.9 472.4h0M3314.1 376.4h0M3314.3 472.9h0M3314.5 406.1h0M3314.7 416.9h0M3315.0 385.1h0M3315.2 323.0h0M3315.4 412.4h0M3315.6 286.3h0M3315.8 356.1h0M3316.0 373.4h0M3316.3 369.2h0M3316.5 289.9h0M3316.7 364.1h0M3316.9 463.3h0M3317.1 453.6h0M3317.4 315.9h0M3317.6 407.5h0M3317.8 420.1h0M3318.0 362.0h0M3318.2 362.6h0M3318.4 360.1h0M3318.7 488.4h0M3318.9 476.3h0M3319.1 389.9h0M3319.3 267.5h0M3319.5 299.1h0M3319.7 388.6h0M3320.0 364.2h0M3320.2 343.6h0M3320.4 330.2h0M3320.6 364.7h0M3320.8 364.7h0M3321.0 472.1h0M3321.3 403.2h0M3321.5 389.7h0M3321.7 306.9h0M3321.9 294.9h0M3322.1 356.7h0M3322.3 309.0h0M3322.6 462.5h0M3322.8 445.0h0M3323.0 356.4h0M3323.2 324.0h0M3323.4 383.9h0M3323.6 373.7h0M3323.9 420.6h0M3324.1 386.3h0M3324.3 304.3h0M3324.5 320.2h0M3324.7 397.6h0M3325.0 398.8h0M3325.2 334.4h0M3325.4 450.6h0M3325.6 349.6h0M3325.8 352.2h0M3326.0 438.7h0M3326.3 377.6h0M3326.5 309.6h0M3326.7 340.6h0M3326.9 393.8h0M3327.1 303.2h0M3327.3 459.1h0M3327.6 342.4h0M3327.8 383.8h0M3328.0 354.0h0M3328.2 405.8h0M3328.4 317.2h0M3328.6 447.8h0M3328.9 387.1h0M3329.1 326.7h0M3329.3 392.8h0M3329.5 381.1h0M3329.7 331.6h0M3329.9 410.1h0M3330.2 408.0h0M3330.4 403.9h0M3330.6 327.1h0M3330.8 386.3h0M3331.0 342.2h0M3331.2 318.5h0M3331.5 296.1h0M3331.7 427.4h0M3331.9 263.9h0M3332.1 372.0h0M3332.3 263.1h0M3332.6 394.3h0M3332.8 362.2h0M3333.0 366.1h0M3333.2 414.7h0M3333.4 409.7h0M3333.6 368.3h0M3333.9 342.9h0M3334.1 333.9h0M3334.3 380.9h0M3334.5 411.0h0M3334.7 433.1h0M3334.9 394.8h0M3335.2 379.2h0M3335.4 334.8h0M3335.6 441.6h0M3335.8 321.6h0M3336.0 325.3h0M3336.2 409.2h0M3336.5 339.3h0M3336.7 270.7h0M3336.9 303.3h0M3337.1 321.4h0M3337.3 352.6h0M3337.5 344.5h0M3337.8 374.6h0M3338.0 387.2h0M3338.2 373.6h0M3338.4 361.7h0M3338.6 352.5h0M3338.8 379.7h0M3339.1 412.8h0M3339.3 343.5h0M3339.5 353.3h0M3339.7 331.0h0M3339.9 349.8h0M3340.2 425.9h0M3340.4 421.4h0M3340.6 337.2h0M3340.8 390.2h0M3341.0 384.0h0M3341.2 413.8h0M3341.5 307.8h0M3341.7 400.9h0M3341.9 378.2h0M3342.1 437.5h0M3342.3 411.2h0M3342.5 320.8h0M3342.8 368.7h0M3343.0 416.1h0M3343.2 401.8h0M3343.4 382.8h0M3343.6 417.1h0M3343.8 349.4h0M3344.1 340.9h0M3344.3 356.6h0M3344.5 427.3h0M3344.7 304.9h0M3344.9 326.2h0M3345.1 389.0h0M3345.4 328.3h0M3345.6 364.3h0M3345.8 332.0h0M3346.0 352.8h0M3346.2 387.6h0M3346.4 384.7h0M3346.7 319.8h0M3346.9 376.8h0M3347.1 302.9h0M3347.3 345.8h0M3347.5 364.8h0M3347.8 418.7h0M3348.0 361.7h0M3348.2 349.8h0M3348.4 417.1h0M3348.6 429.7h0M3348.8 410.3h0M3349.1 315.2h0M3349.3 412.4h0M3349.5 329.5h0M3349.7 429.7h0M3349.9 361.2h0M3350.1 374.7h0M3350.4 303.2h0M3350.6 321.8h0M3350.8 425.0h0M3351.0 430.5h0M3351.2 380.1h0M3351.4 413.1h0M3351.7 402.9h0M3351.9 340.6h0M3352.1 408.6h0M3352.3 337.2h0M3352.5 441.1h0M3352.7 421.3h0M3353.0 368.4h0M3353.2 375.1h0M3353.4 346.2h0M3353.6 359.4h0M3353.8 331.7h0M3354.0 347.1h0M3354.3 370.9h0M3354.5 318.1h0M3354.7 271.4h0M3354.9 430.9h0M3355.1 308.2h0M3355.4 385.7h0M3355.6 461.0h0M3355.8 328.6h0M3356.0 372.2h0M3356.2 423.7h0M3356.4 333.4h0M3356.7 386.5h0M3356.9 368.4h0M3357.1 323.0h0M3357.3 400.0h0M3357.5 342.5h0M3357.7 476.8h0M3358.0 337.9h0M3358.2 306.6h0M3358.4 428.1h0M3358.6 415.4h0M3358.8 368.4h0M3359.0 331.1h0M3359.3 408.5h0M3359.5 372.0h0M3359.7 362.6h0M3359.9 404.1h0M3360.1 335.2h0M3360.3 386.8h0M3360.6 351.0h0M3360.8 413.9h0M3361.0 279.8h0M3361.2 370.1h0M3361.4 343.8h0M3361.6 374.7h0M3361.9 447.9h0M3362.1 364.1h0M3362.3 339.7h0M3362.5 360.4h0M3362.7 388.0h0M3363.0 370.0h0M3363.2 395.6h0M3363.4 327.3h0M3363.6 358.4h0M3363.8 385.5h0M3364.0 416.6h0M3364.3 420.4h0M3364.5 400.2h0M3364.7 416.5h0M3364.9 447.7h0M3365.1 335.1h0M3365.3 300.1h0M3365.6 326.7h0M3365.8 335.2h0M3366.0 383.1h0M3366.2 391.6h0M3366.4 324.6h0M3366.6 374.0h0M3366.9 326.1h0M3367.1 436.8h0M3367.3 402.7h0M3367.5 372.7h0M3367.7 427.8h0M3367.9 363.9h0M3368.2 391.4h0M3368.4 431.2h0M3368.6 355.2h0M3368.8 308.5h0M3369.0 377.6h0M3369.2 338.8h0M3369.5 427.0h0M3369.7 407.1h0M3369.9 307.4h0M3370.1 338.2h0M3370.3 379.6h0M3370.6 358.3h0M3370.8 394.0h0M3371.0 357.5h0M3371.2 421.0h0M3371.4 370.3h0M3371.6 320.1h0M3371.9 414.5h0M3372.1 381.3h0M3372.3 366.3h0M3372.5 348.4h0M3372.7 373.2h0M3372.9 411.5h0M3373.2 374.6h0M3373.4 367.3h0M3373.6 418.5h0M3373.8 341.3h0M3374.0 420.5h0M3374.2 359.8h0M3374.5 405.1h0M3374.7 443.7h0M3374.9 337.7h0M3375.1 445.8h0M3375.3 405.8h0M3375.5 366.4h0M3375.8 330.5h0M3376.0 383.7h0M3376.2 320.1h0M3376.4 364.7h0M3376.6 380.0h0M3376.8 349.4h0M3377.1 420.8h0M3377.3 335.0h0M3377.5 316.1h0M3377.7 315.2h0M3377.9 415.0h0M3378.2 424.5h0M3378.4 349.3h0M3378.6 356.0h0M3378.8 368.7h0M3379.0 358.3h0M3379.2 360.6h0M3379.5 404.4h0M3379.7 313.0h0M3379.9 361.9h0M3380.1 343.7h0M3380.3 303.6h0M3380.5 340.4h0M3380.8 482.8h0M3381.0 359.7h0M3381.2 322.4h0M3381.4 346.5h0M3381.6 403.3h0M3381.8 329.6h0M3382.1 291.7h0M3382.3 356.6h0M3382.5 285.5h0M3382.7 324.6h0M3382.9 392.9h0M3383.1 399.9h0M3383.4 404.1h0M3383.6 325.6h0M3383.8 390.3h0M3384.0 355.5h0M3384.2 383.2h0M3384.4 366.8h0M3384.7 332.5h0M3384.9 356.5h0M3385.1 372.2h0M3385.3 394.7h0M3385.5 431.8h0M3385.7 405.2h0M3386.0 370.7h0M3386.2 286.1h0M3386.4 353.5h0M3386.6 410.5h0M3386.8 309.5h0M3387.1 374.0h0M3387.3 374.0h0M3387.5 328.3h0M3387.7 327.5h0M3387.9 317.0h0M3388.1 333.1h0M3388.4 315.6h0M3388.6 319.6h0M3388.8 333.7h0M3389.0 379.4h0M3389.2 319.4h0M3389.4 401.7h0M3389.7 314.3h0M3389.9 398.3h0M3390.1 425.6h0M3390.3 340.2h0M3390.5 337.1h0M3390.7 393.2h0M3391.0 395.2h0M3391.2 408.9h0M3391.4 320.6h0M3391.6 369.1h0M3391.8 352.8h0M3392.0 362.0h0M3392.3 367.6h0M3392.5 376.7h0M3392.7 386.3h0M3392.9 366.9h0M3393.1 353.3h0M3393.3 372.6h0M3393.6 338.7h0M3393.8 317.1h0M3394.0 356.4h0M3394.2 415.9h0M3394.4 336.5h0M3394.7 361.7h0M3394.9 377.2h0M3395.1 359.7h0M3395.3 346.6h0M3395.5 295.7h0M3395.7 377.5h0M3396.0 395.2h0M3396.2 304.6h0M3396.4 356.1h0M3396.6 342.8h0M3396.8 392.3h0M3397.0 381.8h0M3397.3 317.8h0M3397.5 385.9h0M3397.7 348.0h0M3397.9 391.9h0M3398.1 335.4h0M3398.3 450.9h0M3398.6 390.2h0M3398.8 347.5h0M3399.0 373.2h0M3399.2 390.9h0M3399.4 359.6h0M3399.6 371.8h0M3399.9 344.4h0M3400.1 383.9h0M3400.3 349.2h0M3400.5 372.8h0M3400.7 377.3h0M3400.9 343.0h0M3401.2 463.8h0M3401.4 410.6h0M3401.6 393.4h0M3401.8 361.2h0M3402.0 372.4h0M3402.3 372.0h0M3402.5 275.3h0M3402.7 344.5h0M3402.9 372.5h0M3403.1 391.4h0M3403.3 430.3h0M3403.6 291.2h0M3403.8 436.4h0M3404.0 445.1h0M3404.2 406.5h0M3404.4 379.5h0M3404.6 287.5h0M3404.9 454.7h0M3405.1 354.1h0M3405.3 334.7h0M3405.5 365.1h0M3405.7 393.6h0M3405.9 356.1h0M3406.2 354.9h0M3406.4 361.4h0M3406.6 337.3h0M3406.8 316.6h0M3407.0 368.5h0M3407.2 414.2h0M3407.5 376.2h0M3407.7 385.2h0M3407.9 440.6h0M3408.1 427.6h0M3408.3 345.7h0M3408.5 291.7h0M3408.8 375.1h0M3409.0 376.4h0M3409.2 414.2h0M3409.4 328.8h0M3409.6 365.2h0M3409.9 376.6h0M3410.1 356.9h0M3410.3 363.3h0M3410.5 375.3h0M3410.7 322.5h0M3410.9 394.9h0M3411.2 399.7h0M3411.4 372.1h0M3411.6 368.7h0M3411.8 370.1h0M3412.0 342.0h0M3412.2 363.9h0M3412.5 354.1h0M3412.7 340.7h0M3412.9 406.0h0"/>
</g>
<text y="713.1"><tspan x="398.3" textLength="87.2" lengthAdjust="spacingAndGlyphs">0.2</tspan></text>
<text y="566.7"><tspan x="396.3" textLength="86.1" lengthAdjust="spacingAndGlyphs">0.4</tspan></text>
<text y="420.3"><tspan x="396.3" textLength="87.1" lengthAdjust="spacingAndGlyphs">0.6</tspan></text>
<text y="273.9"><tspan x="396.4" textLength="88.1" lengthAdjust="spacingAndGlyphs">0.8</tspan></text>
<text y="127.5"><tspan x="397.1" textLength="87.4" lengthAdjust="spacingAndGlyphs">1.0</tspan></text>
<text y="936.3"><tspan x="512.7" textLength="35.8" lengthAdjust="spacingAndGlyphs">0</tspan></text>
<text y="936.3"><tspan x="666.8" textLength="87.2" lengthAdjust="spacingAndGlyphs">0.2</tspan></text>
<text y="936.3"><tspan x="845.3" textLength="86.1" lengthAdjust="spacingAndGlyphs">0.4</tspan></text>
<text y="936.3"><tspan x="1024.8" textLength="87.1" lengthAdjust="spacingAndGlyphs">0.6</tspan></text>
<text y="936.3"><tspan x="1204.4" textLength="88.1" lengthAdjust="spacingAndGlyphs">0.8</tspan></text>
<text y="936.3"><tspan x="1382.7" textLength="87.4" lengthAdjust="spacingAndGlyphs">1.0</tspan></text>
<text y="1040.0"><tspan x="720.5" class="c" textLength="266.9" lengthAdjust="spacing">汉明距离</tspan><tspan x="992.5" class="p" textLength="21.1" lengthAdjust="spacingAndGlyphs">(</tspan><tspan x="1018.2" class="c" textLength="199.6" lengthAdjust="spacing">归一化</tspan><tspan x="1219.8" class="p" textLength="20.8" lengthAdjust="spacingAndGlyphs">)</tspan></text>
<text y="1156.5"><tspan x="727.6" class="p" textLength="21.1" lengthAdjust="spacingAndGlyphs">(</tspan><tspan x="750.0" textLength="33.2" lengthAdjust="spacingAndGlyphs">a</tspan><tspan x="787.6" class="p" textLength="20.1" lengthAdjust="spacingAndGlyphs">)</tspan><tspan x="808.0"> </tspan><tspan x="835.3" class="c" textLength="403.9" lengthAdjust="spacing">片间汉明距离</tspan></text>
<text y="0.0" transform="translate(347 629) rotate(-90)"><tspan x="-2.0" class="c" textLength="131.5" lengthAdjust="spacing">数量</tspan><tspan x="135.4" class="p" textLength="20.7" lengthAdjust="spacingAndGlyphs">(</tspan><tspan x="160.6" class="c" textLength="194.4" lengthAdjust="spacing">归一化</tspan><tspan x="358.5" class="p" textLength="20.4" lengthAdjust="spacingAndGlyphs">)</tspan></text>
<text y="129.6" class="b"><tspan x="1131.4" class="i" textLength="37.0" lengthAdjust="spacingAndGlyphs">μ</tspan><tspan x="1166.6" textLength="52.8" lengthAdjust="spacingAndGlyphs">=</tspan><tspan x="1219.6" textLength="156.3" lengthAdjust="spacingAndGlyphs">0.508</tspan></text>
<text y="219.5" class="b"><tspan x="1128.2" class="i" textLength="35.3" lengthAdjust="spacingAndGlyphs">σ</tspan><tspan x="1165.4" textLength="52.8" lengthAdjust="spacingAndGlyphs">=</tspan><tspan x="1218.5" textLength="152.9" lengthAdjust="spacingAndGlyphs">0.065</tspan></text>
<text y="51.6"><tspan x="1912.5" textLength="155.5" lengthAdjust="spacingAndGlyphs">0.050</tspan></text>
<text y="258.6"><tspan x="1912.5" textLength="155.5" lengthAdjust="spacingAndGlyphs">0.025</tspan></text>
<text y="466.1"><tspan x="2034.2" textLength="33.7" lengthAdjust="spacingAndGlyphs">0</tspan></text>
<text y="663.5"><tspan x="1876.3" textLength="38.7" lengthAdjust="spacingAndGlyphs">−</tspan><tspan x="1912.7" textLength="155.9" lengthAdjust="spacingAndGlyphs">0.025</tspan></text>
<text y="862.1"><tspan x="1876.3" textLength="38.7" lengthAdjust="spacingAndGlyphs">−</tspan><tspan x="1912.7" textLength="155.9" lengthAdjust="spacingAndGlyphs">0.050</tspan></text>
<text y="936.3"><tspan x="2092.1" textLength="33.6" lengthAdjust="spacingAndGlyphs">0</tspan></text>
<text y="936.3"><tspan x="2291.8" textLength="31.0" lengthAdjust="spacingAndGlyphs">1</tspan><tspan x="2322.8"> </tspan><tspan x="2348.6" textLength="99.9" lengthAdjust="spacingAndGlyphs">000</tspan></text>
<text y="936.3"><tspan x="2552.8" textLength="32.4" lengthAdjust="spacingAndGlyphs">2</tspan><tspan x="2583.3"> </tspan><tspan x="2609.1" textLength="99.9" lengthAdjust="spacingAndGlyphs">000</tspan></text>
<text y="936.3"><tspan x="2813.0" textLength="32.7" lengthAdjust="spacingAndGlyphs">3</tspan><tspan x="2843.9"> </tspan><tspan x="2869.7" textLength="99.9" lengthAdjust="spacingAndGlyphs">000</tspan></text>
<text y="936.3"><tspan x="3073.6" textLength="31.5" lengthAdjust="spacingAndGlyphs">4</tspan><tspan x="3104.4"> </tspan><tspan x="3130.3" textLength="99.9" lengthAdjust="spacingAndGlyphs">000</tspan></text>
<text y="936.3"><tspan x="3334.4" textLength="32.7" lengthAdjust="spacingAndGlyphs">5</tspan><tspan x="3365.0"> </tspan><tspan x="3390.8" textLength="99.9" lengthAdjust="spacingAndGlyphs">000</tspan></text>
<text y="1047.0"><tspan x="2628.6" class="c" textLength="269.7" lengthAdjust="spacing">滞后阶数</tspan></text>
<text y="1156.5"><tspan x="2541.3" class="p" textLength="21.1" lengthAdjust="spacingAndGlyphs">(</tspan><tspan x="2568.6" textLength="31.1" lengthAdjust="spacingAndGlyphs">b</tspan><tspan x="2604.2" class="p" textLength="18.4" lengthAdjust="spacingAndGlyphs">)</tspan><tspan x="2624.0"> </tspan><tspan x="2651.3" class="c" textLength="336.0" lengthAdjust="spacing">自相关测试</tspan></text>
<text y="0.0" transform="translate(1828.5 628.6) rotate(-90)"><tspan x="-12.0" class="c" textLength="408.6" lengthAdjust="spacing">自动校正系数</tspan></text>
<text y="122.1" class="b"><tspan x="2544.7" textLength="119.4" lengthAdjust="spacingAndGlyphs">95%</tspan><tspan x="2669.4" class="c" textLength="269.9" lengthAdjust="spacing">置信区间</tspan><tspan x="2939.7" textLength="15.7" lengthAdjust="spacingAndGlyphs">:</tspan><tspan x="2955.0"> </tspan><tspan x="2978.1" class="i" textLength="35.4" lengthAdjust="spacingAndGlyphs">σ</tspan><tspan x="3015.3" textLength="53.6" lengthAdjust="spacingAndGlyphs">=</tspan><tspan x="3069.1" textLength="151.9" lengthAdjust="spacingAndGlyphs">0.027</tspan><tspan x="3222.0"> </tspan><tspan x="3242.2" textLength="38.0" lengthAdjust="spacingAndGlyphs">7</tspan></text>
</svg>
</body></html>
